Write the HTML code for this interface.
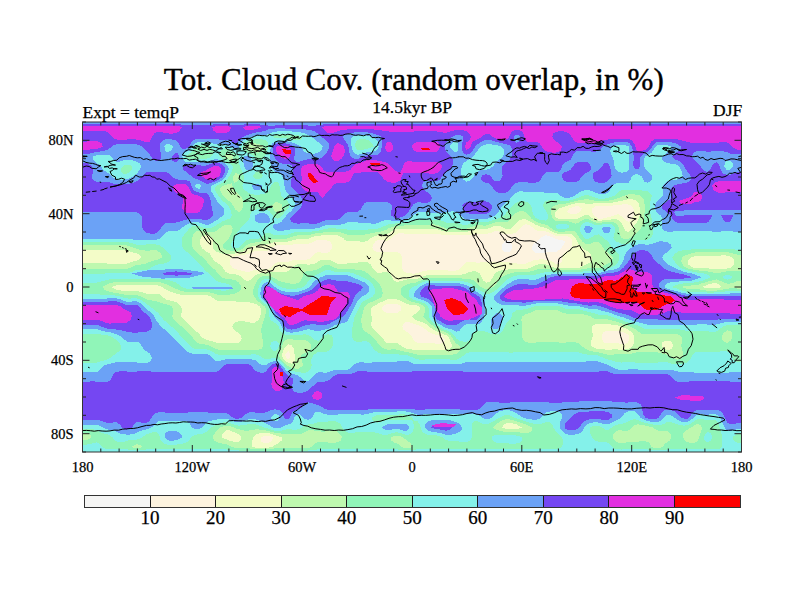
<!DOCTYPE html>
<html><head><meta charset="utf-8"><title>Tot. Cloud Cov.</title>
<style>
html,body{margin:0;padding:0;background:#fff;}
body{width:800px;height:600px;overflow:hidden;}
svg{display:block;}
text{font-family:"Liberation Serif","Times New Roman",serif;fill:#000;stroke:#000;stroke-width:0.25px;}
.ax{font-size:14.5px;}
.cb{font-size:19px;}
.sub{font-size:17.5px;}
.title{font-size:31px;stroke-width:0.4px;}
</style></head><body>
<svg width="800" height="600" viewBox="0 0 800 600">
<rect width="800" height="600" fill="#fff"/>
<defs><clipPath id="clip"><rect x="82.5" y="122" width="659" height="330"/></clipPath></defs>
<g clip-path="url(#clip)">
<rect x="82.5" y="122" width="659" height="330" fill="#f5f5f4"/>
<g shape-rendering="crispEdges">
<path fill="#fdf3df" d="M87,120 90.3,120 93.6,120 96.9,120 100.2,120 103.5,120 106.8,120 110.1,120 113.4,120 116.7,120 120,120 123.3,120 126.6,120 129.9,120 133.2,120 136.5,120 139.8,120 143.1,120 146.4,120 149.7,120 153,120 156.3,120 159.6,120 162.9,120 166.2,120 169.5,120 172.8,120 176.1,120 179.4,120 182.7,120 186,120 189.3,120 192.6,120 195.9,120 199.2,120 202.5,120 205.8,120 209.1,120 212.4,120 215.7,120 219,120 222.3,120 225.6,120 228.9,120 232.2,120 235.5,120 238.8,120 242.1,120 245.4,120 248.7,120 252,120 255.3,120 258.6,120 261.9,120 265.2,120 268.5,120 271.8,120 275.1,120 278.4,120 281.7,120 285,120 288.3,120 291.6,120 294.9,120 298.2,120 301.5,120 304.8,120 308.1,120 311.4,120 314.7,120 318,120 321.3,120 324.6,120 327.9,120 331.2,120 334.5,120 337.8,120 341.1,120 344.4,120 347.7,120 351,120 354.3,120 357.6,120 360.9,120 364.2,120 367.5,120 370.8,120 374.1,120 377.4,120 380.7,120 384,120 387.3,120 390.6,120 393.9,120 397.2,120 400.5,120 403.8,120 407.1,120 410.4,120 413.6,120 416.9,120 420.2,120 423.5,120 426.8,120 430.1,120 433.4,120 436.7,120 440,120 443.3,120 446.6,120 449.9,120 453.2,120 456.5,120 459.8,120 463.1,120 466.4,120 469.7,120 473,120 476.3,120 479.6,120 482.9,120 486.2,120 489.5,120 492.8,120 496.1,120 499.4,120 502.7,120 506,120 509.3,120 512.6,120 515.9,120 519.2,120 522.5,120 525.8,120 529.1,120 532.4,120 535.7,120 539,120 542.3,120 545.6,120 548.9,120 552.2,120 555.5,120 558.8,120 562.1,120 565.4,120 568.7,120 572,120 575.3,120 578.6,120 581.9,120 585.2,120 588.5,120 591.8,120 595.1,120 598.4,120 601.7,120 605,120 608.3,120 611.6,120 614.9,120 618.2,120 621.5,120 624.8,120 628.1,120 631.4,120 634.7,120 638,120 641.3,120 644.6,120 647.9,120 651.2,120 654.5,120 657.8,120 661.1,120 664.4,120 667.7,120 671,120 674.3,120 677.6,120 680.9,120 684.2,120 687.5,120 690.8,120 694.1,120 697.4,120 700.7,120 704,120 707.3,120 710.6,120 713.9,120 717.2,120 720.5,120 723.8,120 727.1,120 730.4,120 733.7,120 737,120 743.5,120 743.5,122.3 743.5,127 743.5,130.3 743.5,133.5 743.5,136.8 743.5,140.1 743.5,143.3 743.5,146.6 743.5,149.9 743.5,153.1 743.5,156.4 743.5,159.7 743.5,162.9 743.5,166.2 743.5,169.4 743.5,172.7 743.5,176 743.5,179.2 743.5,182.5 743.5,185.8 743.5,189 743.5,192.3 743.5,195.6 743.5,198.8 743.5,202.1 743.5,205.4 743.5,208.6 743.5,211.9 743.5,215.2 743.5,218.4 743.5,221.7 743.5,225 743.5,228.2 743.5,231.5 743.5,234.8 743.5,238 743.5,241.3 743.5,244.6 743.5,247.8 743.5,251.1 743.5,254.3 743.5,257.6 743.5,260.9 743.5,264.1 743.5,267.4 743.5,270.7 743.5,273.9 743.5,277.2 743.5,280.5 743.5,283.7 743.5,287 743.5,290.3 743.5,293.5 743.5,296.8 743.5,300.1 743.5,303.3 743.5,306.6 743.5,309.9 743.5,313.1 743.5,316.4 743.5,319.7 743.5,322.9 743.5,326.2 743.5,329.4 743.5,332.7 743.5,336 743.5,339.2 743.5,342.5 743.5,345.8 743.5,349 743.5,352.3 743.5,355.6 743.5,358.8 743.5,362.1 743.5,365.4 743.5,368.6 743.5,371.9 743.5,375.2 743.5,378.4 743.5,381.7 743.5,385 743.5,388.2 743.5,391.5 743.5,394.8 743.5,398 743.5,401.3 743.5,404.6 743.5,407.8 743.5,411.1 743.5,414.3 743.5,417.6 743.5,420.9 743.5,424.1 743.5,427.4 743.5,430.7 743.5,433.9 743.5,437.2 743.5,440.5 743.5,443.7 743.5,447 743.5,451.7 743.5,454 737,454 733.7,454 730.4,454 727.1,454 723.8,454 720.5,454 717.2,454 713.9,454 710.6,454 707.3,454 704,454 700.7,454 697.4,454 694.1,454 690.8,454 687.5,454 684.2,454 680.9,454 677.6,454 674.3,454 671,454 667.7,454 664.4,454 661.1,454 657.8,454 654.5,454 651.2,454 647.9,454 644.6,454 641.3,454 638,454 634.7,454 631.4,454 628.1,454 624.8,454 621.5,454 618.2,454 614.9,454 611.6,454 608.3,454 605,454 601.7,454 598.4,454 595.1,454 591.8,454 588.5,454 585.2,454 581.9,454 578.6,454 575.3,454 572,454 568.7,454 565.4,454 562.1,454 558.8,454 555.5,454 552.2,454 548.9,454 545.6,454 542.3,454 539,454 535.7,454 532.4,454 529.1,454 525.8,454 522.5,454 519.2,454 515.9,454 512.6,454 509.3,454 506,454 502.7,454 499.4,454 496.1,454 492.8,454 489.5,454 486.2,454 482.9,454 479.6,454 476.3,454 473,454 469.7,454 466.4,454 463.1,454 459.8,454 456.5,454 453.2,454 449.9,454 446.6,454 443.3,454 440,454 436.7,454 433.4,454 430.1,454 426.8,454 423.5,454 420.2,454 416.9,454 413.6,454 410.4,454 407.1,454 403.8,454 400.5,454 397.2,454 393.9,454 390.6,454 387.3,454 384,454 380.7,454 377.4,454 374.1,454 370.8,454 367.5,454 364.2,454 360.9,454 357.6,454 354.3,454 351,454 347.7,454 344.4,454 341.1,454 337.8,454 334.5,454 331.2,454 327.9,454 324.6,454 321.3,454 318,454 314.7,454 311.4,454 308.1,454 304.8,454 301.5,454 298.2,454 294.9,454 291.6,454 288.3,454 285,454 281.7,454 278.4,454 275.1,454 271.8,454 268.5,454 265.2,454 261.9,454 258.6,454 255.3,454 252,454 248.7,454 245.4,454 242.1,454 238.8,454 235.5,454 232.2,454 228.9,454 225.6,454 222.3,454 219,454 215.7,454 212.4,454 209.1,454 205.8,454 202.5,454 199.2,454 195.9,454 192.6,454 189.3,454 186,454 182.7,454 179.4,454 176.1,454 172.8,454 169.5,454 166.2,454 162.9,454 159.6,454 156.3,454 153,454 149.7,454 146.4,454 143.1,454 139.8,454 136.5,454 133.2,454 129.9,454 126.6,454 123.3,454 120,454 116.7,454 113.4,454 110.1,454 106.8,454 103.5,454 100.2,454 96.9,454 93.6,454 90.3,454 87,454 80.5,454 80.5,451.7 80.5,447 80.5,443.7 80.5,440.5 80.5,437.2 80.5,433.9 80.5,430.7 80.5,427.4 80.5,424.1 80.5,420.9 80.5,417.6 80.5,414.3 80.5,411.1 80.5,407.8 80.5,404.6 80.5,401.3 80.5,398 80.5,394.8 80.5,391.5 80.5,388.2 80.5,385 80.5,381.7 80.5,378.4 80.5,375.2 80.5,371.9 80.5,368.6 80.5,365.4 80.5,362.1 80.5,358.8 80.5,355.6 80.5,352.3 80.5,349 80.5,345.8 80.5,342.5 80.5,339.2 80.5,336 80.5,332.7 80.5,329.4 80.5,326.2 80.5,322.9 80.5,319.7 80.5,316.4 80.5,313.1 80.5,309.9 80.5,306.6 80.5,303.3 80.5,300.1 80.5,296.8 80.5,293.5 80.5,290.3 80.5,287 80.5,283.7 80.5,280.5 80.5,277.2 80.5,273.9 80.5,270.7 80.5,267.4 80.5,264.1 80.5,260.9 80.5,257.6 80.5,254.3 80.5,251.1 80.5,247.8 80.5,244.6 80.5,241.3 80.5,238 80.5,234.8 80.5,231.5 80.5,228.2 80.5,225 80.5,221.7 80.5,218.4 80.5,215.2 80.5,211.9 80.5,208.6 80.5,205.4 80.5,202.1 80.5,198.8 80.5,195.6 80.5,192.3 80.5,189 80.5,185.8 80.5,182.5 80.5,179.2 80.5,176 80.5,172.7 80.5,169.4 80.5,166.2 80.5,162.9 80.5,159.7 80.5,156.4 80.5,153.1 80.5,149.9 80.5,146.6 80.5,143.3 80.5,140.1 80.5,136.8 80.5,133.5 80.5,130.3 80.5,127 80.5,122.3 80.5,120ZM540.7,238 539,240 537.3,241.3 535.7,242.5 533.2,244.6 532.4,246.2 531.8,247.8 532.4,249.6 533.1,251.1 535.7,252.8 539,253.3 542.3,253 545.6,252.5 548.9,252.4 552.2,252.5 555.5,252.2 557.3,251.1 558.8,250.2 561.5,247.8 562.1,246.8 564,244.6 565.2,241.3 562.1,240.1 558.8,239.8 555.5,239 554.2,238 552.2,237.4 548.9,236 545.6,235.2 542.3,236.6ZM505.1,241.3 502.7,243.5 502.1,244.6 501.7,247.8 502.7,250 503.7,251.1 506,252.3 509.3,251.8 510.3,251.1 512.4,247.8 512.2,244.6 509.6,241.3 509.3,241.2 506,240.9Z"/>
<path fill="#f3fcc8" d="M87,120 90.3,120 93.6,120 96.9,120 100.2,120 103.5,120 106.8,120 110.1,120 113.4,120 116.7,120 120,120 123.3,120 126.6,120 129.9,120 133.2,120 136.5,120 139.8,120 143.1,120 146.4,120 149.7,120 153,120 156.3,120 159.6,120 162.9,120 166.2,120 169.5,120 172.8,120 176.1,120 179.4,120 182.7,120 186,120 189.3,120 192.6,120 195.9,120 199.2,120 202.5,120 205.8,120 209.1,120 212.4,120 215.7,120 219,120 222.3,120 225.6,120 228.9,120 232.2,120 235.5,120 238.8,120 242.1,120 245.4,120 248.7,120 252,120 255.3,120 258.6,120 261.9,120 265.2,120 268.5,120 271.8,120 275.1,120 278.4,120 281.7,120 285,120 288.3,120 291.6,120 294.9,120 298.2,120 301.5,120 304.8,120 308.1,120 311.4,120 314.7,120 318,120 321.3,120 324.6,120 327.9,120 331.2,120 334.5,120 337.8,120 341.1,120 344.4,120 347.7,120 351,120 354.3,120 357.6,120 360.9,120 364.2,120 367.5,120 370.8,120 374.1,120 377.4,120 380.7,120 384,120 387.3,120 390.6,120 393.9,120 397.2,120 400.5,120 403.8,120 407.1,120 410.4,120 413.6,120 416.9,120 420.2,120 423.5,120 426.8,120 430.1,120 433.4,120 436.7,120 440,120 443.3,120 446.6,120 449.9,120 453.2,120 456.5,120 459.8,120 463.1,120 466.4,120 469.7,120 473,120 476.3,120 479.6,120 482.9,120 486.2,120 489.5,120 492.8,120 496.1,120 499.4,120 502.7,120 506,120 509.3,120 512.6,120 515.9,120 519.2,120 522.5,120 525.8,120 529.1,120 532.4,120 535.7,120 539,120 542.3,120 545.6,120 548.9,120 552.2,120 555.5,120 558.8,120 562.1,120 565.4,120 568.7,120 572,120 575.3,120 578.6,120 581.9,120 585.2,120 588.5,120 591.8,120 595.1,120 598.4,120 601.7,120 605,120 608.3,120 611.6,120 614.9,120 618.2,120 621.5,120 624.8,120 628.1,120 631.4,120 634.7,120 638,120 641.3,120 644.6,120 647.9,120 651.2,120 654.5,120 657.8,120 661.1,120 664.4,120 667.7,120 671,120 674.3,120 677.6,120 680.9,120 684.2,120 687.5,120 690.8,120 694.1,120 697.4,120 700.7,120 704,120 707.3,120 710.6,120 713.9,120 717.2,120 720.5,120 723.8,120 727.1,120 730.4,120 733.7,120 737,120 743.5,120 743.5,122.3 743.5,127 743.5,130.3 743.5,133.5 743.5,136.8 743.5,140.1 743.5,143.3 743.5,146.6 743.5,149.9 743.5,153.1 743.5,156.4 743.5,159.7 743.5,162.9 743.5,166.2 743.5,169.4 743.5,172.7 743.5,176 743.5,179.2 743.5,182.5 743.5,185.8 743.5,189 743.5,192.3 743.5,195.6 743.5,198.8 743.5,202.1 743.5,205.4 743.5,208.6 743.5,211.9 743.5,215.2 743.5,218.4 743.5,221.7 743.5,225 743.5,228.2 743.5,231.5 743.5,234.8 743.5,238 743.5,241.3 743.5,244.6 743.5,247.8 743.5,251.1 743.5,254.3 743.5,257.6 743.5,260.9 743.5,264.1 743.5,267.4 743.5,270.7 743.5,273.9 743.5,277.2 743.5,280.5 743.5,283.7 743.5,287 743.5,290.3 743.5,293.5 743.5,296.8 743.5,300.1 743.5,303.3 743.5,306.6 743.5,309.9 743.5,313.1 743.5,316.4 743.5,319.7 743.5,322.9 743.5,326.2 743.5,329.4 743.5,332.7 743.5,336 743.5,339.2 743.5,342.5 743.5,345.8 743.5,349 743.5,352.3 743.5,355.6 743.5,358.8 743.5,362.1 743.5,365.4 743.5,368.6 743.5,371.9 743.5,375.2 743.5,378.4 743.5,381.7 743.5,385 743.5,388.2 743.5,391.5 743.5,394.8 743.5,398 743.5,401.3 743.5,404.6 743.5,407.8 743.5,411.1 743.5,414.3 743.5,417.6 743.5,420.9 743.5,424.1 743.5,427.4 743.5,430.7 743.5,433.9 743.5,437.2 743.5,440.5 743.5,443.7 743.5,447 743.5,451.7 743.5,454 737,454 733.7,454 730.4,454 727.1,454 723.8,454 720.5,454 717.2,454 713.9,454 710.6,454 707.3,454 704,454 700.7,454 697.4,454 694.1,454 690.8,454 687.5,454 684.2,454 680.9,454 677.6,454 674.3,454 671,454 667.7,454 664.4,454 661.1,454 657.8,454 654.5,454 651.2,454 647.9,454 644.6,454 641.3,454 638,454 634.7,454 631.4,454 628.1,454 624.8,454 621.5,454 618.2,454 614.9,454 611.6,454 608.3,454 605,454 601.7,454 598.4,454 595.1,454 591.8,454 588.5,454 585.2,454 581.9,454 578.6,454 575.3,454 572,454 568.7,454 565.4,454 562.1,454 558.8,454 555.5,454 552.2,454 548.9,454 545.6,454 542.3,454 539,454 535.7,454 532.4,454 529.1,454 525.8,454 522.5,454 519.2,454 515.9,454 512.6,454 509.3,454 506,454 502.7,454 499.4,454 496.1,454 492.8,454 489.5,454 486.2,454 482.9,454 479.6,454 476.3,454 473,454 469.7,454 466.4,454 463.1,454 459.8,454 456.5,454 453.2,454 449.9,454 446.6,454 443.3,454 440,454 436.7,454 433.4,454 430.1,454 426.8,454 423.5,454 420.2,454 416.9,454 413.6,454 410.4,454 407.1,454 403.8,454 400.5,454 397.2,454 393.9,454 390.6,454 387.3,454 384,454 380.7,454 377.4,454 374.1,454 370.8,454 367.5,454 364.2,454 360.9,454 357.6,454 354.3,454 351,454 347.7,454 344.4,454 341.1,454 337.8,454 334.5,454 331.2,454 327.9,454 324.6,454 321.3,454 318,454 314.7,454 311.4,454 308.1,454 304.8,454 301.5,454 298.2,454 294.9,454 291.6,454 288.3,454 285,454 281.7,454 278.4,454 275.1,454 271.8,454 268.5,454 265.2,454 261.9,454 258.6,454 255.3,454 252,454 248.7,454 245.4,454 242.1,454 238.8,454 235.5,454 232.2,454 228.9,454 225.6,454 222.3,454 219,454 215.7,454 212.4,454 209.1,454 205.8,454 202.5,454 199.2,454 195.9,454 192.6,454 189.3,454 186,454 182.7,454 179.4,454 176.1,454 172.8,454 169.5,454 166.2,454 162.9,454 159.6,454 156.3,454 153,454 149.7,454 146.4,454 143.1,454 139.8,454 136.5,454 133.2,454 129.9,454 126.6,454 123.3,454 120,454 116.7,454 113.4,454 110.1,454 106.8,454 103.5,454 100.2,454 96.9,454 93.6,454 90.3,454 87,454 80.5,454 80.5,451.7 80.5,447 80.5,443.7 80.5,440.5 80.5,437.2 80.5,433.9 80.5,430.7 80.5,427.4 80.5,424.1 80.5,420.9 80.5,417.6 80.5,414.3 80.5,411.1 80.5,407.8 80.5,404.6 80.5,401.3 80.5,398 80.5,394.8 80.5,391.5 80.5,388.2 80.5,385 80.5,381.7 80.5,378.4 80.5,375.2 80.5,371.9 80.5,368.6 80.5,365.4 80.5,362.1 80.5,358.8 80.5,355.6 80.5,352.3 80.5,349 80.5,345.8 80.5,342.5 80.5,339.2 80.5,336 80.5,332.7 80.5,329.4 80.5,326.2 80.5,322.9 80.5,319.7 80.5,316.4 80.5,313.1 80.5,309.9 80.5,306.6 80.5,303.3 80.5,300.1 80.5,296.8 80.5,293.5 80.5,290.3 80.5,287 80.5,283.7 80.5,280.5 80.5,277.2 80.5,273.9 80.5,270.7 80.5,267.4 80.5,264.1 80.5,260.9 80.5,257.6 80.5,254.3 80.5,251.1 80.5,247.8 80.5,244.6 80.5,241.3 80.5,238 80.5,234.8 80.5,231.5 80.5,228.2 80.5,225 80.5,221.7 80.5,218.4 80.5,215.2 80.5,211.9 80.5,208.6 80.5,205.4 80.5,202.1 80.5,198.8 80.5,195.6 80.5,192.3 80.5,189 80.5,185.8 80.5,182.5 80.5,179.2 80.5,176 80.5,172.7 80.5,169.4 80.5,166.2 80.5,162.9 80.5,159.7 80.5,156.4 80.5,153.1 80.5,149.9 80.5,146.6 80.5,143.3 80.5,140.1 80.5,136.8 80.5,133.5 80.5,130.3 80.5,127 80.5,122.3 80.5,120ZM613.3,205.4 611.6,205.7 608.3,206 605,205.9 601.7,205.8 598.4,205.8 595.1,206.6 591.8,208.6 591.7,208.6 591.8,211.9 591.8,211.9 593.3,215.2 595.1,216.7 598.1,218.4 598.4,218.5 601.7,218.6 604,218.4 605,218.2 608.3,217.1 611.6,216.3 614.5,215.2 614.9,214.8 618.2,214.3 619.8,215.2 621.5,216.2 623.7,218.4 624.8,219.7 627.9,221.7 628.1,221.9 628.4,221.7 631.4,219.6 632.4,218.4 633.8,215.2 634,211.9 633.4,208.6 631.4,206 630.7,205.4 628.1,204.4 624.8,204.2 621.5,204.5 618.2,204.9 614.9,205.2ZM569.2,208.6 568.7,209.6 567,211.9 568.7,213 572,214 575.3,214.3 578.6,213.1 580.1,211.9 581.9,208.6 578.6,206.1 575.3,206.3 572,207.5ZM523.9,225 522.5,225.7 520,228.2 519.2,229.2 517.1,231.5 515.9,232.4 512.6,233.8 509.3,234.4 506,234.4 502.7,233.6 499.4,231.7 498.8,231.5 496.1,230.7 494,231.5 492.8,232 489.5,233.3 486.2,233.9 482.9,233.9 479.6,233.8 476.3,233.9 473,234.4 469.7,234.7 469.5,234.8 466.4,235.1 463.1,235.2 459.8,235.2 456.5,235.3 453.2,235.3 449.9,235.3 446.6,235.2 443.3,234.8 443,234.8 440,234.4 436.7,234 433.4,233.9 430.1,234 426.8,234 423.5,234 420.2,234 416.9,234 413.6,234 410.4,234 407.1,233.8 403.8,233.5 400.5,233.3 397.2,233.6 395.2,234.8 393.9,235.9 391.3,238 390.6,238.8 387.3,240.7 384,240.5 380.7,240.1 377.4,240.1 375.6,241.3 374.1,243 373,244.6 372.2,247.8 374.1,250.5 374.9,251.1 377.4,252.1 380.7,252.4 384,252.4 387.3,252.2 390.6,251.9 393.9,251.7 397.2,252 400.5,254.1 400.7,254.3 402.1,257.6 402.2,260.9 402.1,264.1 402,267.4 403.2,270.7 403.8,271.3 407.1,273 410.4,273.4 413.6,273.6 416.9,273.3 420.2,271.9 423.5,271 425.8,270.7 426.8,270.5 430.1,270.4 433.4,270.4 436.7,270.4 440,270.4 443.3,270.4 446.6,270.4 449.9,270.6 450.7,270.7 453.2,270.7 454.6,270.7 456.5,270.5 459.8,268.9 461.6,267.4 463.1,265.2 464.2,264.1 466.4,262.5 469.7,262.1 473,262.2 476.3,262.5 479.6,262.5 482.9,262.2 486.2,262 489.5,262 492.8,262.2 496.1,262.4 499.4,262.5 502.7,262.4 506,262.3 509.3,262.4 512.6,262.8 515.9,263.3 519.2,263.8 522.5,264 525.8,263.7 529.1,262.2 532,260.9 532.4,260.7 535.7,259.8 539,259.5 542.3,259.4 545.6,259.7 548.9,260.4 550.1,260.9 552.2,261.8 555.5,263.5 557.9,264.1 558.8,264.3 559.7,264.1 562.1,261.4 562.3,260.9 562.1,259.3 562,257.6 562.1,257.3 563.5,254.3 565.4,252.2 566.8,251.1 568.7,249.6 571.3,247.8 572,246.2 572.5,244.6 572.3,241.3 572,240.7 570.9,238 568.7,236.6 565.4,235.9 562.1,236.1 558.8,236.1 555.5,235.6 553.7,234.8 552.2,234.2 548.9,232.6 546.1,231.5 545.6,231.3 542.3,231 539,231 535.7,230.3 533.9,228.2 532.4,227.4 529.1,225.2 528.5,225 525.8,224.3ZM314,241.3 311.4,242.8 308.1,243.8 304.8,244 301.5,244 298.2,244 294.9,244.3 292.8,244.6 291.6,244.8 288.3,245.1 285,245.2 281.7,245 278.4,245 275.1,245.8 271.8,247.5 271.2,247.8 268.5,250.5 266.3,251.1 265.2,251.4 262.3,251.1 261.9,251 258.6,250.6 255.3,250.9 254.9,251.1 252,252.4 248.7,253.6 245.8,254.3 245.4,254.5 242.1,255.2 238.8,255.8 235.5,256.2 232.2,257.3 231.4,257.6 229.8,260.9 230.2,264.1 232.1,267.4 232.2,267.5 235.5,269.1 238.8,269.9 241.9,270.7 242.1,270.7 245.4,271.8 248.7,271.9 252,270.8 252.6,270.7 255.3,270 258.6,269.6 261.9,269.4 265.2,269.2 268.5,268.6 271.2,267.4 271.8,266.8 274.2,264.1 275.1,263.2 278.4,261.8 281.7,262 285,262.2 288.3,261.7 290.3,260.9 291.6,260.5 294.9,259.7 298.2,259.5 301.5,259.7 304.8,259.8 308.1,259.4 311.3,257.6 311.4,257.5 314.1,254.3 314.7,253.7 318,252.2 321.3,252.5 324.6,252.9 327.9,252.7 330.1,251.1 331.2,249.3 331.8,247.8 331.8,244.6 331.2,243 329.6,241.3 327.9,240.7 324.6,240.1 321.3,239.7 318,239.7 314.7,241ZM382.4,306.6 381.9,309.9 384,311.8 387.3,313 389.4,313.1 390.6,313.2 393.9,313.2 394.7,313.1 397.2,312.9 400.5,310.9 401.3,309.9 401.3,306.6 400.5,306.1 397.2,304.1 393.9,303.6 390.6,303.6 387.3,304.1 384,305.7ZM404.3,322.9 403.8,323.5 402.2,326.2 403.2,329.4 403.8,329.9 407.1,332.2 407.8,332.7 410.4,334.9 411.3,336 413,339.2 413.6,340.4 416.9,342.5 416.9,342.5 420.2,342.8 423.5,342.9 426.8,343 430.1,343.2 433.4,343.4 436.7,343.6 440,343.6 443.3,343.1 444.2,342.5 444.9,339.2 443.3,337.9 440.9,336 440,335.7 436.7,334.8 433.4,334 430.2,332.7 430.1,332.7 426.8,330.5 425.7,329.4 423.5,328 421,326.2 420.2,325.9 416.9,324.7 413.6,323.8 411,322.9 410.4,322.7 407.1,321.7ZM603.2,332.7 601.7,335.5 601.6,336 601.6,339.2 601.7,339.5 604.2,342.5 605,342.8 608.3,343.1 611.6,343 614.9,343 618.2,343.4 621.5,344 624.8,344.1 628,342.5 628.1,342.4 629.4,339.2 629.1,336 628.1,334.8 624.8,332.8 624.6,332.7 621.5,331.9 618.2,331 614.9,330.5 611.6,330.6 608.3,330.9 605,331.6ZM286.8,352.3 285,355 284.8,355.6 285,355.9 287.7,358.8 288.3,359.2 289,358.8 290.4,355.6 289.4,352.3 288.3,350.8ZM260.9,437.2 260.7,440.5 261.9,442.1 265.2,443.5 268.5,442.7 271.8,440.8 272.2,440.5 273,437.2 271.8,436.8 268.5,435.9 265.2,435.8 261.9,436.7Z"/>
<path fill="#bef8af" d="M87,120 90.3,120 93.6,120 96.9,120 100.2,120 103.5,120 106.8,120 110.1,120 113.4,120 116.7,120 120,120 123.3,120 126.6,120 129.9,120 133.2,120 136.5,120 139.8,120 143.1,120 146.4,120 149.7,120 153,120 156.3,120 159.6,120 162.9,120 166.2,120 169.5,120 172.8,120 176.1,120 179.4,120 182.7,120 186,120 189.3,120 192.6,120 195.9,120 199.2,120 202.5,120 205.8,120 209.1,120 212.4,120 215.7,120 219,120 222.3,120 225.6,120 228.9,120 232.2,120 235.5,120 238.8,120 242.1,120 245.4,120 248.7,120 252,120 255.3,120 258.6,120 261.9,120 265.2,120 268.5,120 271.8,120 275.1,120 278.4,120 281.7,120 285,120 288.3,120 291.6,120 294.9,120 298.2,120 301.5,120 304.8,120 308.1,120 311.4,120 314.7,120 318,120 321.3,120 324.6,120 327.9,120 331.2,120 334.5,120 337.8,120 341.1,120 344.4,120 347.7,120 351,120 354.3,120 357.6,120 360.9,120 364.2,120 367.5,120 370.8,120 374.1,120 377.4,120 380.7,120 384,120 387.3,120 390.6,120 393.9,120 397.2,120 400.5,120 403.8,120 407.1,120 410.4,120 413.6,120 416.9,120 420.2,120 423.5,120 426.8,120 430.1,120 433.4,120 436.7,120 440,120 443.3,120 446.6,120 449.9,120 453.2,120 456.5,120 459.8,120 463.1,120 466.4,120 469.7,120 473,120 476.3,120 479.6,120 482.9,120 486.2,120 489.5,120 492.8,120 496.1,120 499.4,120 502.7,120 506,120 509.3,120 512.6,120 515.9,120 519.2,120 522.5,120 525.8,120 529.1,120 532.4,120 535.7,120 539,120 542.3,120 545.6,120 548.9,120 552.2,120 555.5,120 558.8,120 562.1,120 565.4,120 568.7,120 572,120 575.3,120 578.6,120 581.9,120 585.2,120 588.5,120 591.8,120 595.1,120 598.4,120 601.7,120 605,120 608.3,120 611.6,120 614.9,120 618.2,120 621.5,120 624.8,120 628.1,120 631.4,120 634.7,120 638,120 641.3,120 644.6,120 647.9,120 651.2,120 654.5,120 657.8,120 661.1,120 664.4,120 667.7,120 671,120 674.3,120 677.6,120 680.9,120 684.2,120 687.5,120 690.8,120 694.1,120 697.4,120 700.7,120 704,120 707.3,120 710.6,120 713.9,120 717.2,120 720.5,120 723.8,120 727.1,120 730.4,120 733.7,120 737,120 743.5,120 743.5,122.3 743.5,127 743.5,130.3 743.5,133.5 743.5,136.8 743.5,140.1 743.5,143.3 743.5,146.6 743.5,149.9 743.5,153.1 743.5,156.4 743.5,159.7 743.5,162.9 743.5,166.2 743.5,169.4 743.5,172.7 743.5,176 743.5,179.2 743.5,182.5 743.5,185.8 743.5,189 743.5,192.3 743.5,195.6 743.5,198.8 743.5,202.1 743.5,205.4 743.5,208.6 743.5,211.9 743.5,215.2 743.5,218.4 743.5,221.7 743.5,225 743.5,228.2 743.5,231.5 743.5,234.8 743.5,238 743.5,241.3 743.5,244.6 743.5,247.8 743.5,251.1 743.5,254.3 743.5,257.6 743.5,260.9 743.5,264.1 743.5,267.4 743.5,270.7 743.5,273.9 743.5,277.2 743.5,280.5 743.5,283.7 743.5,287 743.5,290.3 743.5,293.5 743.5,296.8 743.5,300.1 743.5,303.3 743.5,306.6 743.5,309.9 743.5,313.1 743.5,316.4 743.5,319.7 743.5,322.9 743.5,326.2 743.5,329.4 743.5,332.7 743.5,336 743.5,339.2 743.5,342.5 743.5,345.8 743.5,349 743.5,352.3 743.5,355.6 743.5,358.8 743.5,362.1 743.5,365.4 743.5,368.6 743.5,371.9 743.5,375.2 743.5,378.4 743.5,381.7 743.5,385 743.5,388.2 743.5,391.5 743.5,394.8 743.5,398 743.5,401.3 743.5,404.6 743.5,407.8 743.5,411.1 743.5,414.3 743.5,417.6 743.5,420.9 743.5,424.1 743.5,427.4 743.5,430.7 743.5,433.9 743.5,437.2 743.5,440.5 743.5,443.7 743.5,447 743.5,451.7 743.5,454 737,454 733.7,454 730.4,454 727.1,454 723.8,454 720.5,454 717.2,454 713.9,454 710.6,454 707.3,454 704,454 700.7,454 697.4,454 694.1,454 690.8,454 687.5,454 684.2,454 680.9,454 677.6,454 674.3,454 671,454 667.7,454 664.4,454 661.1,454 657.8,454 654.5,454 651.2,454 647.9,454 644.6,454 641.3,454 638,454 634.7,454 631.4,454 628.1,454 624.8,454 621.5,454 618.2,454 614.9,454 611.6,454 608.3,454 605,454 601.7,454 598.4,454 595.1,454 591.8,454 588.5,454 585.2,454 581.9,454 578.6,454 575.3,454 572,454 568.7,454 565.4,454 562.1,454 558.8,454 555.5,454 552.2,454 548.9,454 545.6,454 542.3,454 539,454 535.7,454 532.4,454 529.1,454 525.8,454 522.5,454 519.2,454 515.9,454 512.6,454 509.3,454 506,454 502.7,454 499.4,454 496.1,454 492.8,454 489.5,454 486.2,454 482.9,454 479.6,454 476.3,454 473,454 469.7,454 466.4,454 463.1,454 459.8,454 456.5,454 453.2,454 449.9,454 446.6,454 443.3,454 440,454 436.7,454 433.4,454 430.1,454 426.8,454 423.5,454 420.2,454 416.9,454 413.6,454 410.4,454 407.1,454 403.8,454 400.5,454 397.2,454 393.9,454 390.6,454 387.3,454 384,454 380.7,454 377.4,454 374.1,454 370.8,454 367.5,454 364.2,454 360.9,454 357.6,454 354.3,454 351,454 347.7,454 344.4,454 341.1,454 337.8,454 334.5,454 331.2,454 327.9,454 324.6,454 321.3,454 318,454 314.7,454 311.4,454 308.1,454 304.8,454 301.5,454 298.2,454 294.9,454 291.6,454 288.3,454 285,454 281.7,454 278.4,454 275.1,454 271.8,454 268.5,454 265.2,454 261.9,454 258.6,454 255.3,454 252,454 248.7,454 245.4,454 242.1,454 238.8,454 235.5,454 232.2,454 228.9,454 225.6,454 222.3,454 219,454 215.7,454 212.4,454 209.1,454 205.8,454 202.5,454 199.2,454 195.9,454 192.6,454 189.3,454 186,454 182.7,454 179.4,454 176.1,454 172.8,454 169.5,454 166.2,454 162.9,454 159.6,454 156.3,454 153,454 149.7,454 146.4,454 143.1,454 139.8,454 136.5,454 133.2,454 129.9,454 126.6,454 123.3,454 120,454 116.7,454 113.4,454 110.1,454 106.8,454 103.5,454 100.2,454 96.9,454 93.6,454 90.3,454 87,454 80.5,454 80.5,451.7 80.5,447 80.5,443.7 80.5,440.5 80.5,437.2 80.5,433.9 80.5,430.7 80.5,427.4 80.5,424.1 80.5,420.9 80.5,417.6 80.5,414.3 80.5,411.1 80.5,407.8 80.5,404.6 80.5,401.3 80.5,398 80.5,394.8 80.5,391.5 80.5,388.2 80.5,385 80.5,381.7 80.5,378.4 80.5,375.2 80.5,371.9 80.5,368.6 80.5,365.4 80.5,362.1 80.5,358.8 80.5,355.6 80.5,352.3 80.5,349 80.5,345.8 80.5,342.5 80.5,339.2 80.5,336 80.5,332.7 80.5,329.4 80.5,326.2 80.5,322.9 80.5,319.7 80.5,316.4 80.5,313.1 80.5,309.9 80.5,306.6 80.5,303.3 80.5,300.1 80.5,296.8 80.5,293.5 80.5,290.3 80.5,287 80.5,283.7 80.5,280.5 80.5,277.2 80.5,273.9 80.5,270.7 80.5,267.4 80.5,264.1 80.5,263.3 87,263.3 90.3,263.3 93.6,263.3 96.9,263.3 100.2,263.4 103.5,263.4 106.8,263.5 110.1,263.5 113.4,263.5 116.7,263.7 120,264 122.8,264.1 123.3,264.2 123.5,264.1 126.6,263.8 129.9,262.4 133.2,261.4 135.6,260.9 136.5,260.6 139.8,259 141.5,257.6 139.8,255.2 138.9,254.3 136.5,253.4 133.2,252.5 129.9,251.4 129.1,251.1 126.6,250.3 123.3,250.1 120,250.2 116.7,250.4 113.4,250.4 110.1,250.4 106.8,250.3 103.5,250.3 100.2,250.3 96.9,250.3 93.6,250.3 90.3,250.3 87,250.3 80.5,250.3 80.5,247.8 80.5,244.6 80.5,241.3 80.5,238 80.5,234.8 80.5,231.5 80.5,228.2 80.5,225 80.5,221.7 80.5,218.4 80.5,215.2 80.5,211.9 80.5,208.6 80.5,205.4 80.5,202.1 80.5,198.8 80.5,195.6 80.5,192.3 80.5,189 80.5,185.8 80.5,182.5 80.5,179.2 80.5,176 80.5,172.7 80.5,169.4 80.5,166.2 80.5,162.9 80.5,159.7 80.5,156.4 80.5,153.1 80.5,149.9 80.5,146.6 80.5,143.3 80.5,140.1 80.5,136.8 80.5,133.5 80.5,130.3 80.5,127 80.5,122.3 80.5,120ZM615.5,202.1 614.9,202.2 611.6,202.8 608.3,203.2 605,203.3 601.7,203.3 598.4,203.3 595.1,203.3 591.8,203.6 588.5,203.9 585.2,203.6 581.9,203.1 578.6,203 575.3,203.4 572,204.2 568.7,205.2 568,205.4 565.4,206.4 562.1,207.5 559,208.6 558.8,208.8 555.5,211.6 555.4,211.9 554.8,215.2 555.5,216.8 557.3,218.4 558.8,218.9 562.1,218.8 565.4,218.6 568.7,218.5 572,218.9 575.3,219.2 578.3,218.4 578.6,218.3 581.9,216.3 584.4,215.2 585.2,214.6 587.2,215.2 588.5,215.4 591.8,218 592.3,218.4 595.1,219.9 598.4,220.7 601.7,220.6 605,220.2 608.3,219.8 611.6,219.4 614.9,219.1 618.2,219.9 620.3,221.7 621.5,223.4 622.6,225 624.1,228.2 624.8,230.1 627.1,231.5 628.1,231.9 628.6,231.5 631.4,228.9 632,228.2 634.7,225.1 634.8,225 637.3,221.7 638,220.5 639,218.4 639.7,215.2 639.8,211.9 639.8,208.6 639.3,205.4 638,202.2 637.9,202.1 634.7,199.8 631.4,199.2 628.1,199.2 624.8,199.9 621.5,200.8 618.2,201.5ZM517.6,221.7 515.9,223.5 514.9,225 512.6,227.4 511.6,228.2 509.3,229.3 506,229.3 504.1,228.2 502.7,227.4 499.4,225.8 496.1,225.5 492.8,226.7 489.5,228.1 489,228.2 486.2,229.1 482.9,229.2 479.6,229 476.3,229.2 473,230.2 469.7,231.1 467.8,231.5 466.4,231.7 463.1,231.9 459.8,231.9 456.5,231.9 453.2,232 449.9,232 446.6,231.8 444.9,231.5 443.3,231.2 440,230.2 436.7,229.2 433.4,229 430.1,229.1 426.8,229.2 423.5,229.3 420.2,229.3 416.9,229.2 413.6,229.2 410.4,229.2 407.1,229.1 403.8,228.8 400.5,228.6 397.2,228.8 393.9,230.1 391.5,231.5 390.6,232.1 387.3,234.2 384.7,234.8 384,234.9 380.7,235.1 377.4,235.3 374.1,236.3 370.8,237.9 370.5,238 367.5,240.8 365.7,241.3 364.2,241.9 360.9,241.6 358.9,241.3 357.6,241.1 354.3,241 351,241.2 347.7,241.1 344.4,239.5 343.1,238 341.1,236.9 337.8,235.3 334.5,234.8 331.2,234.9 327.9,235.2 324.6,235.4 321.3,235.5 318,235.7 314.7,236.4 311.4,237.5 309.8,238 308.1,238.8 304.8,239.2 301.5,239.1 298.2,239 294.9,239.7 291.6,240.8 289.3,241.3 288.3,241.5 285,241.8 281.7,241.7 278.4,241.6 275.1,241.9 271.8,242.7 268.5,243.9 266.2,244.6 265.2,244.9 261.9,245.2 258.6,245.3 255.3,245.7 252,246.6 249.3,247.8 248.7,248.2 245.4,250.3 244.1,251.1 242.1,251.9 238.8,252.8 235.5,253.4 232.2,253.8 228.9,254.2 225.6,254.3 222.3,253.6 219,252.5 215.7,251.2 215.3,251.1 212.8,247.8 212.8,244.6 213,241.3 212.6,238 212.4,237.8 209.1,235.7 205.8,235.3 202.5,236.4 200.7,238 200.2,241.3 200.5,244.6 201.9,247.8 202.5,248.5 205.6,251.1 205.8,251.2 209.1,253 210.4,254.3 211.9,257.6 212.4,258.2 214.7,260.9 215.7,261.8 219,264 219.2,264.1 222.3,267.1 222.5,267.4 224.7,270.7 225.6,271.7 228.9,273.7 230.8,273.9 232.2,274 235.5,274.3 238.8,275.2 242,277.2 242.1,277.3 245.4,280.4 245.6,280.5 248.7,281.1 249.4,280.5 252,278.4 252.9,277.2 255.3,275.5 258.5,273.9 258.6,273.9 261.9,273.1 265.2,272.6 268.5,272.4 271.8,272.3 275.1,272.2 278.4,272.2 281.7,272.2 285,272 288.3,271.1 288.8,270.7 291.6,267.9 291.9,267.4 294.9,265.3 298,264.1 298.2,264.1 301.5,264.1 302.4,264.1 304.8,264.3 308.1,264.6 311.4,264.4 312.9,264.1 314.7,263.7 318,261.6 319.4,260.9 321.3,260.1 324.6,259.6 327.9,259.7 331.2,260.6 332,260.9 334.5,262 337.8,263.9 339.7,264.1 341.1,264.2 342.6,264.1 344.4,263.9 347.7,263.4 351,263.1 354.3,262.9 357.6,262.6 360.9,262.2 364.2,262 367.5,262.3 370.2,264.1 370.8,264.7 372.3,267.4 374.1,269.9 374.8,270.7 377.4,272.6 380.7,272.7 384,272.3 387.3,272.1 390.3,273.9 390.6,274.2 392.2,277.2 393.8,280.5 393.9,280.6 397.2,282.2 400.5,281.2 402.5,280.5 403.8,280.1 407.1,279.5 410.4,279.3 413.6,279.2 416.9,278.8 420.2,277.6 421.5,277.2 423.5,276.2 426.8,275.1 430.1,274.9 433.4,274.9 436.7,275.1 440,275.1 443.3,275.1 446.6,275.1 449.9,275.1 453.2,275.1 456.5,275.1 459.8,274.9 463.1,274.4 464.9,273.9 466.4,273.2 469.7,271.8 473,271.3 476.3,271.5 479.6,273.3 480.2,273.9 481.7,277.2 482.9,279.6 483.5,280.5 486.2,282.9 489.5,281.7 490.7,280.5 492.8,277.2 492.8,277.1 494.3,273.9 496.1,272.2 499.4,270.8 500.2,270.7 502.7,270.2 506,269.8 509.3,269.3 512.6,269 515.9,268.8 519.2,268.8 522.5,268.9 525.8,268.9 529.1,268.2 531.2,267.4 532.4,266.7 535.7,265.1 539,264.3 542.3,264.2 545.6,264.5 548.9,265.5 552.2,267 553.3,267.4 555.5,267.9 558.8,268.1 562.1,268.2 565.4,268.1 568.7,268.2 572,268.2 575.3,268.2 578.6,267.8 580.5,267.4 581.9,266.4 585.2,264.8 587.5,264.1 588.5,263.5 591.8,260.9 591.8,259.7 591.9,257.6 591.8,257.4 590.7,254.3 588.5,252 587.1,251.1 585.2,250.2 582.2,247.8 581.9,247.6 579.2,244.6 578.6,243.9 577.1,241.3 575.5,238 575.3,237.8 572.5,234.8 572,234.5 568.7,233.6 565.4,233.5 562.1,233.7 558.8,233.8 555.5,233.2 552.2,231.6 551.9,231.5 548.9,229.6 546,228.2 545.6,228 542.3,227.1 539,226.1 536.5,225 535.7,224.7 532.4,222.9 530.4,221.7 529.1,220.8 525.8,219.2 522.5,219.2 519.2,220.3ZM690.7,257.6 687.9,260.9 687.8,264.1 690.8,266 692.7,267.4 694.1,267.7 697.4,268.2 700.7,268.3 704,268.4 707.3,268.4 710.6,268.6 713.9,268.8 717.2,269 720.5,269 723.8,268.8 727.1,268.5 730.4,267.7 731.1,267.4 733.7,264.6 734.1,264.1 734.4,260.9 733.7,259.6 732.6,257.6 730.4,256.6 727.1,255.6 723.8,255.4 720.5,255.5 717.2,255.5 713.9,255.6 710.6,255.6 707.3,255.6 704,255.5 700.7,255.5 697.4,255.6 694.1,256.3 690.8,257.6ZM710.5,283.7 707.3,284.7 704,286.2 702.3,287 704,287.5 707.3,288.3 710.6,288.3 713.9,288.3 717.2,288.2 720.5,287.4 721.9,287 720.5,285.9 718,283.7 717.2,283.4 713.9,283.3 710.6,283.7ZM111.5,287 113.4,288.2 116.7,289.7 119.1,290.3 120,290.4 123.3,290.8 126.6,291.2 129.9,291.2 133.2,291.2 136.5,291.2 139.8,291.7 143.1,292.5 145.6,293.5 146.4,293.8 149.7,294 153,293.7 156.3,293.6 159.6,294.4 162,296.8 162.9,297.4 166.2,299.4 168.2,300.1 169.5,300.4 172.8,301.1 176.1,302.2 178,303.3 179.4,304.5 181.2,306.6 181.8,309.9 181.5,313.1 181.4,316.4 182.7,318.3 183.7,319.7 186,321.6 187.6,322.9 189.3,324.4 191,326.2 192.6,327.9 194,329.4 195.9,331.2 197.8,332.7 199.2,334.1 200.8,336 202.5,337.5 204.9,339.2 205.8,339.6 209.1,340.5 212.4,341.4 215.6,342.5 215.7,342.5 219,343.2 222.3,343 225.6,342.8 228.9,342.9 232.2,343.3 235.5,343.4 238.8,342.8 239.3,342.5 241.7,339.2 241.3,336 238.8,333.4 237.8,332.7 235.5,331.2 233.4,329.4 232.2,326.3 232.1,326.2 232.2,326.1 234.1,322.9 235.5,322 238.8,321.2 242.1,321.2 245.4,321.6 248.7,322.3 252,322.9 255.3,322.5 258.5,319.7 258.6,319.6 260.1,316.4 261.1,313.1 261.6,309.9 259.9,306.6 258.6,305.6 255.3,303.8 253.6,303.3 252,302.8 248.7,302.2 245.4,302.1 242.1,302 238.8,301.8 235.5,301.4 232.2,300.9 228.9,300.7 225.6,300.7 222.3,301 219,301.1 215.9,300.1 215.7,300 212.4,297.6 211.6,296.8 209.1,295.8 205.8,295.1 202.5,295.1 199.2,295.2 195.9,295.3 192.6,295.3 189.3,295.3 186,295.2 182.7,294.9 179.4,294.4 176.1,293.5 176.1,293.5 172.8,292.5 169.5,291.3 167.1,290.3 166.2,289.9 162.9,287.6 162.4,287 159.6,285.9 156.3,285.1 153,285 149.7,285.2 146.4,285.2 143.1,285.2 139.8,285.2 136.5,285.1 133.2,285.2 129.9,285.2 126.6,285.2 123.3,285.1 120,285.1 116.7,285.2 113.4,286.2ZM385.9,300.1 384,300.8 380.7,302.4 378.8,303.3 377.4,304.2 374.1,305.8 372.3,306.6 370.8,309.5 370.6,309.9 370.8,311.3 371,313.1 371.7,316.4 371.7,319.7 371.4,322.9 371.5,326.2 373.7,329.4 374.1,329.8 377.3,332.7 377.4,332.8 380.7,335.9 380.7,336 383.3,339.2 384,340.1 386.5,342.5 387.3,343 390.6,343.2 393.9,343 397.2,343 400.5,345.2 400.9,345.8 403.8,347.4 407.1,349 407.3,349 410.4,349.4 413.6,349.6 416.9,349.7 420.2,349.7 423.5,349.7 426.8,349.7 430.1,349.6 433.4,349.5 436.7,349.5 440,349.6 443.3,349.7 446.6,349.7 449.7,349 449.9,348.9 452.1,345.8 450.9,342.5 449.9,339.9 449.7,339.2 447.5,336 446.6,335.4 443.3,334 440.3,332.7 440,332.6 436.7,331.3 433.4,329.7 433.1,329.4 430.1,327.5 428.7,326.2 426.8,324.6 423.7,322.9 423.5,322.9 420.2,321.5 416.9,320.3 415.5,319.7 413.6,317.9 412.2,316.4 413.6,314.8 416.2,313.1 416.9,312.8 420.2,309.9 419.6,306.6 416.9,305.5 413.6,305.2 410.4,304.9 407.1,304.2 405.4,303.3 403.8,302.5 400.5,300.8 398.6,300.1 397.2,299.5 393.9,299 390.6,299 387.3,299.4ZM592.4,326.2 592.1,329.4 592.5,332.7 592.7,336 591.8,339.2 591.8,339.2 590.6,342.5 590.8,345.8 591.8,346.5 595.1,348.2 598,349 598.4,349.1 601.7,349.4 605,349.5 608.3,349.6 611.6,349.5 614.9,349.4 618.2,349.5 621.5,349.6 624.8,349.6 628.1,349.1 628.1,349 631.4,347.1 632.9,345.8 634,342.5 634.3,339.2 634,336 632.2,332.7 631.4,331.9 628.1,329.6 627.9,329.4 624.8,328.2 621.5,326.8 620.2,326.2 618.2,325.5 614.9,324.9 611.6,324.6 608.3,324.3 605,324.2 601.7,324.1 598.4,324 595.1,324.5ZM662.4,342.5 661.5,345.8 664.4,349 664.5,349 667.7,349.9 671,349.3 671.4,349 672.9,345.8 672.1,342.5 671,341.5 667.7,340.5 664.4,341.2ZM286.3,345.8 285,347.1 284.1,349 282.6,352.3 281.7,355.6 281.7,355.6 281.7,355.6 283.3,358.8 285,360.6 287,362.1 288.3,363.1 291.6,363.6 294.3,362.1 294.9,358.9 294.9,358.8 294.9,358.7 294.7,355.6 294.4,352.3 293.9,349 292.1,345.8 291.6,345.3 288.3,344.2ZM504.3,424.1 502.7,426.5 502.2,427.4 502.7,427.6 506,428.7 509.3,429 512.6,429.1 515.9,429.1 519.2,428.6 522.3,427.4 519.2,425.9 515.9,424.1 515.9,424.1 512.6,423.5 509.3,423.1 506,423.4ZM225.3,430.7 222.3,433.9 222.3,434.1 221.8,437.2 222.3,437.5 225.6,439.1 228.9,440.2 229.5,440.5 232.2,441.3 235.5,442.2 238.8,441.9 240.3,440.5 241.5,437.2 238.8,434.5 238,433.9 235.5,432.8 232.2,431.6 230.1,430.7 228.9,430.3 225.6,430.5ZM257.2,433.9 255.3,435.2 253,437.2 252.4,440.5 252.2,443.7 252.3,447 255.3,447.5 258.6,447.9 261.9,447.9 265.2,447.9 268.5,447.6 271.8,447 271.8,447 275.1,444.9 277.3,443.7 278.4,443 281.5,440.5 281.5,437.2 278.4,436.2 275.1,435.2 271.8,434.1 271.3,433.9 268.5,433.2 265.2,432.8 261.9,432.9 258.6,433.5Z"/>
<path fill="#90f5b8" d="M87,120 90.3,120 93.6,120 96.9,120 100.2,120 103.5,120 106.8,120 110.1,120 113.4,120 116.7,120 120,120 123.3,120 126.6,120 129.9,120 133.2,120 136.5,120 139.8,120 143.1,120 146.4,120 149.7,120 153,120 156.3,120 159.6,120 162.9,120 166.2,120 169.5,120 172.8,120 176.1,120 179.4,120 182.7,120 186,120 189.3,120 192.6,120 195.9,120 199.2,120 202.5,120 205.8,120 209.1,120 212.4,120 215.7,120 219,120 222.3,120 225.6,120 228.9,120 232.2,120 235.5,120 238.8,120 242.1,120 245.4,120 248.7,120 252,120 255.3,120 258.6,120 261.9,120 265.2,120 268.5,120 271.8,120 275.1,120 278.4,120 281.7,120 285,120 288.3,120 291.6,120 294.9,120 298.2,120 301.5,120 304.8,120 308.1,120 311.4,120 314.7,120 318,120 321.3,120 324.6,120 327.9,120 331.2,120 334.5,120 337.8,120 341.1,120 344.4,120 347.7,120 351,120 354.3,120 357.6,120 360.9,120 364.2,120 367.5,120 370.8,120 374.1,120 377.4,120 380.7,120 384,120 387.3,120 390.6,120 393.9,120 397.2,120 400.5,120 403.8,120 407.1,120 410.4,120 413.6,120 416.9,120 420.2,120 423.5,120 426.8,120 430.1,120 433.4,120 436.7,120 440,120 443.3,120 446.6,120 449.9,120 453.2,120 456.5,120 459.8,120 463.1,120 466.4,120 469.7,120 473,120 476.3,120 479.6,120 482.9,120 486.2,120 489.5,120 492.8,120 496.1,120 499.4,120 502.7,120 506,120 509.3,120 512.6,120 515.9,120 519.2,120 522.5,120 525.8,120 529.1,120 532.4,120 535.7,120 539,120 542.3,120 545.6,120 548.9,120 552.2,120 555.5,120 558.8,120 562.1,120 565.4,120 568.7,120 572,120 575.3,120 578.6,120 581.9,120 585.2,120 588.5,120 591.8,120 595.1,120 598.4,120 601.7,120 605,120 608.3,120 611.6,120 614.9,120 618.2,120 621.5,120 624.8,120 628.1,120 631.4,120 634.7,120 638,120 641.3,120 644.6,120 647.9,120 651.2,120 654.5,120 657.8,120 661.1,120 664.4,120 667.7,120 671,120 674.3,120 677.6,120 680.9,120 684.2,120 687.5,120 690.8,120 694.1,120 697.4,120 700.7,120 704,120 707.3,120 710.6,120 713.9,120 717.2,120 720.5,120 723.8,120 727.1,120 730.4,120 733.7,120 737,120 743.5,120 743.5,122.3 743.5,127 743.5,130.3 743.5,133.5 743.5,136.8 743.5,140.1 743.5,143.3 743.5,146.6 743.5,149.9 743.5,153.1 743.5,156.4 743.5,159.7 743.5,162.9 743.5,166.2 743.5,169.4 743.5,172.7 743.5,176 743.5,179.2 743.5,182.5 743.5,185.8 743.5,189 743.5,192.3 743.5,195.6 743.5,198.8 743.5,202.1 743.5,205.4 743.5,208.6 743.5,211.9 743.5,215.2 743.5,218.4 743.5,221.7 743.5,225 743.5,228.2 743.5,231.5 743.5,234.8 743.5,238 743.5,241.3 743.5,244.6 743.5,247.8 743.5,251.1 743.5,254.3 743.5,254.5 737,254.5 736.6,254.3 733.7,253.6 730.4,252.8 727.1,252.2 723.8,252.1 720.5,252.1 717.2,252.2 713.9,252.2 710.6,252.3 707.3,252.2 704,252.2 700.7,252.2 697.4,252.2 694.1,252.7 690.8,253.5 688.1,254.3 687.5,254.6 684.2,256 681.8,257.6 681.3,260.9 682.3,264.1 684.2,266.3 685.3,267.4 687.5,268.3 690.8,269.1 694.1,269.8 697.4,270.4 700.7,270.6 701.1,270.7 704,270.9 707.3,271.3 710.6,271.9 713.9,272.7 717.2,273.2 720.5,272.5 723.8,271.9 727.1,271.4 730.4,271.2 733.7,271 737,270.8 743.5,270.8 743.5,273.9 743.5,277.2 743.5,280.5 743.5,280.9 737,280.9 733.7,282.5 730.4,283.5 727.3,283.7 727.1,283.8 727.1,283.7 723.8,282.6 720.5,280.9 719.4,280.5 717.2,279.4 713.9,279.8 711.7,280.5 710.6,280.7 707.3,281.6 704,282.7 700.7,283.7 700.5,283.7 697.4,285 694.1,285.4 690.8,285.5 687.5,285.6 684.2,286.2 681.6,287 684.2,288 687.5,288.9 690.8,288.9 694.1,288.7 697.4,288.8 700.7,289.6 703.6,290.3 704,290.3 707.3,290.7 710.6,290.8 713.9,290.7 717.2,290.5 719.3,290.3 720.5,290 723.8,289.3 727.1,288.6 730.4,288.4 733.7,288.4 737,288.5 743.5,288.5 743.5,290.3 743.5,293.5 743.5,296.8 743.5,300.1 743.5,303.3 743.5,306.6 743.5,309.9 743.5,313.1 743.5,316.4 743.5,319.7 743.5,322.9 743.5,326.2 743.5,329.4 743.5,332.7 743.5,336 743.5,339.2 743.5,342.5 743.5,345.8 743.5,349 743.5,352.3 743.5,355.6 743.5,358.8 743.5,362.1 743.5,365.4 743.5,368.6 743.5,371.9 743.5,375.2 743.5,378.4 743.5,381.7 743.5,385 743.5,388.2 743.5,391.5 743.5,394.8 743.5,398 743.5,401.3 743.5,404.6 743.5,407.8 743.5,411.1 743.5,414.3 743.5,417.6 743.5,420.9 743.5,424.1 743.5,427.4 743.5,430.7 743.5,433.9 743.5,437.2 743.5,440.5 743.5,443.7 743.5,447 743.5,451.7 743.5,454 737,454 733.7,454 730.4,454 727.1,454 723.8,454 720.5,454 717.2,454 713.9,454 710.6,454 707.3,454 704,454 700.7,454 697.4,454 694.1,454 690.8,454 687.5,454 684.2,454 680.9,454 677.6,454 674.3,454 671,454 667.7,454 664.4,454 661.1,454 657.8,454 654.5,454 651.2,454 647.9,454 644.6,454 641.3,454 638,454 634.7,454 631.4,454 628.1,454 624.8,454 621.5,454 618.2,454 614.9,454 611.6,454 608.3,454 605,454 601.7,454 598.4,454 595.1,454 591.8,454 588.5,454 585.2,454 581.9,454 578.6,454 575.3,454 572,454 568.7,454 565.4,454 562.1,454 558.8,454 555.5,454 552.2,454 548.9,454 545.6,454 542.3,454 539,454 535.7,454 532.4,454 529.1,454 525.8,454 522.5,454 519.2,454 515.9,454 512.6,454 509.3,454 506,454 502.7,454 499.4,454 496.1,454 492.8,454 489.5,454 486.2,454 482.9,454 479.6,454 476.3,454 473,454 469.7,454 466.4,454 463.1,454 459.8,454 456.5,454 453.2,454 449.9,454 446.6,454 443.3,454 440,454 436.7,454 433.4,454 430.1,454 426.8,454 423.5,454 420.2,454 416.9,454 413.6,454 410.4,454 407.1,454 403.8,454 400.5,454 397.2,454 393.9,454 390.6,454 387.3,454 384,454 380.7,454 377.4,454 374.1,454 370.8,454 367.5,454 364.2,454 360.9,454 357.6,454 354.3,454 351,454 347.7,454 344.4,454 341.1,454 337.8,454 334.5,454 331.2,454 327.9,454 324.6,454 321.3,454 318,454 314.7,454 311.4,454 308.1,454 304.8,454 301.5,454 298.2,454 294.9,454 291.6,454 288.3,454 285,454 281.7,454 278.4,454 275.1,454 271.8,454 268.5,454 265.2,454 261.9,454 258.6,454 255.3,454 252,454 248.7,454 245.4,454 242.1,454 238.8,454 235.5,454 232.2,454 228.9,454 225.6,454 222.3,454 219,454 215.7,454 212.4,454 209.1,454 205.8,454 202.5,454 199.2,454 195.9,454 192.6,454 189.3,454 186,454 182.7,454 179.4,454 176.1,454 172.8,454 169.5,454 166.2,454 162.9,454 159.6,454 156.3,454 153,454 149.7,454 146.4,454 143.1,454 139.8,454 136.5,454 133.2,454 129.9,454 126.6,454 123.3,454 120,454 116.7,454 113.4,454 110.1,454 106.8,454 103.5,454 100.2,454 96.9,454 93.6,454 90.3,454 87,454 80.5,454 80.5,451.7 80.5,447 80.5,443.7 80.5,440.5 80.5,440.1 87,440.1 90.3,438.3 91.7,437.2 90.3,435.2 88.8,433.9 87,433.3 80.5,433.3 80.5,430.7 80.5,427.4 80.5,424.1 80.5,420.9 80.5,417.6 80.5,414.3 80.5,411.1 80.5,407.8 80.5,404.6 80.5,401.3 80.5,398 80.5,394.8 80.5,391.5 80.5,388.2 80.5,385 80.5,381.7 80.5,378.4 80.5,375.2 80.5,371.9 80.5,368.6 80.5,365.4 80.5,362.1 80.5,358.8 80.5,355.6 80.5,352.3 80.5,349 80.5,345.8 80.5,342.5 80.5,339.2 80.5,336 80.5,332.7 80.5,329.4 80.5,326.2 80.5,322.9 80.5,319.7 80.5,316.4 80.5,313.1 80.5,309.9 80.5,306.6 80.5,303.3 80.5,300.1 80.5,296.8 80.5,293.5 80.5,290.3 80.5,287 80.5,283.7 80.5,280.5 80.5,277.2 80.5,273.9 80.5,270.7 80.5,269.2 87,269.2 90.3,269.2 93.6,269.2 96.9,269.2 100.2,269.2 103.5,269.2 106.8,269.1 110.1,269 113.4,268.9 116.7,268.9 120,269.1 123.3,269.2 126.6,269 129.9,267.9 131,267.4 133.2,266.3 136.5,265.1 139.8,264.6 143.1,264.3 144,264.1 146.4,263.5 149.7,261.8 152.6,260.9 153,260.8 156.3,260.1 159.6,259 162.1,257.6 161.4,254.3 159.6,252.4 157.8,251.1 156.3,250.2 153,250.1 149.7,250.5 146.4,250.7 143.1,250.2 139.8,249.6 136.5,248.9 133.8,247.8 133.2,247.6 129.9,246.3 126.6,245.4 123.3,245.2 120,245.3 116.7,245.4 113.4,245.5 110.1,245.4 106.8,245.4 103.5,245.4 100.2,245.4 96.9,245.4 93.6,245.4 90.3,245.4 87,245.4 80.5,245.4 80.5,244.6 80.5,241.3 80.5,238 80.5,234.8 80.5,231.5 80.5,228.2 80.5,225 80.5,221.7 80.5,218.4 80.5,215.2 80.5,211.9 80.5,208.6 80.5,205.4 80.5,202.1 80.5,198.8 80.5,195.6 80.5,192.3 80.5,189 80.5,185.8 80.5,182.5 80.5,179.2 80.5,176 80.5,172.7 80.5,169.4 80.5,166.2 80.5,162.9 80.5,159.7 80.5,156.4 80.5,153.1 80.5,149.9 80.5,146.6 80.5,143.3 80.5,140.1 80.5,136.8 80.5,133.5 80.5,130.3 80.5,127 80.5,122.3 80.5,120ZM250.9,143.3 248.7,143.9 245.4,146.6 245.4,146.6 245.4,146.6 248.4,149.9 248.7,150 252,150.9 255.3,152.2 258.6,152.9 261.9,150.3 262.2,149.9 263.4,146.6 261.9,145.3 258.6,144.1 255.4,143.3 255.3,143.3 252,143.2ZM224.4,156.4 225.6,157.5 228.9,159.5 230.2,159.7 232.2,159.8 232.5,159.7 233.5,156.4 232.2,155.4 228.9,153.7 225.6,154ZM233.6,176 232.5,179.2 234.1,182.5 235.5,182.5 235.5,182.5 238.8,179.8 239.1,179.2 239.5,176 238.8,174 235.5,172.9ZM223.2,185.8 222.3,186.5 219.9,189 221.1,192.3 222.3,194.2 223.2,195.6 225.6,198.3 226.2,198.8 228.9,200.8 230.5,202.1 232.2,204.2 233.1,205.4 234.8,208.6 235.5,209.8 238.6,211.9 238.8,212 239.2,211.9 242.1,209.7 242.4,208.6 242.9,205.4 243,202.1 242.5,198.8 242.1,198.2 240.3,195.6 238.8,194.3 236.3,192.3 235.5,191.5 233.5,189 232.3,185.8 232.2,183.3 228.9,183.9 225.6,184.8ZM624.5,195.6 621.5,196.8 618.2,198.2 616.7,198.8 614.9,199.3 611.6,200.1 608.3,200.7 605,201 601.7,201 598.4,200.9 595.1,200.7 591.8,200.2 588.5,199.4 585.2,199.3 581.9,199.8 578.6,200.4 575.3,201.1 572,202 571.8,202.1 568.7,202.9 565.4,203.6 562.1,204 558.8,204.4 555.5,205.1 554.7,205.4 552.2,207 551.2,208.6 551.2,211.9 551.6,215.2 552.2,217.9 552.4,218.4 555.5,221.2 558.8,221.5 562.1,221.3 565.4,221.1 568.7,221.4 569.7,221.7 572,222.5 575.3,223.7 578.6,222.7 579.8,221.7 581.9,220.4 585.2,218.9 588.5,219.2 591.8,220.8 593.7,221.7 595.1,222.3 598.4,223 601.7,222.6 605,222.1 608.3,221.8 611.6,221.9 614.9,222.6 617.9,225 618.2,225.8 619.2,228.2 619.5,231.5 619.8,234.8 621.5,237.5 622.1,238 624.8,239.2 628.1,239.2 630.4,238 631.4,237.3 634.7,234.8 634.7,234.7 638,231.7 638.4,231.5 641.1,228.2 641.3,227.7 642.4,225 643.4,221.7 644.1,218.4 644.4,215.2 644.6,211.9 644.6,208.7 644.6,208.6 644.6,208.6 644.6,205.4 644.3,202.1 643.5,198.8 641.3,196.5 639.8,195.6 638,194.9 634.7,194.5 631.4,194.4 628.1,194.5 624.8,195.4ZM271.9,205.4 273,208.6 275.1,211.8 275.3,211.9 278.4,212.8 279.3,211.9 281.7,209.3 282.2,208.6 282.5,205.4 281.7,204.5 278.4,202.5 275.1,202.4ZM517.8,211.9 515.9,212.8 513.5,215.2 512.6,216.1 510.8,218.4 509.3,220.4 507.7,221.7 506,222.5 502.7,222.1 499.4,221.9 496.1,222.2 492.8,223.3 489.5,224.5 488,225 486.2,225.5 482.9,225.5 479.6,225.3 476.3,225.5 473,226.5 469.7,227.8 468.2,228.2 466.4,228.7 463.1,228.8 459.8,228.8 456.5,228.7 453.2,228.8 449.9,228.9 446.6,228.6 445.2,228.2 443.3,227.4 440,225.9 437.5,225 436.7,224.7 433.4,224.4 430.1,224.6 426.8,224.7 423.5,224.8 420.2,224.7 416.9,224.7 413.6,225 413.6,225 410.4,225.2 407.1,225.4 403.8,225.5 400.5,225.7 397.2,225.9 393.9,226.5 390.6,227.5 388.9,228.2 387.3,229.2 384,230.6 380.7,231.5 380.5,231.5 377.4,232 374.1,232.6 370.8,233.3 367.5,234.3 364.2,234.6 360.9,234.5 357.6,234.5 354.3,234.6 351,234.7 347.7,234.6 344.4,233.6 341.1,232.5 337.8,231.8 334.5,231.5 331.2,231.5 327.9,231.8 324.6,232.2 321.3,232.7 318,233.1 314.7,233.6 311.4,234.4 309.6,234.8 308.1,235.2 304.8,235.5 301.5,235.4 298.2,235.3 294.9,235.9 291.6,237.1 289.1,238 288.3,238.3 285,238.7 281.7,238.7 278.4,238.6 275.1,238.5 271.8,238.7 268.5,239.2 265.2,240.4 262.4,241.3 261.9,241.4 258.6,242 255.3,242.4 252,242.9 248.7,243.9 247.6,244.6 245.4,246.2 243.7,247.8 242.1,248.9 238.8,250.4 235.5,251 232.2,250.9 228.9,250.4 225.6,249.2 223.1,247.8 222.5,244.6 225.6,241.9 226,241.3 228.9,238.4 229.1,238 230.7,234.8 232,231.5 232.2,230.8 232.8,228.2 232.2,226.8 230.2,225 228.9,224.5 225.6,224.8 225.1,225 222.3,226.5 219.7,228.2 219,229 215.7,231.3 214.8,231.5 212.4,231.8 209.1,231.8 205.8,231.6 205,231.5 202.5,231.2 199.2,230.7 195.9,231.2 195.6,231.5 193.3,234.8 192.6,236.6 192,238 191.6,241.3 191.6,244.6 192.6,247.1 192.8,247.8 195.6,251.1 195.9,251.4 198.9,254.3 199.2,254.6 202.5,257.3 202.8,257.6 205.8,260.6 206.1,260.9 208.9,264.1 209.1,264.4 212.3,267.4 212.4,267.5 215.7,270.6 215.8,270.7 218.4,273.9 219,274.6 221.6,277.2 222.3,277.6 225.6,278.9 228.9,279.3 232.2,279.5 235.5,280 236.3,280.5 238.8,282.7 239.6,283.7 241.4,287 240.4,290.3 238.8,291.7 235.5,293.3 234.9,293.5 232.2,294.1 228.9,294.6 225.6,294.9 222.3,295.1 219,295 215.7,294.3 213.6,293.5 212.4,293.1 209.1,292.3 205.8,291.9 202.5,291.8 199.2,291.9 195.9,292 192.6,292.1 189.3,292.1 186,291.8 182.7,291.2 179.6,290.3 179.4,290.2 176.1,288.9 172.8,287.4 172,287 169.5,285.8 166.2,284.3 164.8,283.7 162.9,283 159.6,282.2 156.3,281.8 153,281.8 149.7,281.9 146.4,282 143.1,282 139.8,281.9 136.5,281.9 133.2,281.9 129.9,282 126.6,282.1 123.3,282 120,281.9 116.7,282 113.4,282.4 110.1,283.2 108.3,283.7 106.8,284.5 103.5,286.4 102.5,287 103.5,288.4 105.1,290.3 106.8,291 110.1,291.9 113.4,292.5 116.7,293 119.3,293.5 120,293.7 123.3,294.4 126.6,295.2 129.9,295.3 133.2,295.2 136.5,295.2 139.8,296 141.5,296.8 143.1,297.5 146.4,299.2 149.5,300.1 149.7,300.2 153,300.6 156.3,301.2 159.6,302.5 162.3,303.3 162.9,303.5 166.2,304.2 169.5,305.3 172.1,306.6 172.8,308.2 173.4,309.9 172.9,313.1 172.8,314 172.3,316.4 172.8,317.3 174,319.7 176.1,321.7 177.3,322.9 179.4,324.7 181.2,326.2 182.7,327.6 184.7,329.4 186,330.8 187.9,332.7 189.3,334.1 191.2,336 192.6,337.6 194,339.2 195.9,341.5 197.1,342.5 199.2,343.6 202.5,344.2 205.8,344.6 209.1,345.5 209.6,345.8 212.4,347 215.7,348.9 216.1,349 219,349.9 222.3,350 225.6,349.8 228.9,349.6 232.2,349.6 235.5,349.6 238.8,349.7 242.1,349.8 245.4,350 248.7,350 252,349.9 255.3,349.8 258.6,349.6 260.8,349 261.9,348.3 263.1,345.8 263,342.5 262.6,339.2 261.9,336 261.9,335.5 261.4,332.7 261.3,329.4 261.8,326.2 261.9,326.1 262.9,322.9 263.9,319.7 264.9,316.4 265.2,315.5 265.8,313.1 266,309.9 265.2,307.5 264.7,306.6 261.9,304.5 260.4,303.3 258.6,301.6 256.8,300.1 255.3,297.9 253.9,296.8 253.1,293.5 253.3,290.3 254,287 255.3,284.7 255.6,283.7 257.2,280.5 258.6,278.8 260.5,277.2 261.9,276.6 265.2,275.7 268.5,275.7 271.8,276.7 272.7,277.2 275.1,278.6 278.1,280.5 278.4,280.6 281.7,281.7 285,282.5 288.3,283.3 290.8,283.7 291.6,283.8 294.9,283.9 295.8,283.7 298.2,283 300.9,280.5 301.5,279.3 302.4,277.2 303,273.9 304.8,271.8 308.1,270.9 311.4,270.7 311.5,270.7 314.7,270.3 318,269.2 320.8,267.4 321.3,267.1 324.6,265.1 327.9,264.8 331.2,266.1 333.3,267.4 334.5,267.9 337.8,268.8 341.1,268.9 344.4,268.8 347.7,268.7 351,268.9 354.3,269.4 357.6,269.8 360.9,270.3 362.6,270.7 364.2,271.1 367.5,273.2 368.1,273.9 370.8,276.3 371.8,277.2 374.1,278.9 376,280.5 377.4,282 379.3,283.7 380.7,286 381.1,287 382.2,290.3 382.8,293.5 381.8,296.8 380.7,297.4 377.4,299.4 376.1,300.1 374.1,300.9 370.8,302.3 368.3,303.3 367.5,303.8 364.5,306.6 364.2,307.7 363.4,309.9 362.7,313.1 361.7,316.4 361.4,319.7 361.5,322.9 361.9,326.2 363,329.4 364.2,330.7 366.8,332.7 367.5,333 370.8,335.4 371.4,336 374.1,338.4 374.9,339.2 377.4,342.3 377.5,342.5 380.1,345.8 380.7,346.3 384,348.5 385.4,349 387.3,349.5 390.6,349.5 393.9,349.4 397.2,349.6 400.5,350.6 403.8,351.5 407.1,352.2 407.6,352.3 410.4,352.9 413.6,353.7 416.9,354.6 420.2,354.9 423.5,354.8 426.8,354.6 430.1,354.5 433.4,354.5 436.7,354.5 440,354.5 443.3,354.5 446.6,354.6 449.9,354.6 453.2,354.5 456.5,353.8 458.7,352.3 459.8,350.9 461.1,349 459.8,345.9 459.8,345.8 456.5,343.8 455.4,342.5 453.2,339.5 453.1,339.2 451,336 449.9,334.9 446.6,332.8 446.4,332.7 443.3,331.4 440,330 438.9,329.4 436.7,328.3 433.5,326.2 433.4,326.1 430.1,323.4 429.6,322.9 426.8,320 426.3,319.7 423.5,316.7 423.2,316.4 423.5,315.9 424.5,313.1 425.3,309.9 424.6,306.6 423.5,305.8 420.2,304.1 418.2,303.3 416.9,302.9 413.6,302.3 410.4,301.3 407.8,300.1 407.1,299.5 403.8,297.4 402.7,296.8 400.8,293.5 400.7,290.3 402.2,287 403.8,285.9 407.1,284.3 409.4,283.7 410.4,283.5 413.6,283 416.9,282.2 420.2,280.7 420.8,280.5 423.5,279.3 426.8,278.3 430.1,278.1 433.4,278.1 436.7,278.2 440,278.3 443.3,278.3 446.6,278.2 449.9,278.2 453.2,278.2 456.5,278.2 459.8,278.4 463.1,278.6 466.4,278.8 469.7,279.1 473,279.9 474.1,280.5 476.3,282.3 477.4,283.7 479.6,286 480.9,287 482.9,288 486.2,289.2 489.5,288.7 492.8,287.2 493.2,287 496.1,284.1 496.4,283.7 498.6,280.5 499.4,279.3 501.6,277.2 502.7,276.5 506,274.9 508.7,273.9 509.3,273.7 512.6,272.8 515.9,272.2 519.2,272.1 522.5,272.1 525.8,272.1 529.1,271.8 532.4,271.1 533.7,270.7 535.7,269.9 539,269 542.3,268.6 545.6,268.6 548.9,269.1 552.2,269.6 555.5,270 558.8,270.1 562.1,270.2 565.4,270.2 568.7,270.3 572,270.4 575.3,270.4 578.6,270 581.9,269.4 585.2,268.7 588.5,268.3 591.8,268.4 595.1,268.5 598.4,268.1 601.1,267.4 601.7,267 605,265.1 607.3,264.1 608.3,263.4 611.6,261 611.7,260.9 613,257.6 611.6,255.8 610.2,254.3 608.3,252.8 605.8,251.1 605,250.3 603.1,247.8 601.7,245.5 601.1,244.6 598.4,241.5 595.1,241.5 591.8,243.3 588.5,244.2 585.2,243.6 582.2,241.3 581.9,241 579.7,238 578.6,236.2 577.7,234.8 575.3,231.7 574.7,231.5 572,230.9 568.7,231.1 565.4,231.5 565.2,231.5 562.1,231.7 558.8,231.7 557.8,231.5 555.5,230.8 552.2,228.9 551.2,228.2 548.9,226 546.4,225 545.6,224.7 542.3,223.8 539,222.8 536.3,221.7 535.7,221.4 532.4,219.2 531.3,218.4 529.1,215.8 528.3,215.2 525.8,211.9 525.7,211.9 522.5,210.9 519.2,211.2ZM537.4,309.9 535.7,310.4 532.4,312 529.1,313 528.8,313.1 525.8,314.2 522.5,316.1 522.2,316.4 521.4,319.7 521.7,322.9 522.2,326.2 522.3,329.4 522.1,332.7 522,336 522.5,338.4 522.8,339.2 525.8,342 528.1,342.5 529.1,342.7 532.4,342.7 535.7,342.5 535.9,342.5 539,342.4 542.3,342.4 545.6,342.4 548.9,342.5 552.2,342.4 555.5,342.4 558.8,342.5 560.5,342.5 562.1,342.5 565.4,342.5 566.3,342.5 568.7,342.4 572,342.3 575.3,342.3 576.1,342.5 578.6,343.2 581.5,345.8 581.9,346.1 585.2,348.8 585.5,349 588.5,350.3 591.8,351.2 595.1,351.8 597.8,352.3 598.4,352.4 601.7,353.1 605,354 608.3,354.7 611.6,354.7 614.9,354.4 618.2,354.3 621.5,354.2 624.8,354.3 628.1,354.2 631.4,353.7 634.7,352.9 637.3,352.3 638,352.1 641.3,352 644.6,352 647.9,352 651.2,351.8 654.5,351.7 657.7,352.3 657.8,352.3 661.1,353.3 664.4,354 667.7,354.8 669.5,355.6 671,356.5 674.3,358.8 674.3,358.8 677.6,359.7 680.7,358.8 680.9,358.7 683.2,355.6 682.9,352.3 681.8,349 681.3,345.8 681.8,342.5 682.2,339.2 681.1,336 680.9,335.9 677.6,334.2 674.3,333.9 671,334.1 667.7,334.4 664.4,334.5 661.1,334.4 657.8,334.2 654.5,334.1 651.2,334.1 647.9,334.2 644.6,334.1 641.3,333.5 639.9,332.7 638,331.5 636.1,329.4 634.7,328.6 631.4,327 629.5,326.2 628.1,325.7 624.8,324.5 621.5,323.3 620.6,322.9 618.2,322.1 614.9,321.2 611.6,320.4 608.9,319.7 608.3,319.5 605,319.2 601.7,319.3 598.4,319.4 595.1,318.8 591.8,317.2 590.7,316.4 588.5,315.5 585.2,314.6 581.9,314.2 578.6,313.7 575.3,313.5 572,313.7 568.7,313.8 565.4,313.4 564.4,313.1 562.1,312.5 558.8,310.9 556.5,309.9 555.5,309.6 552.2,309.6 548.9,309.8 545.6,309.8 542.3,309.6 539,309.6ZM724,332.7 723.8,333 722,336 722,339.2 723.8,341.6 726.2,342.5 727.1,342.7 727.6,342.5 730.4,340.7 731.4,339.2 732.5,336 732.4,332.7 730.4,330.8 727.1,330.3ZM287.7,339.2 285,340.1 283.3,342.5 282.3,345.8 281.7,347.4 281.1,349 279.5,352.3 278.7,355.6 280.4,358.8 281.7,360 283.7,362.1 285,363.4 287.2,365.4 288.3,366.3 291.6,367.7 294.9,368.6 296.3,368.6 298.2,368.7 298.5,368.6 301.5,366.9 302.8,365.4 302.4,362.1 301.5,359.4 301.3,358.8 301.1,355.6 301.5,354.9 304.8,353 306.1,352.3 308.1,351.5 310.8,349 311.4,346.8 311.6,345.8 311.4,345.5 309,342.5 308.1,341.6 304.8,340.2 301.5,340.2 298.2,340.5 294.9,340 291.6,339.3 290.2,339.2 288.3,339.2ZM501.3,420.9 499.4,422 496.1,424.1 496.1,424.1 492.8,427.3 492.7,427.4 492.8,427.5 496.1,429.6 499.2,430.7 499.4,430.7 502.7,431.4 506,432 509.3,432.2 512.6,432.2 515.9,432.3 519.2,432.4 522.5,432.7 525.8,433.1 529.1,432.7 531.7,430.7 531.7,427.4 529.1,426.2 525.8,424.6 525,424.1 522.5,423.3 519.2,422.1 515.9,421 515.3,420.9 512.6,420.1 509.3,419.3 506,419.1 502.7,420.2ZM697.2,424.1 694.1,425.7 690.9,427.4 690.8,427.5 687.5,429.8 685.6,430.7 684.2,432.3 683.1,433.9 682.9,437.2 684.2,439.6 684.9,440.5 687.5,442.3 690.8,442.8 694.1,442.7 697.4,441.4 698,440.5 699.3,437.2 700.1,433.9 700.7,432 701.2,430.7 702.1,427.4 700.7,425.5 697.9,424.1 697.4,424ZM220.6,427.4 219,428.8 216.9,430.7 215.7,432.2 214.2,433.9 212.7,437.2 214.3,440.5 215.7,441.6 219,442.9 222.3,443.5 223.7,443.7 225.6,444.1 228.9,445.2 231.9,447 232.2,447.1 235.5,447.9 238.8,448.2 242.1,448.2 245.4,448.2 248.7,448.4 252,448.8 255.3,449.2 258.6,449.4 261.9,449.4 265.2,449.4 268.5,449.2 271.8,448.9 275.1,448.4 278.4,448.2 281.7,448.2 285,448.2 288.3,448.2 291.6,448.2 294.9,448.2 298.2,448.2 301.5,448.2 304.8,448.2 308.1,448 311.4,447.2 312,447 314.4,443.7 314.7,443.5 318,442.2 321.3,442.1 324.6,442.2 327.9,442.5 331.2,442.7 334.5,442.7 337.8,442.1 340.5,440.5 341.1,439.6 342,437.2 341.1,435.9 339.8,433.9 337.8,431.9 334.5,430.7 334.5,430.7 333,430.7 331.2,430.7 327.9,431.2 324.6,431.5 321.3,431.5 318,431.2 314.9,430.7 314.7,430.6 311.4,430.3 308.1,430.5 307.7,430.7 304.8,432.2 301.5,433.6 299.9,433.9 298.2,434.3 294.9,434.5 291.6,434.3 288.3,434 287.6,433.9 285,433.7 281.7,433.6 278.4,433.3 275.1,432.8 271.8,431.9 268.5,431 266.7,430.7 265.2,430.3 261.9,429.8 258.6,429.4 255.3,429.4 252,429.9 248.7,430.7 246.5,430.7 245.4,430.7 245.3,430.7 242.1,430 238.8,429.3 235.5,428.4 233.4,427.4 232.2,427 228.9,425.9 225.6,425.6 222.3,426.6ZM632,427.4 631.4,428.2 628.2,430.7 628.1,430.7 624.8,431 623.4,430.7 621.5,430.4 618.2,430.2 617.3,430.7 614.9,432.3 613.5,433.9 612.3,437.2 614.9,440.5 614.9,440.5 618.2,442.6 621.5,442.9 624.8,442.6 628.1,442.3 631.4,442.1 634.7,441.9 638,441.6 641.3,441.3 644.6,441.2 647.9,441.9 650,443.7 651.2,446.1 651.5,447 654.5,447.8 657.8,448.1 661.1,447.5 662.5,447 664.4,444.4 665.2,443.7 667.7,442 669.6,440.5 671,438.2 671.5,437.2 671,434.8 670.7,433.9 667.7,431.5 664.4,431.1 661.1,431 659.1,430.7 657.8,430.5 654.5,429 652.6,427.4 651.2,427 647.9,426.1 644.6,425.5 641.3,424.9 638,424.3 634.7,425.3ZM391.4,437.2 391.2,440.5 393.9,442.3 397.2,443.5 397.6,443.7 400.5,445.5 401.5,447 403.8,447.7 407.1,448.2 410.4,447.7 412.5,447 411,443.7 410.4,443 407.1,440.5 407.1,440.4 403.8,438.4 402.7,437.2 400.5,436.3 397.2,435.5 393.9,436.1ZM131.5,447 133.2,447.6 136.5,448.1 139.8,447.8 142.5,447 139.8,444.8 136.5,444.3 133.2,445.7Z"/>
<path fill="#84f1ea" d="M87,120 90.3,120 93.6,120 96.9,120 100.2,120 103.5,120 106.8,120 110.1,120 113.4,120 116.7,120 120,120 123.3,120 126.6,120 129.9,120 133.2,120 136.5,120 139.8,120 143.1,120 146.4,120 149.7,120 153,120 156.3,120 159.6,120 162.9,120 166.2,120 169.5,120 172.8,120 176.1,120 179.4,120 182.7,120 186,120 189.3,120 192.6,120 195.9,120 199.2,120 202.5,120 205.8,120 209.1,120 212.4,120 215.7,120 219,120 222.3,120 225.6,120 228.9,120 232.2,120 235.5,120 238.8,120 242.1,120 245.4,120 248.7,120 252,120 255.3,120 258.6,120 261.9,120 265.2,120 268.5,120 271.8,120 275.1,120 278.4,120 281.7,120 285,120 288.3,120 291.6,120 294.9,120 298.2,120 301.5,120 304.8,120 308.1,120 311.4,120 314.7,120 318,120 321.3,120 324.6,120 327.9,120 331.2,120 334.5,120 337.8,120 341.1,120 344.4,120 347.7,120 351,120 354.3,120 357.6,120 360.9,120 364.2,120 367.5,120 370.8,120 374.1,120 377.4,120 380.7,120 384,120 387.3,120 390.6,120 393.9,120 397.2,120 400.5,120 403.8,120 407.1,120 410.4,120 413.6,120 416.9,120 420.2,120 423.5,120 426.8,120 430.1,120 433.4,120 436.7,120 440,120 443.3,120 446.6,120 449.9,120 453.2,120 456.5,120 459.8,120 463.1,120 466.4,120 469.7,120 473,120 476.3,120 479.6,120 482.9,120 486.2,120 489.5,120 492.8,120 496.1,120 499.4,120 502.7,120 506,120 509.3,120 512.6,120 515.9,120 519.2,120 522.5,120 525.8,120 529.1,120 532.4,120 535.7,120 539,120 542.3,120 545.6,120 548.9,120 552.2,120 555.5,120 558.8,120 562.1,120 565.4,120 568.7,120 572,120 575.3,120 578.6,120 581.9,120 585.2,120 588.5,120 591.8,120 595.1,120 598.4,120 601.7,120 605,120 608.3,120 611.6,120 614.9,120 618.2,120 621.5,120 624.8,120 628.1,120 631.4,120 634.7,120 638,120 641.3,120 644.6,120 647.9,120 651.2,120 654.5,120 657.8,120 661.1,120 664.4,120 667.7,120 671,120 674.3,120 677.6,120 680.9,120 684.2,120 687.5,120 690.8,120 694.1,120 697.4,120 700.7,120 704,120 707.3,120 710.6,120 713.9,120 717.2,120 720.5,120 723.8,120 727.1,120 730.4,120 733.7,120 737,120 743.5,120 743.5,122.3 743.5,127 743.5,130.3 743.5,133.5 743.5,136.8 743.5,140.1 743.5,143.3 743.5,146.6 743.5,149.9 743.5,153.1 743.5,156.4 743.5,159.7 743.5,162.9 743.5,166.2 743.5,169.4 743.5,172.7 743.5,176 743.5,179.2 743.5,182.5 743.5,185.8 743.5,189 743.5,192.3 743.5,195.6 743.5,198.8 743.5,202.1 743.5,205.4 743.5,208.6 743.5,211.9 743.5,215.2 743.5,218.4 743.5,221.7 743.5,225 743.5,228.2 743.5,231.5 743.5,234.8 743.5,238 743.5,241.3 743.5,244.6 743.5,247.8 743.5,249.8 737,249.8 733.7,249.4 730.4,249.1 727.1,248.9 723.8,248.9 720.5,248.9 717.2,248.9 713.9,248.9 710.6,248.9 707.3,248.9 704,248.9 700.7,248.9 697.4,248.9 694.1,249.1 690.8,249.5 687.5,249.9 684.2,250.2 680.9,250.6 679.4,251.1 677.6,251.7 674.3,254.3 674.3,254.4 672.1,257.6 673.9,260.9 674.3,261.2 676.9,264.1 677.6,264.7 680.2,267.4 680.9,267.8 684.2,269.3 687.5,270.4 688.6,270.7 690.8,271.2 694.1,272 697.4,272.6 700.7,273 704,273.5 706.1,273.9 707.3,274.5 710.6,277.1 710.7,277.2 710.6,277.2 707.3,278.6 704,279.9 702.5,280.5 700.7,281 697.4,281.9 694.1,282.5 690.8,282.8 687.5,283 684.2,283.3 681.1,283.7 680.9,283.8 677.6,284.6 674.3,285.7 671.6,287 674.3,287.8 677.6,288.8 680.9,290.2 681,290.3 684.2,291.1 687.5,291.7 690.8,291.7 694.1,291.6 697.4,291.5 700.7,291.9 704,292.2 707.3,292.5 710.6,292.5 713.9,292.5 717.2,292.3 720.5,292 723.8,291.7 727.1,291.3 730.4,291.2 733.7,291.2 737,291.1 743.5,291.1 743.5,293.5 743.5,296.8 743.5,300.1 743.5,303.3 743.5,306.6 743.5,309.9 743.5,313.1 743.5,316.4 743.5,319.7 743.5,322.9 743.5,325.1 737,325.1 733.7,325.1 730.4,325.1 727.1,325.3 723.9,326.2 723.8,326.2 720.5,328.3 718.7,329.4 717.2,331 713.9,332 710.6,331.8 707.3,331.2 704,331 700.7,331 697.4,331.2 694.1,331.4 690.8,331.5 687.5,331.1 684.2,330.2 680.9,329.6 679.9,329.4 677.6,329.2 674.3,329.2 671,329.3 667.7,329.4 664.4,329.4 661.1,329.3 657.8,329.3 654.5,329.4 652.9,329.4 651.2,329.5 649.3,329.4 647.9,329.4 644.6,328.6 641.3,327.1 639.7,326.2 638,325.6 634.7,324.6 631.4,323.6 629.4,322.9 628.1,322.5 624.8,321.3 621.5,320 620.4,319.7 618.2,318.9 614.9,317.9 611.6,316.7 610.7,316.4 608.3,315.6 605,315.1 601.7,314.9 598.4,314.6 595.1,313.7 593.5,313.1 591.8,312.6 588.5,311.8 585.2,311.1 581.9,310.2 580.9,309.9 578.6,309.2 575.3,308.8 572,309 568.7,309.1 565.4,308.6 562.1,307.3 560.6,306.6 558.8,306.1 555.5,305.6 552.2,305.6 548.9,305.7 545.6,305.7 542.3,305.6 539,305.6 535.7,306 533.3,306.6 532.4,307 529.1,308.3 525.8,309.2 522.5,309.6 519.3,309.9 519.2,309.9 515.9,310.6 512.6,312.9 512.5,313.1 511.9,316.4 510.2,319.7 509.3,320.3 507,322.9 506,323.9 504.8,326.2 503.4,329.4 502.7,330.7 500.8,332.7 499.4,333.6 496.1,334.4 492.8,334.1 489.5,333.3 488,332.7 486.2,331.8 482.9,331.1 479.6,331 476.3,331.4 473.9,332.7 473,333.7 472,336 470.3,339.2 469.7,339.9 466.4,341.8 463.1,341.6 459.8,340.8 457,339.2 456.5,338.9 454.5,336 453.2,334.4 451.4,332.7 449.9,331.9 446.6,330.5 444.2,329.4 443.3,329.1 440,327.4 438,326.2 436.7,325.4 433.5,322.9 433.4,322.9 430.4,319.7 430.1,319.1 428.6,316.4 428.7,313.1 428.9,309.9 428.3,306.6 426.8,305 424.5,303.3 423.5,302.9 420.2,301.7 416.9,300.7 414.8,300.1 413.6,299.6 410.4,297.5 409.4,296.8 408.6,293.5 409.2,290.3 410.4,288.8 412.6,287 413.6,286.7 416.9,285.4 419.9,283.7 420.2,283.6 423.5,281.9 426.8,280.7 429.9,280.5 430.1,280.5 430.9,280.5 433.4,280.5 436.7,280.7 440,280.8 443.3,280.8 446.6,280.7 449.9,280.6 453.2,280.6 456.5,280.7 459.8,281 463.1,281.4 466.4,282.1 469.7,283.3 470.5,283.7 473,285.6 474.5,287 476.3,288.3 479.6,290.2 479.7,290.3 482.9,292 485.9,293.5 486.2,293.8 489.5,293.6 489.6,293.5 492.8,292 495.5,290.3 496.1,289.9 499.4,287.1 499.5,287 502.4,283.7 502.7,283.4 505.9,280.5 506,280.4 509.3,278.3 511.3,277.2 512.6,276.6 515.9,275.6 519.2,275.2 522.5,275.2 525.8,275.3 529.1,275.3 532.4,275.2 535.7,274.7 538.5,273.9 539,273.8 542.3,272.8 545.6,272.2 548.9,271.9 552.2,272 555.5,272 558.8,272 562.1,272 565.4,272.1 568.7,272.1 572,272.2 575.3,272.2 578.6,272 581.9,271.6 585.2,271.1 588.5,270.9 591.8,271 595.1,271.1 598.4,270.8 598.9,270.7 601.7,269.8 605,268.8 608.3,268 611.1,267.4 611.6,267.2 614.9,265.6 616.6,264.1 618.2,261.7 618.6,260.9 619.5,257.6 618.5,254.3 618.2,253.8 615.5,251.1 614.9,250.5 612,247.8 611.6,247 610.3,244.6 608.3,242.1 607.7,241.3 605,239.4 603.7,238 601.7,236.6 598.9,234.8 598.4,234.4 595.7,234.8 595.1,234.8 591.8,237.2 590.4,238 588.5,239 585.2,238.5 584.7,238 581.9,234.8 581.9,234.8 580.5,231.5 579.7,228.2 581.3,225 581.9,224.4 585.2,222.2 588.5,222.1 591.8,223.5 595.1,224.9 595.7,225 598.4,225.5 599.8,225 601.7,224.6 605,224 608.3,223.8 611.6,224.5 612.7,225 614.9,227.7 615.2,228.2 615,231.5 614.9,231.7 614,234.8 613.2,238 614.9,240.6 615.7,241.3 618.2,242.3 621.5,243.6 624.8,244.4 628.1,244 631.4,242.5 633.6,241.3 634.7,240.7 638,239.5 641.3,239.6 644.6,239.8 647.9,239.5 651,238 651.2,237.7 652.8,234.8 652.8,231.5 652.4,228.2 652.1,225 652,221.7 651.7,218.4 651.2,217 650.8,215.2 649.9,211.9 649.5,208.6 649.5,205.4 650.2,202.1 651.2,198.8 651.2,198.4 651.7,195.6 651.2,194.5 649.3,192.3 647.9,191.6 644.6,190.8 641.3,190.4 638,190 634.7,189.9 631.4,189.8 628.1,189.7 624.8,189.8 621.5,190.3 618.2,192.1 618.1,192.3 614.9,195.2 614.6,195.6 611.6,196.8 608.3,197.9 605,198.5 601.7,198.6 598.4,198.5 595.1,197.7 591.8,196.5 589.4,195.6 588.5,195.2 585.2,195.2 584.2,195.6 581.9,196.3 578.6,197.5 575.5,198.8 575.3,198.9 572,199.8 568.7,200.7 565.4,201 562.1,200.8 558.8,200.2 555.5,199.6 552.2,199.7 548.9,200.3 545.6,201.4 544.5,202.1 542.8,205.4 544.1,208.6 545.6,210.1 546.7,211.9 548,215.2 548.3,218.4 545.6,220.6 542.3,220.1 539,219.6 536.5,218.4 535.7,217.8 533.6,215.2 532.6,211.9 532.4,211.3 531.9,208.6 530.9,205.4 529.1,203.2 527.2,202.1 525.8,201.6 522.5,201.2 519.2,201.4 517.7,202.1 515.9,203 513.5,205.4 512.6,206.1 510.1,208.6 509.3,209.4 507,211.9 506,213 504.1,215.2 502.7,216.2 499.4,217.9 498.3,218.4 496.1,219 492.8,220.2 489.5,221.4 488.3,221.7 486.2,222.2 482.9,222.3 479.6,222.1 476.3,222.2 473,223 469.7,224 466.5,225 466.4,225 466.3,225 463.1,224.8 459.8,224 456.5,223.1 453.2,223.1 449.9,223.4 446.6,223 443.9,221.7 443.3,221.4 440,220.3 436.7,219.7 433.4,219.7 430.1,219.7 426.8,219.8 423.5,219.7 420.2,219.7 416.9,219.8 413.6,220.6 410.4,221.5 409.4,221.7 407.1,222.2 403.8,222.7 400.5,223.1 397.2,223.4 393.9,223.6 390.6,224 387.3,224.7 386.6,225 384,226.2 380.7,227.7 379.2,228.2 377.4,228.7 374.1,229 370.8,229.3 367.5,229.5 364.2,229.5 360.9,229.6 357.6,229.6 354.3,229.7 351,229.7 347.7,229.6 344.4,229.3 341.1,228.9 337.8,228.6 334.5,228.4 331.2,228.4 327.9,228.5 324.6,229.2 321.3,230 318,230.7 314.7,231.2 312.3,231.5 311.4,231.6 308.1,232.1 304.8,232.2 301.5,232.1 298.2,232.1 294.9,232.4 291.6,233.3 288.3,234.5 287.3,234.8 285,235.2 281.7,235.4 278.4,235.3 275.1,234.9 274.5,234.8 271.8,234 268.5,232.7 265.2,232.8 263.8,234.8 261.9,236.4 260.1,238 258.6,238.6 255.3,239.1 252,239.2 248.7,239.5 245.4,240.9 244.9,241.3 242.2,244.6 242.1,244.6 238.8,247.7 238.5,247.8 235.5,248.3 232.6,247.8 232.2,247.4 230.7,244.6 232,241.3 232.2,241.1 233.9,238 235.5,235.1 235.8,234.8 238.2,231.5 238.8,230.6 240.6,228.2 242.1,226 243.1,225 245.4,223.3 247.3,221.7 248.7,220.1 249.3,218.4 250.2,215.2 251.6,211.9 252,211.5 255.3,209.7 258.6,209.2 261.9,208.9 265.2,209.1 268.5,210.5 269.9,211.9 271.8,214.3 272.4,215.2 275.1,218.4 275.7,218.4 278.4,218.6 278.6,218.4 281.7,215.7 282.1,215.2 285,211.9 285,211.9 288.3,208.6 288.3,208.6 289.5,205.4 288.3,202.1 288.3,202.1 285,199.1 284.7,198.8 281.7,195.8 281.4,195.6 280.5,192.3 280.2,189 279.6,185.8 278.4,182.9 277.6,182.5 275.1,181.6 273.7,182.5 271.8,184.5 271.1,185.8 269.7,189 268.5,190.8 267,192.3 265.2,193.4 261.9,194.3 258.6,194.7 255.3,194.7 252,194.3 248.7,193.1 247.5,192.3 245.4,190.6 243.6,189 242.3,185.8 243.3,182.5 244.1,179.2 244,176 242.8,172.7 242.1,171.3 241.1,169.4 239.6,166.2 239.3,162.9 239.2,159.7 238.8,156.4 238.8,156.3 235.7,153.1 235.5,153 232.2,151.3 229.3,149.9 228.9,149.6 225.6,148.8 222.3,149.6 221.6,149.9 219.2,153.1 219.6,156.4 222.3,158.7 223.2,159.7 225.6,161.2 228.6,162.9 228.9,163.1 232.2,165.6 232.8,166.2 232.5,169.4 232.2,170 231.1,172.7 229.3,176 228.9,176.8 227.2,179.2 225.6,180.7 223,182.5 222.3,182.9 219,184.6 216.5,185.8 215.7,187.1 214.8,189 215.7,191.5 216,192.3 218.3,195.6 219,196.6 220.8,198.8 222.3,200.5 224.1,202.1 225.6,203.3 227.9,205.4 228.9,206.7 230,208.6 231.1,211.9 231.8,215.2 230.1,218.4 228.9,218.9 225.6,220.1 222.3,221.6 222.1,221.7 219,223.4 216.5,225 215.7,225.5 212.4,227.4 209.8,228.2 209.1,228.4 205.8,228.3 205.4,228.2 202.5,227.3 199.2,226 195.9,225.4 192.6,226.4 189.5,228.2 189.3,228.5 186.7,231.5 186,232.5 184.1,234.8 182.7,237.2 182.2,238 181.6,241.3 181.7,244.6 182.7,247.8 182.7,247.8 185.8,251.1 186,251.2 189.3,254 189.6,254.3 192.6,257.4 192.8,257.6 195.9,260.5 196.3,260.9 199.2,263.3 200,264.1 202.5,267.1 202.7,267.4 205.3,270.7 205.8,271.1 209.1,273.8 209.3,273.9 212.4,276.8 212.8,277.2 215.7,279.9 216.4,280.5 219,281.9 222.3,282.9 225.6,283.4 227.2,283.7 228.9,284.3 232.2,286.6 232.6,287 232.2,287.4 228.9,289.7 227.1,290.3 225.6,290.6 222.3,290.6 219,290.4 218.2,290.3 215.7,289.8 212.4,289.2 209.1,288.9 205.8,288.7 202.5,288.7 199.2,288.7 195.9,288.8 192.6,288.8 189.3,288.8 186,288.5 182.7,287.4 181.6,287 179.4,285 177.5,283.7 176.1,282.7 172.8,281.3 169.7,280.5 169.5,280.4 166.2,279.7 162.9,279.1 159.6,278.8 156.3,278.6 153,278.7 149.7,278.7 146.4,278.8 143.1,278.8 139.8,278.7 136.5,278.7 133.2,278.8 129.9,278.8 126.6,278.9 123.3,278.8 120,278.8 116.7,278.8 113.4,279 110.1,279.3 106.8,279.9 104.6,280.5 103.5,280.7 100.2,281.6 96.9,282.7 93.6,282.9 90.3,282.8 87,282.7 80.5,282.7 80.5,280.5 80.5,277.2 80.5,273.9 80.5,273.8 87,273.8 90.3,273.8 93.6,273.8 96.9,273.8 100.2,273.7 103.5,273.6 106.8,273.4 110.1,273.3 113.4,273.1 116.7,273.1 120,273.2 123.3,273.3 126.6,273.2 129.9,272.5 133.2,271.3 134.4,270.7 136.5,269.9 139.8,269.7 143.1,270.1 146.4,270.2 149.7,268.9 151.6,267.4 153,266.6 156.3,264.9 159.6,264.2 159.7,264.1 162.9,263.7 166.2,263 169.5,261.2 169.9,260.9 171.5,257.6 170,254.3 169.5,253.9 166.5,251.1 166.2,250.9 163,247.8 162.9,247.7 159.6,245.4 156.6,244.6 156.3,244.5 153,244.3 149.7,244.3 146.4,244.5 146.2,244.6 143.1,244.9 139.8,245.1 136.5,244.8 135.9,244.6 133.2,243.7 129.9,242.7 126.6,242.1 123.3,242 120,242.1 116.7,242.2 113.4,242.2 110.1,242.2 106.8,242.2 103.5,242.2 100.2,242.2 96.9,242.2 93.6,242.2 90.3,242.2 87,242.2 80.5,242.2 80.5,241.3 80.5,238 80.5,234.8 80.5,231.5 80.5,228.2 80.5,225 80.5,221.7 80.5,218.4 80.5,215.2 80.5,211.9 80.5,208.6 80.5,205.4 80.5,202.1 80.5,198.8 80.5,195.6 80.5,192.3 80.5,189 80.5,185.8 80.5,182.5 80.5,179.2 80.5,176 80.5,172.7 80.5,169.4 80.5,166.2 80.5,162.9 80.5,159.7 80.5,156.4 80.5,153.1 80.5,149.9 80.5,146.6 80.5,143.3 80.5,140.1 80.5,136.8 80.5,133.5 80.5,130.3 80.5,127 80.5,122.3 80.5,120ZM272.3,136.8 275.1,138.2 278.4,138.4 281.7,138.4 285,138.4 288.3,138.6 291.6,139.2 294.5,140.1 294.9,140.1 298.2,140.5 300.4,140.1 301.5,139 302.1,136.8 301.5,136.5 298.2,135.3 294.9,134.8 291.6,134.7 288.3,134.7 285,134.5 281.7,134.4 278.4,134.4 275.1,135.4ZM250.9,140.1 248.7,140.6 245.4,142.3 244.3,143.3 242.3,146.6 242.6,149.9 245.4,151.9 248.7,153.1 248.8,153.1 252,154.8 253.9,156.4 255.3,158.4 257.1,159.7 258.6,161.1 261.9,159.8 262,159.7 264.2,156.4 265.2,155.2 266.2,153.1 267.5,149.9 268.4,146.6 268.4,143.3 265.8,140.1 265.2,139.9 261.9,139.4 258.6,139 255.3,139.2 252,139.8ZM357.1,140.1 355.5,143.3 355.2,146.6 357.1,149.9 357.6,150.3 360.9,150.3 362.9,149.9 364.2,149.4 367.5,148.7 370.8,147.8 373.6,146.6 372.3,143.3 370.8,142 368,140.1 367.5,139.8 364.2,139.3 360.9,139.2 357.6,139.7ZM195.6,146.6 193.8,149.9 192.6,151.3 189.6,153.1 189.3,153.3 186,155.7 185.5,156.4 186,157.5 189.3,159.7 189.3,159.7 189.3,159.7 192.6,159.2 195.9,158.6 199.2,158.5 202.5,158.7 205.8,158.8 209.1,157.8 211.7,156.4 212.4,155.1 213.7,153.1 213.4,149.9 212.4,148.8 210.5,146.6 209.1,146 205.8,145.1 202.5,144.9 199.2,145 195.9,146.3ZM122.8,166.2 120.9,169.4 121.7,172.7 123.3,173.6 126.6,173.9 128.9,172.7 129.9,172 132.3,169.4 132.2,166.2 129.9,165 126.6,164.5 123.3,165.9ZM255.1,172.7 252.9,176 255.1,179.2 255.3,179.3 258.6,179.5 259.4,179.2 261.9,177.3 262.8,176 262,172.7 261.9,172.5 258.6,171 255.3,172.6ZM558.8,224.3 562.1,224.2 565.4,224.2 568.6,225 568.7,228.2 565.4,229 562.1,229.1 558.8,229.1 556,228.2 555.8,225ZM324.6,270.5 327.9,269.7 331.2,270.6 331.5,270.7 334.5,271.5 337.8,272 341.1,272 344.4,271.9 347.7,272 351,272.7 354.3,273.7 354.9,273.9 357.6,275 360.9,276.4 362.5,277.2 364.2,277.9 367.5,279.7 368.6,280.5 370.8,282.2 372.3,283.7 374.1,286.4 374.4,287 374.9,290.3 374.7,293.5 374.1,294.7 372.5,296.8 370.8,297.7 367.5,299.1 365.5,300.1 364.2,300.8 361.5,303.3 360.9,304.3 359.6,306.6 358,309.9 357.6,310.7 356.3,313.1 354.7,316.4 354.3,318.1 353.9,319.7 353.4,322.9 352.7,326.2 352.1,329.4 351.7,332.7 351.6,336 352.8,339.2 354.3,340.8 357.6,341.9 360.9,341.6 364.2,341.2 367.5,341.6 368.6,342.5 370.8,344.6 371.7,345.8 373.8,349 374.1,349.4 377.4,352.2 377.6,352.3 380.7,353.4 384,354.1 387.3,354.4 390.6,354.4 393.9,354.4 397.2,354.4 400.5,354.6 403.8,354.9 407.1,355.3 408,355.6 410.4,356.5 413.6,358 415.7,358.8 416.9,359.3 420.2,359.6 423.5,359.6 426.8,359.4 430.1,359.3 433.4,359.4 436.7,359.4 440,359.4 443.3,359.3 446.6,359.4 449.9,359.5 453.2,359.6 456.5,359.5 458.5,358.8 459.8,358.3 463.1,356.1 463.8,355.6 466.4,353.3 469.5,352.3 469.7,352.2 473,352.1 476.3,352.3 476.7,352.3 479.6,352.4 482.9,352.4 485.9,352.3 486.2,352.3 489.5,352.2 492.8,352.1 496.1,352.1 499.4,352.2 502.6,352.3 502.7,352.3 506,352.4 509.3,352.5 512.6,352.5 515.9,352.4 518.9,352.3 519.2,352.3 522.5,352.1 525.8,351.9 529.1,351.8 532.4,351.8 535.7,351.8 539,351.9 542.3,351.9 545.6,351.9 548.9,351.8 552.2,351.8 555.5,351.8 558.8,351.9 562.1,351.9 565.4,351.9 568.7,351.7 572,351.5 575.3,351.6 577.9,352.3 578.6,352.5 581.9,353.6 585.2,354.3 588.5,354.6 591.8,354.8 595.1,355.1 598.1,355.6 598.4,355.7 601.7,357.1 605,358.6 605.8,358.8 608.3,359.7 611.6,360.5 614.9,361.4 617.4,362.1 618.2,362.4 621.5,362.5 624.8,362.3 628.1,362.2 631.4,362.3 634.7,362.5 638,362.6 641.3,362.7 644.6,362.6 647.9,362.7 651.2,362.8 654.5,362.8 657.8,362.6 660.7,362.1 661.1,362 664.4,361.6 666.9,362.1 667.7,362.2 671,363.5 674.3,364.3 677.6,364.5 680.9,364.2 684.2,363.6 687.5,362.1 687.5,362.1 690.4,358.8 690.8,357.9 692,355.6 694.1,353.2 695.9,352.3 697.4,351.8 700.7,351.6 704,351.7 707.3,351.8 710.6,352 713.9,352 717.2,351.8 720.5,351.4 723.8,351.1 727.1,351.4 728.8,352.3 730.4,354 731.4,355.6 732.9,358.8 733.7,360.1 736.4,362.1 737,362.4 743.5,362.4 743.5,365.4 743.5,368.6 743.5,371.9 743.5,375.2 743.5,378.4 743.5,381.7 743.5,385 743.5,388.2 743.5,391.5 743.5,394.8 743.5,398 743.5,401.3 743.5,404.6 743.5,407.8 743.5,411.1 743.5,414.3 743.5,417.6 743.5,420.9 743.5,424.1 743.5,427.4 743.5,430.7 743.5,433.8 737,433.8 736.7,433.9 733.7,436.2 732.6,437.2 733.7,440.4 733.7,440.5 737,442.8 743.5,442.8 743.5,443.7 743.5,447 743.5,451.7 743.5,454 737,454 733.7,454 730.4,454 727.1,454 723.8,454 720.5,454 717.2,454 713.9,454 710.6,454 707.3,454 704,454 700.7,454 697.4,454 694.1,454 690.8,454 687.5,454 684.2,454 680.9,454 677.6,454 674.3,454 671,454 667.7,454 664.4,454 661.1,454 657.8,454 654.5,454 651.2,454 647.9,454 644.6,454 641.3,454 638,454 634.7,454 631.4,454 628.1,454 624.8,454 621.5,454 618.2,454 614.9,454 611.6,454 608.3,454 605,454 601.7,454 598.4,454 595.1,454 591.8,454 588.5,454 585.2,454 581.9,454 578.6,454 575.3,454 572,454 568.7,454 565.4,454 562.1,454 558.8,454 555.5,454 552.2,454 548.9,454 545.6,454 542.3,454 539,454 535.7,454 532.4,454 529.1,454 525.8,454 522.5,454 519.2,454 515.9,454 512.6,454 509.3,454 506,454 502.7,454 499.4,454 496.1,454 492.8,454 489.5,454 486.2,454 482.9,454 479.6,454 476.3,454 473,454 469.7,454 466.4,454 463.1,454 459.8,454 456.5,454 453.2,454 449.9,454 446.6,454 443.3,454 440,454 436.7,454 433.4,454 430.1,454 426.8,454 423.5,454 420.2,454 416.9,454 413.6,454 410.4,454 407.1,454 403.8,454 400.5,454 397.2,454 393.9,454 390.6,454 387.3,454 384,454 380.7,454 377.4,454 374.1,454 370.8,454 367.5,454 364.2,454 360.9,454 357.6,454 354.3,454 351,454 347.7,454 344.4,454 341.1,454 337.8,454 334.5,454 331.2,454 327.9,454 324.6,454 321.3,454 318,454 314.7,454 311.4,454 308.1,454 304.8,454 301.5,454 298.2,454 294.9,454 291.6,454 288.3,454 285,454 281.7,454 278.4,454 275.1,454 271.8,454 268.5,454 265.2,454 261.9,454 258.6,454 255.3,454 252,454 248.7,454 245.4,454 242.1,454 238.8,454 235.5,454 232.2,454 228.9,454 225.6,454 222.3,454 219,454 215.7,454 212.4,454 209.1,454 205.8,454 202.5,454 199.2,454 195.9,454 192.6,454 189.3,454 186,454 182.7,454 179.4,454 176.1,454 172.8,454 169.5,454 166.2,454 162.9,454 159.6,454 156.3,454 153,454 149.7,454 146.4,454 143.1,454 139.8,454 136.5,454 133.2,454 129.9,454 126.6,454 123.3,454 120,454 116.7,454 113.4,454 110.1,454 106.8,454 103.5,454 100.2,454 96.9,454 93.6,454 90.3,454 87,454 80.5,454 80.5,451.7 80.5,447 80.5,444.6 87,444.6 90.3,443.9 91.1,443.7 93.6,443 96.9,442.2 99.5,443.7 100.2,444.3 102,447 103.5,448.1 106.8,449.3 110.1,449.4 113.4,449.3 116.7,449.3 120,449.2 123.3,449.1 126.6,449.3 129.9,449.9 133.2,450.3 136.5,450.5 139.8,450.4 143.1,450.1 146.4,449.5 149.7,449.2 153,449.2 156.3,449.3 159.6,449.3 162.9,449.3 166.2,449.4 169.5,449.3 172.8,449.3 176.1,449.3 179.4,449.4 182.7,449.4 186,449.3 189.3,449.3 192.6,449.4 195.9,449.4 199.2,449.3 202.5,449.4 205.8,449.4 209.1,449.4 212.4,449.4 215.7,449.4 219,449.4 222.3,449.4 225.6,449.4 228.9,449.7 232.2,450.2 235.5,450.4 238.8,450.5 242.1,450.5 245.4,450.5 248.7,450.6 252,450.7 255.3,450.9 258.6,450.9 261.9,450.9 265.2,450.9 268.5,450.9 271.8,450.8 275.1,450.6 278.4,450.5 281.7,450.5 285,450.5 288.3,450.5 291.6,450.5 294.9,450.5 298.2,450.5 301.5,450.5 304.8,450.5 308.1,450.5 311.4,450.2 314.7,449.8 318,449.4 321.3,449.4 324.6,449.4 327.9,449.4 331.2,449.4 334.5,449.4 337.8,449.4 341.1,449.4 344.4,449.4 347.7,449.4 351,449.4 354.3,449.4 357.6,449.4 360.9,449.4 364.2,449.4 367.5,449.4 370.8,449.4 374.1,449.4 377.4,449.4 380.7,449.4 384,449.4 387.3,449.4 390.6,449.4 393.9,449.4 397.2,449.4 400.5,450 403.8,450.4 407.1,450.5 410.4,450.4 413.6,450 416.9,449.4 420.2,449.4 423.5,449.4 426.8,449.4 430.1,449.4 433.4,449.4 436.7,449.4 440,449.3 443.3,449.3 446.6,449.3 449.9,449.3 453.2,449.3 456.5,449.3 459.8,449.3 463.1,449.3 466.4,449.3 469.7,449.3 473,449.4 476.3,449.4 479.6,449.3 482.9,449.3 486.2,449.3 489.5,449.4 492.8,449.3 496.1,449.3 499.4,449.3 502.7,449.3 506,449.3 509.3,449.3 512.6,449.3 515.9,449.3 519.2,449.3 522.5,449.3 525.8,449.3 529.1,449.4 532.4,449.4 535.7,449.4 539,449.4 542.3,449.4 545.6,449.4 548.9,449.4 552.2,449.4 555.5,449.4 558.8,448.9 562,447 562.1,446.4 562.7,443.7 563.1,440.5 562.1,437.4 562.1,437.2 558.8,434.2 558.6,433.9 555.6,430.7 555.5,430.6 553.3,427.4 552.2,424.7 551.9,424.1 548.9,421.8 545.6,422.2 542.3,423.4 539.2,424.1 539,424.2 537.6,424.1 535.7,424.1 532.4,423.3 529.1,422.5 525.8,421.5 524,420.9 522.5,420.4 519.2,419.3 515.9,418.1 514.4,417.6 512.6,416.7 509.3,415.4 506,415 502.7,416 499.8,417.6 499.4,417.8 496.1,419.7 494.2,420.9 492.8,421.7 489.5,423.5 486.9,424.1 486.2,424.4 484.9,424.1 482.9,423.8 479.6,422.4 476.5,420.9 476.3,420.8 475.6,420.9 473,421.8 471.8,424.1 471.6,427.4 472,430.7 472.3,433.9 472.1,437.2 469.9,440.5 469.7,440.6 466.4,442 463.1,441.9 459.8,441.6 456.5,441.2 453.2,441.1 449.9,441 447.7,440.5 446.6,440.3 443.3,438.2 442.3,437.2 440,436.4 436.7,435.5 433.4,435.3 430.1,435.1 426.8,434.6 425.3,433.9 423.5,432.9 421.7,430.7 420.6,427.4 420.2,425.6 419.7,424.1 417,420.9 416.9,420.8 413.6,420.6 412.3,417.6 410.4,416.6 407.1,414.9 403.8,414.4 400.5,414.4 397.2,414.7 393.9,414.9 390.6,415 387.3,414.9 384,414.8 380.7,414.8 377.4,415.1 374.1,416.4 371.8,417.6 372.7,420.9 374.1,421.9 377.4,422.7 380.7,421.8 384,420.9 384,420.9 387.3,420 390.6,419.7 393.9,419.7 397.2,419.8 400.5,419.8 403.8,419.9 407.1,420.1 410.4,420.1 413.1,420.9 413.6,424.1 413.6,424.6 413.8,427.4 413.6,428 413.1,430.7 410.9,433.9 410.4,434.3 407.1,435 403.8,434 403.5,433.9 400.5,433 397.2,432.3 393.9,432.7 390.6,433.6 389.3,433.9 387.3,434.7 384,434.8 380.7,434.2 380,433.9 377.4,432.9 374.1,432.3 370.8,432.2 367.5,432.3 364.2,432.2 360.9,432.1 357.6,432.2 354.3,432.6 351,432.9 347.7,432.5 345.3,430.7 344.4,429.8 342.3,427.4 341.1,425.1 340.3,424.1 337.8,421.9 334.5,421.3 331.2,421.3 327.9,421.5 324.6,421.5 321.3,421.7 318,422.2 314.7,423.3 311.4,424 310.4,424.1 308.1,424.5 304.8,425.3 301.7,427.4 301.5,427.6 298.2,429.4 294.9,429.8 291.6,429.4 288.3,429.1 285,429.7 281.7,430.5 280.8,430.7 278.4,431 275.3,430.7 275.1,430.7 271.8,429.7 268.5,428.7 265.2,427.8 263.9,427.4 261.9,426.5 258.6,425.2 255.3,424.4 252.5,424.1 252,424.1 250.3,424.1 248.7,424.2 245.4,424.8 242.1,425.4 238.8,425.6 235.5,425.1 232.9,424.1 232.2,423.9 228.9,422.6 225.6,422.1 222.3,422.6 219,423.7 217.8,424.1 215.7,425.1 212.4,426.8 211.5,427.4 209.1,429.6 207.9,430.7 205.8,432.4 202.5,433.6 200.3,433.9 199.2,434.1 195.9,434.7 192.6,436 191.3,437.2 189.3,440.1 188.9,440.5 186,442.6 182.7,443.7 182.3,443.7 179.4,444.3 176.1,444.6 172.8,444.8 169.5,444.7 166.2,444.4 164.5,443.7 162.9,442.9 160.8,440.5 159.7,437.2 159.6,436.7 158.6,433.9 156.3,431.6 153,432.3 149.7,433.3 147.7,433.9 146.4,434.5 143.1,436.5 142.1,437.2 139.8,438.6 136.5,439.5 133.2,439.9 129.9,440.2 128.4,440.5 126.6,441 123.3,441.8 120,442.1 116.7,441.5 115.4,440.5 113.4,438.7 112.3,437.2 110.1,435.6 106.8,434.1 106.1,433.9 103.5,433.4 100.2,432.3 97.4,430.7 96.9,430.4 93.6,429.4 90.3,429.1 87,429 80.5,429 80.5,427.4 80.5,424.1 80.5,420.9 80.5,417.6 80.5,414.3 80.5,411.1 80.5,407.8 80.5,404.6 80.5,401.3 80.5,398 80.5,394.8 80.5,391.5 80.5,388.2 80.5,385 80.5,381.7 80.5,378.4 80.5,375.2 80.5,371.9 80.5,368.6 80.5,365.4 80.5,362.5 87,362.5 90.3,362.7 93.6,362.8 96.9,362.5 97.8,362.1 100.2,361.3 103.5,360.5 106.8,359.7 109,358.8 110.1,358.1 113.3,355.6 113.4,355.4 116.7,352.8 117.8,352.3 120,350.7 121.4,349 121.2,345.8 120,344.1 118.7,342.5 116.7,340.5 115.3,339.2 113.4,338 110.2,336 110.1,336 106.8,335.1 103.5,334.7 100.2,334.4 96.9,334 93.6,334 90.3,334 87,334 80.5,334 80.5,332.7 80.5,329.4 80.5,326.2 80.5,322.9 80.5,319.7 80.5,316.4 80.5,313.1 80.5,309.9 80.5,306.6 80.5,303.3 80.5,300.1 80.5,296.8 80.5,294 87,294 90.3,294 93.6,293.9 96.9,294 100.2,294.5 103.5,294.9 106.8,295.2 110.1,295.3 113.4,295.4 116.7,295.7 120,296.4 121.2,296.8 123.3,297.5 126.6,298.4 129.9,298.6 133.2,298.4 136.5,298.4 139.8,299.4 141,300.1 143.1,301.3 145.7,303.3 146.4,304 149.7,306.3 150.1,306.6 153,308.5 154.8,309.9 156.3,311.4 158.4,313.1 159.6,314.7 160.8,316.4 162.9,318.8 163.6,319.7 166.2,322.1 167.1,322.9 169.5,324.9 171,326.2 172.8,327.7 174.7,329.4 176.1,330.9 177.8,332.7 179.4,334.5 180.8,336 182.7,337.8 184.2,339.2 186,341.1 187.3,342.5 189.3,344.9 190.1,345.8 192.6,347.7 195.4,349 195.9,349.2 199.2,349.4 202.5,349.1 205.1,349 205.8,349 205.9,349 209.1,350 212.4,351.8 213.3,352.3 215.7,353.7 219,354.7 222.3,354.9 225.6,354.8 228.9,354.6 232.2,354.6 235.5,354.6 238.8,354.7 242.1,354.8 245.4,354.9 248.7,354.7 252,354.4 255.3,354.4 258.6,355 259.6,355.6 261.9,357.2 264,358.8 265.2,359.5 268.5,359.4 270.4,358.8 271.8,358.2 275.1,357.7 276.4,358.8 278.4,359.5 281.2,362.1 281.7,362.5 284.4,365.4 285,366.1 287.6,368.6 288.3,369.2 291.6,370.6 294.9,371.5 297.2,371.9 298.2,372.1 301.5,372.5 304.8,372.8 307.5,371.9 308.1,371.6 310.5,368.6 311.4,365.9 311.6,365.4 311.4,362.9 311.3,362.1 311.4,358.8 311.4,358.8 313.2,355.6 314.7,354.2 317.6,352.3 318,352 321.3,351.7 324.6,351.8 327.9,351.4 330.9,349 331.2,348.6 332.5,345.8 332.9,342.5 332.9,339.2 332.2,336 331.2,335 327.9,334.1 324.6,335.1 323.3,336 321.3,338.2 320.1,339.2 318,341 314.7,339.9 313.9,339.2 311.4,337.1 310,336 308.1,334.8 304.8,334.3 301.5,334.7 298.2,335.1 294.9,335.4 291.6,335.5 288.3,335.4 285,334.8 281.8,332.7 281.7,332.5 279.8,329.4 278.5,326.2 278.4,326 275.1,322.9 275.1,322.9 271.8,321.1 270.3,319.7 269.4,316.4 269.3,313.1 269,309.9 268.5,308.3 267.8,306.6 265.2,304.2 264,303.3 261.9,301.6 260.3,300.1 258.6,297.3 258.2,296.8 257.7,293.5 258,290.3 258.6,287 258.6,287 259.8,283.7 261.9,280.9 262.4,280.5 265.2,279 268.5,279 271.5,280.5 271.8,280.6 275.1,283.2 275.8,283.7 278.4,285.8 280.6,287 281.7,287.4 285,288.3 288.3,288.8 291.6,288.9 294.9,288.9 298.2,288.4 301.5,287.5 302.8,287 304.8,285.6 306.7,283.7 308.1,281.6 308.8,280.5 311.4,277.5 311.7,277.2 314.7,275.6 318,274.2 318.5,273.9 321.3,272.4 324.3,270.7ZM629.3,420.9 628.1,421.6 624.8,423.2 621.5,423.9 620,424.1 618.2,424.4 614.9,425.7 611.9,427.4 611.6,427.6 608.3,429.8 605,429.6 602.3,427.4 601.7,427.2 598.4,425.8 595.1,425.7 591.8,426.5 590.2,427.4 589.5,430.7 590.3,433.9 591.8,436.8 592.1,437.2 595.1,440.5 595.1,440.5 598.4,441.7 601.7,441.7 605,441.8 608.3,443.2 608.9,443.7 611.6,446.6 612,447 614.9,448.8 618.2,449.4 621.5,449.5 624.8,449.4 628.1,449.4 631.4,449.4 634.7,449.4 638,449.4 641.3,449.4 644.6,449.4 647.9,449.5 651.2,450.1 654.5,450.4 657.8,450.5 661.1,450.3 664.4,449.9 667.7,449.4 671,449.4 674.3,449.4 677.6,449.4 680.9,449.4 684.2,449.4 687.5,449.4 690.8,449.4 694.1,449.4 697.4,449.3 700.7,449.3 704,449.3 707.3,449.4 710.6,449.5 713.9,449.4 717.2,449.3 720.5,448.2 722,447 722.2,443.7 722.3,440.5 722.2,437.2 721.4,433.9 720.6,430.7 720.5,430.1 719.8,427.4 718.6,424.1 717.2,421.2 716.6,420.9 713.9,419.9 710.6,420.1 707.3,420.4 704,419.6 700.7,418.9 697.4,419.1 694.9,420.9 694.1,421.3 690.8,423.6 689.8,424.1 687.5,425.2 684.2,425.6 680.9,425.3 677.6,424.3 677,424.1 674.3,423.3 671,422.1 667.7,421.4 664.4,423.7 663.5,424.1 661.1,425 657.8,425.4 654.5,424.9 651.4,424.1 651.2,424.1 647.9,423.4 644.6,422.6 641.3,421.5 639.7,420.9 638,420 634.7,419.3 631.4,419.8ZM723.8,276 727.1,274.7 730.4,275.6 732.4,277.2 730.4,278.6 727.1,279.7 723.8,278.2 722.1,277.2ZM271.8,341.8 275.1,340.7 278.4,342.5 278.4,342.5 278.9,345.8 278.4,347.8 277.6,349 275.1,351.4 271.8,349.8 271.2,349 270.2,345.8 271.2,342.5ZM707.3,431.7 710.6,433.4 711,433.9 712.3,437.2 710.8,440.5 710.6,440.7 707.3,442.5 704.7,440.5 704,438.3 703.8,437.2 704,436.7 705.4,433.9ZM492.8,436.2 496.1,434.6 499.4,434.6 502.7,435 506,435.3 509.3,435.4 512.6,435.3 515.9,435.4 519.2,436 522.2,437.2 522.3,440.5 519.2,442.8 515.9,443.6 512.6,443.6 509.3,443.5 506,443.4 502.7,443.3 499.4,443.3 496.1,442.8 492.8,440.7 492.6,440.5 491.8,437.2Z"/>
<path fill="#6ba2f6" d="M87,122.3 90.3,122.3 93.6,122.3 96.9,122.3 100.2,122.3 103.5,122.3 106.8,122.3 110.1,122.3 113.4,122.3 116.7,122.3 120,122.3 123.3,122.3 126.6,122.3 129.9,122.3 133.2,122.3 136.5,122.3 139.8,122.3 143.1,122.3 146.4,122.3 149.7,122.3 153,122.3 156.3,122.3 159.6,122.3 162.9,122.3 166.2,122.3 169.5,122.3 172.8,122.3 176.1,122.3 179.4,122.3 182.7,122.3 186,122.3 189.3,122.3 192.6,122.3 195.9,122.3 199.2,122.3 202.5,122.3 205.8,122.3 209.1,122.3 212.4,122.3 215.7,122.3 219,122.3 222.3,122.3 225.6,122.3 228.9,122.3 232.2,122.3 235.5,122.3 238.8,122.3 242.1,122.3 245.4,122.3 248.7,122.3 252,122.3 255.3,122.3 258.6,122.3 261.9,122.3 265.2,122.3 268.5,122.3 271.8,122.3 275.1,122.3 278.4,122.3 281.7,122.3 285,122.3 288.3,122.3 291.6,122.3 294.9,122.3 298.2,122.3 301.5,122.3 304.8,122.3 308.1,122.3 311.4,122.3 314.7,122.3 318,122.3 321.3,122.3 324.6,122.3 327.9,122.3 331.2,122.3 334.5,122.3 337.8,122.3 341.1,122.3 344.4,122.3 347.7,122.3 351,122.3 354.3,122.3 357.6,122.3 360.9,122.3 364.2,122.3 367.5,122.3 370.8,122.3 374.1,122.3 377.4,122.3 380.7,122.3 384,122.3 387.3,122.3 390.6,122.3 393.9,122.3 397.2,122.3 400.5,122.3 403.8,122.3 407.1,122.3 410.4,122.3 413.6,122.3 416.9,122.3 420.2,122.3 423.5,122.3 426.8,122.3 430.1,122.3 433.4,122.3 436.7,122.3 440,122.3 443.3,122.3 446.6,122.3 449.9,122.3 453.2,122.3 456.5,122.3 459.8,122.3 463.1,122.3 466.4,122.3 469.7,122.3 473,122.3 476.3,122.3 479.6,122.3 482.9,122.3 486.2,122.3 489.5,122.3 492.8,122.3 496.1,122.3 499.4,122.3 502.7,122.3 506,122.3 509.3,122.3 512.6,122.3 515.9,122.3 519.2,122.3 522.5,122.3 525.8,122.3 529.1,122.3 532.4,122.3 535.7,122.3 539,122.3 542.3,122.3 545.6,122.3 548.9,122.3 552.2,122.3 555.5,122.3 558.8,122.3 562.1,122.3 565.4,122.3 568.7,122.3 572,122.3 575.3,122.3 578.6,122.3 581.9,122.3 585.2,122.3 588.5,122.3 591.8,122.3 595.1,122.3 598.4,122.3 601.7,122.3 605,122.3 608.3,122.3 611.6,122.3 614.9,122.3 618.2,122.3 621.5,122.3 624.8,122.3 628.1,122.3 631.4,122.3 634.7,122.3 638,122.3 641.3,122.3 644.6,122.3 647.9,122.3 651.2,122.3 654.5,122.3 657.8,122.3 661.1,122.3 664.4,122.3 667.7,122.3 671,122.3 674.3,122.3 677.6,122.3 680.9,122.3 684.2,122.3 687.5,122.3 690.8,122.3 694.1,122.3 697.4,122.3 700.7,122.3 704,122.3 707.3,122.3 710.6,122.3 713.9,122.3 717.2,122.3 720.5,122.3 723.8,122.3 727.1,122.3 730.4,122.3 733.7,122.3 737,122.3 743.5,122.3 743.5,127 743.5,130.3 743.5,133.5 743.5,136.8 743.5,140.1 743.5,143.3 743.5,146.6 743.5,149.9 743.5,153.1 743.5,156.4 743.5,159.7 743.5,162.9 743.5,166.2 743.5,169.4 743.5,172.7 743.5,176 743.5,179.2 743.5,182.5 743.5,185.8 743.5,189 743.5,192.3 743.5,195.6 743.5,198.8 743.5,202.1 743.5,205.4 743.5,208.6 743.5,211.9 743.5,215.2 743.5,218.4 743.5,221.7 743.5,225 743.5,228.2 743.5,231.5 743.5,231.9 737,231.9 733.7,231.6 732.7,231.5 730.4,231.3 727.1,231.1 723.8,231.3 721.3,231.5 720.5,231.6 717.2,231.8 713.9,231.7 711.7,231.5 710.6,231.4 707.3,231.1 704,231 700.7,231 697.4,231.1 694.1,231.1 690.8,231.2 687.5,231.2 684.2,231.2 680.9,231.2 677.6,231.3 674.3,231.4 673.2,231.5 671,231.6 667.7,231.6 667.4,231.5 664.4,230.5 662,228.2 661.7,225 662.4,221.7 662.6,218.4 661.1,216.2 660.3,215.2 657.8,213.2 656.6,211.9 654.7,208.6 654.7,205.4 656.6,202.1 657.8,200.7 660.1,198.8 661.1,197.6 662.8,195.6 662.9,192.3 662.6,189 663,185.8 664.4,183.8 665.7,182.5 667.7,181.3 671,180.3 674.3,179.8 677.6,179.4 678,179.2 680.9,177.8 682.7,176 682.1,172.7 681,169.4 680.9,169.4 678.9,166.2 677.6,165.1 674.3,164.1 671,163.6 667.7,163.1 666.6,162.9 664.4,162.1 662.1,159.7 662.6,156.4 664.4,154.9 666.6,153.1 667.7,152.2 670.5,149.9 671,148 671.5,146.6 671,146.4 667.7,145.3 664.4,144.9 661.1,144.8 657.8,145 655.7,146.6 654.5,148.5 653.8,149.9 651.2,153 651,153.1 647.9,154.9 645.5,156.4 644.6,157.8 643.9,159.7 643.9,162.9 644.4,166.2 644.6,167.1 645.6,169.4 647.9,171.7 649.6,172.7 651.2,174.3 652.3,176 652.1,179.2 651.2,180.6 648.5,182.5 647.9,182.8 646.7,182.5 644.6,181.8 643,179.2 641.4,176 641.3,175.9 638,174.4 634.7,174.5 632,176 631.4,177.3 630.8,179.2 628.7,182.5 628.1,182.9 624.8,183.3 621.5,182.9 618.2,182.5 614.9,184 613,185.8 611.6,187.7 610.7,189 608.5,192.3 608.3,192.5 605,194.1 601.7,194.4 598.4,193.9 595.1,192.4 595,192.3 591.8,190.8 588.5,190.2 585.2,190.3 581.9,191 579.3,192.3 578.6,192.6 575.3,195.4 575.2,195.6 572,196.8 568.7,197.8 565.4,197.9 562.1,196.7 560.2,195.6 558.8,194 555.5,192.7 552.2,192.7 548.9,192.8 545.6,192.8 542.3,192.3 542.2,192.3 539,191.7 535.7,191.5 532.4,191.7 529.1,191.9 525.8,191.8 522.5,191.4 519.2,191.4 517,192.3 515.9,192.8 513.3,195.6 512.6,196.3 510.2,198.8 509.3,199.8 506.5,202.1 506,202.5 502.9,205.4 502.7,205.6 500.8,208.6 499.4,210.6 498.6,211.9 496.1,214.4 495.3,215.2 492.8,216.4 489.5,218 488.1,218.4 486.2,218.9 482.9,218.9 479.6,218.8 476.3,218.8 473,219.2 469.7,219.6 466.4,219.7 463.9,218.4 463.1,217.9 460.2,215.2 459.8,214.8 456.5,211.9 456.4,211.9 453.2,211.3 449.9,211.6 448.3,211.9 446.6,212.2 443.3,212.6 440,212.7 436.7,212.8 433.4,212.7 430.1,212.5 426.8,212.1 425.6,211.9 423.5,211.6 420.2,211.5 418.8,211.9 416.9,212.3 413.7,215.2 413.6,215.2 410.4,217.2 408.2,218.4 407.1,218.8 403.8,219.9 400.5,220.6 397.2,221 393.9,220.9 390.6,220.5 387.3,220 384,220.4 380.9,221.7 380.7,221.8 377.4,223.3 374.1,223.8 370.8,223.5 367.5,223.1 364.2,222.8 360.9,222.7 357.6,222.5 354.3,222.1 351,221.9 347.7,222.3 344.4,223.6 341.1,224.6 338.4,225 337.8,225 334.5,225 333.8,225 331.2,224.8 327.9,224.9 327.6,225 324.6,225.7 321.3,226.9 318,228.2 317.7,228.2 314.7,228.6 311.4,228.7 308.1,228.8 304.8,228.8 301.5,228.8 298.2,228.8 294.9,228.9 291.6,229.2 288.3,229.7 285,230.4 281.7,231 278.4,231 275.1,229.7 273.1,228.2 272.4,225 275.1,224.1 278.4,223.4 281.3,221.7 281.7,221.5 284,218.4 285,217.2 286.5,215.2 288.3,213.5 290.2,211.9 291.6,210.5 293.3,208.6 294.7,205.4 294.6,202.1 293.5,198.8 291.6,196.8 290.2,195.6 288.3,194 286.8,192.3 285.2,189 285,188.2 284.4,185.8 283.9,182.5 283.3,179.2 282.2,176 281.7,175.1 278.4,172.9 277.9,172.7 275.1,171.6 272.8,169.4 271.8,167.3 271.4,166.2 270.4,162.9 269.7,159.7 269.6,156.4 270,153.1 270.3,149.9 270.9,146.6 271.8,144.5 272.6,143.3 275.1,141.7 278.4,141.1 281.7,141 285,141.1 288.3,141.5 291.6,142.4 294.1,143.3 294.9,143.7 298.2,145.3 300.7,146.6 301.5,148.1 302.9,149.9 304.8,152 308.1,153.1 308.4,153.1 311.4,153.5 314.7,153.7 317.1,153.1 318,152.9 321.3,150 321.4,149.9 322.8,146.6 321.3,144.8 319.7,143.3 318,142 315.3,140.1 314.7,139.5 311.7,136.8 311.4,136.6 308.1,134.9 305,133.5 304.8,133.5 301.5,132.5 298.2,131.8 294.9,131.6 291.6,131.5 288.3,131.4 285,131.3 281.7,131.3 278.4,131.3 275.1,131.7 271.8,132.6 269.5,133.5 268.5,134.1 265.2,135 261.9,135.2 258.6,135.3 255.3,135.8 252,136.8 251.9,136.8 248.7,137.8 245.4,139.1 243.9,140.1 242.1,141.8 240.9,143.3 239.2,146.6 238.8,147.6 235.5,149 232.2,147.6 230.1,146.6 228.9,145.8 225.6,144.5 222.3,144.3 219,144.4 215.7,144.1 212.7,143.3 212.4,143.3 209.1,142.5 205.8,142 202.5,141.7 199.2,141.8 195.9,142.7 195.2,143.3 192.6,146.3 192.4,146.6 189.5,149.9 189.3,150.1 186,151.9 184.1,153.1 182.7,155.5 182.3,156.4 182.7,158.3 183.1,159.7 186,161.9 189.3,162.3 192.6,162.2 195.9,162 199.2,162 202.5,162.3 205.8,162.3 209.1,161.4 212.4,160.1 213.7,159.7 215.7,158.9 218.1,159.7 219,159.9 222.3,161.9 223.8,162.9 225.6,164.2 228.2,166.2 228.8,169.4 227.7,172.7 226.1,176 225.6,176.7 223.4,179.2 222.3,180.1 219,182 217.8,182.5 215.7,183.6 212.4,185.4 211.7,185.8 210.5,189 211.8,192.3 212.4,193.3 213.8,195.6 215.7,198.8 215.7,198.8 217.7,202.1 219,203.8 220.7,205.4 222.3,207 223.8,208.6 224.6,211.9 223.4,215.2 222.3,216 219.4,218.4 219,218.6 215.7,220.7 214.2,221.7 212.4,222.9 209.1,224.6 205.8,224.7 202.5,223.6 199.2,222.5 195.9,222.1 192.6,222.4 189.3,223.4 186,225 186,225 182.7,227.3 181.4,228.2 179.4,230 176.1,231.5 176.1,231.5 175.8,231.5 172.8,231.2 169.5,230.9 167.5,231.5 166.2,231.9 163.7,234.8 162.9,235.8 160.8,238 159.6,238.8 156.3,239.7 153,239.7 149.7,239.6 146.4,239.6 143.1,239.8 139.8,240 136.5,240 133.2,239.5 129.9,239.1 126.6,238.9 123.3,238.8 120,238.8 116.7,238.9 113.4,238.9 110.1,238.9 106.8,238.9 103.5,238.9 100.2,238.9 96.9,238.9 93.6,238.9 90.3,238.9 87,238.9 80.5,238.9 80.5,238 80.5,234.8 80.5,231.5 80.5,228.2 80.5,225 80.5,221.7 80.5,218.4 80.5,215.2 80.5,211.9 80.5,208.6 80.5,205.4 80.5,202.1 80.5,198.8 80.5,195.6 80.5,192.3 80.5,189 80.5,185.8 80.5,182.5 80.5,179.2 80.5,176 80.5,172.7 80.5,169.4 80.5,166.2 80.5,162.9 80.5,159.7 80.5,156.4 80.5,153.1 80.5,149.9 80.5,146.6 80.5,143.3 80.5,140.1 80.5,136.8 80.5,133.5 80.5,130.3 80.5,127 80.5,122.3ZM352,136.8 351,138.9 350.7,140.1 351,142 351.1,143.3 351.7,146.6 352.6,149.9 354.3,153.1 354.3,153.1 357.6,154.8 360.9,154.1 363.8,153.1 364.2,153 367.5,152.2 370.8,151.7 374.1,151.2 377.1,149.9 377.4,149.6 378.6,146.6 378.3,143.3 377.4,140.9 376.8,140.1 374.1,138 371.9,136.8 370.8,136.4 367.5,135.5 364.2,135.2 360.9,135.2 357.6,135.3 354.3,136ZM451.8,143.3 449.9,146.4 449.8,146.6 449.9,146.8 451.8,149.9 453.2,151.1 456.5,152.2 457.9,149.9 458.5,146.6 458.1,143.3 456.5,140.5 453.2,142.1ZM164.4,146.6 164.9,149.9 166.2,152 169.5,151.4 171.4,149.9 172.8,147.9 173.5,146.6 172.8,145.7 169.5,144.1 166.2,144.4ZM481.3,146.6 479.6,148.1 478.2,149.9 476.3,152.2 475.8,153.1 473,156.3 472.9,156.4 469.7,159.2 468.7,159.7 466.4,161.2 463.9,162.9 463.1,163.8 461.9,166.2 461.3,169.4 461.3,172.7 461.6,176 463,179.2 463.1,179.4 466.4,181.6 469.7,180.9 471.7,179.2 473,177.4 473.8,176 476.1,172.7 476.3,172.5 479.6,170.7 482.9,170 486.2,169.7 487.6,169.4 489.5,168.9 492.8,166.5 493.1,166.2 495.2,162.9 496.1,162.1 499.1,159.7 499.4,159.5 502.7,156.7 503,156.4 504.5,153.1 504.4,149.9 502.7,147.7 501.5,146.6 499.4,145.9 496.1,145.1 492.8,144.7 489.5,144.2 486.2,144.4 482.9,145.7ZM612.7,146.6 611.6,148 610.3,149.9 610.6,153.1 611.6,155.3 612.1,156.4 613.5,159.7 614.1,162.9 614.5,166.2 614.9,167.5 615.8,169.4 618.2,172.2 621.5,172.6 624.8,172.3 628.1,170.9 628.8,169.4 629.2,166.2 629.2,162.9 629.2,159.7 629.3,156.4 629.5,153.1 629.4,149.9 628.6,146.6 628.1,146.1 624.8,144.9 621.5,144.9 618.2,145.1 614.9,145.8ZM93.2,156.4 92.9,159.7 93.6,160.2 96.5,162.9 96.9,163.2 100.2,165.8 100.6,166.2 103.2,169.4 103.5,169.9 106.8,172.2 107.7,172.7 110.1,174.5 111.3,176 113.4,177.6 116.1,179.2 116.7,179.5 120,179.8 123.3,179.7 126.6,179.3 126.9,179.2 129.9,178.2 133.2,176.5 133.9,176 136.5,173.6 137.4,172.7 139.8,169.4 139.8,169.4 141.2,166.2 139.8,163.7 139.1,162.9 136.5,161.7 133.2,160.6 129.9,160 126.6,159.8 123.3,160.5 120,161.6 116.7,162.5 113.4,159.7 113.3,159.7 111.3,156.4 110.1,155.5 106.8,154.5 103.5,154.6 100.2,154.8 96.9,155.2 93.6,156.2ZM725.1,162.9 724.3,166.2 726.2,169.4 727.1,170.1 730.3,169.4 730.4,169.4 733.1,166.2 732.5,162.9 730.4,161.4 727.1,160.9ZM195,185.8 195.9,187.6 198.7,189 199.2,189.1 199.5,189 201.5,185.8 199.2,184.2 195.9,184.2ZM245.4,155.6 248.7,156.1 249.1,156.4 251.5,159.7 252,160.5 252.9,162.9 253.3,166.2 252,168.1 250.6,169.4 248.7,171 246.2,169.4 245.4,168.9 244.1,166.2 243.5,162.9 243.2,159.7 244,156.4ZM252,185.7 255.3,184.4 258.6,184.3 261.9,185.2 262.6,185.8 261.9,187.7 261.2,189 258.6,190.1 255.3,189.9 253.4,189 252,186 251.9,185.8ZM258.6,213.5 261.9,213.2 265.2,213.4 267.8,215.2 268.5,216.1 269.5,218.4 269.5,221.7 268.5,222.7 265.2,223.2 261.9,223.3 258.6,222.9 256.3,221.7 255.3,220.5 254.6,218.4 255.3,215.9 255.6,215.2ZM585.2,226.5 588.5,225.5 591.8,227.7 592.7,228.2 591.8,229.8 590.8,231.5 588.5,233.3 585.2,232 584.9,231.5 584.1,228.2ZM601.7,228.1 605,226.8 608.3,226.7 610.7,228.2 609.9,231.5 608.3,233.3 605,233 603,231.5 601.7,228.7 601.5,228.2ZM638,244.3 641.3,244.3 644.6,244.5 647.7,244.6 647.9,244.6 647.9,244.6 651.2,244.1 654.5,243.1 657.8,241.7 661.1,241.3 664.4,241.6 667.7,242.3 671,244.6 671,244.6 671.6,247.8 671,248.4 668.6,251.1 667.7,251.8 664.4,253.9 663.8,254.3 662.2,257.6 664.3,260.9 664.4,260.9 667.7,264.1 667.7,264.2 671,266.1 673.4,267.4 674.3,267.8 677.6,269.2 680.9,270.6 681,270.7 684.2,271.8 687.5,272.6 690.8,273.3 693.4,273.9 694.1,274.2 697.4,275.5 700.7,276.7 701.8,277.2 700.7,277.6 697.4,278.8 694.1,279.8 691.5,280.5 690.8,280.6 687.5,280.9 684.2,281.2 680.9,281.4 677.6,281.6 674.3,281.9 671,282.3 667.7,283 666.2,283.7 664.4,286.8 664.3,287 664.4,287.1 667.7,288.7 671,289.7 672.7,290.3 674.3,290.6 677.6,291.5 680.9,292.4 684.2,293.3 685.7,293.5 687.5,293.8 690.8,293.9 694.1,293.8 697.4,293.7 700.7,293.9 704,294.1 707.3,294.3 710.6,294.3 713.9,294.2 717.2,294.2 720.5,294 723.8,293.8 727.1,293.6 728.7,293.5 730.4,293.5 733.7,293.4 737,293.4 743.5,293.4 743.5,293.5 743.5,296.8 743.5,300.1 743.5,303.3 743.5,306.6 743.5,309.9 743.5,313.1 743.5,316.4 743.5,319.7 743.5,321.8 737,321.8 733.7,321.8 730.4,321.9 727.1,322 723.8,322.6 722.4,322.9 720.5,323.4 717.2,324.4 713.9,324.7 710.6,324.6 707.3,324.5 704,324.4 700.7,324.4 697.4,324.5 694.1,324.5 690.8,324.5 687.5,324.5 684.2,324.5 680.9,324.6 677.6,324.7 674.3,324.8 671,324.7 667.7,324.7 664.4,324.6 661.1,324.5 657.8,324.5 654.5,324.6 651.2,324.7 647.9,324.6 644.6,323.9 641.3,323 641,322.9 638,322.3 634.7,321.4 631.4,320.4 629.4,319.7 628.1,319.1 624.8,317.9 621.5,316.8 620.1,316.4 618.2,315.8 614.9,314.7 611.6,313.5 610.4,313.1 608.3,312.4 605,311.5 601.7,310.6 599.2,309.9 598.4,309.6 595.1,309.1 591.8,308.9 588.5,308.6 585.2,308 581.9,307 580.6,306.6 578.6,306.1 575.3,305.7 572,305.6 568.7,305.6 565.4,305.1 562.1,304.3 558.8,303.6 556.6,303.3 555.5,303.2 552.2,303.2 548.9,303.2 545.6,303.2 542.3,303.2 539,303.2 538.1,303.3 535.7,303.5 532.4,304.2 529.1,305 525.8,305.6 522.5,305.6 519.2,305.5 515.9,305.4 512.6,305.3 509.3,305.3 506,305.3 502.7,304.9 499.4,304 498.3,303.3 496.1,301.6 494.6,300.1 493.9,296.8 496.1,294.7 497.1,293.5 499.4,291.4 500.6,290.3 502.7,288.3 504.4,287 506,285.5 508.7,283.7 509.3,283.3 512.6,281.3 514.2,280.5 515.9,279.7 519.2,279 522.5,279 525.8,279.2 529.1,279.5 532.4,279.8 535.7,279.7 539,278.7 542.1,277.2 542.3,277.1 545.6,275.8 548.9,274.8 552.2,274.3 555.5,273.9 555.6,273.9 558.8,273.8 562.1,273.8 565.4,273.9 567,273.9 568.7,274 572,274.1 575.3,274.1 578.6,273.9 578.6,273.9 581.9,273.7 585.2,273.4 588.5,273.3 591.8,273.4 595.1,273.5 598.4,273.1 601.7,272.2 605,271.3 607.8,270.7 608.3,270.5 611.6,270 614.9,269.4 618.2,267.9 619,267.4 621.5,264.2 621.5,264.1 623.1,260.9 624.2,257.6 624.8,255.1 625.1,254.3 627,251.1 628.1,250.2 631,247.8 631.4,247.6 634.7,245.6 637.4,244.6ZM321.3,277.1 324.6,275.5 327.9,274.5 331.2,274.7 334.5,275.1 337.8,275.3 341.1,275.2 344.4,275.1 347.7,275.4 351,276.5 352.8,277.2 354.3,278 357.6,279.4 360.2,280.5 360.9,280.8 364.2,282.3 366.5,283.7 367.5,284.5 369.5,287 369.3,290.3 367.5,293.4 367.3,293.5 364.2,295.4 361.6,296.8 360.9,297.2 358,300.1 357.6,300.7 356.4,303.3 354.8,306.6 354.3,307.7 353.1,309.9 351.4,313.1 351,314 349.8,316.4 348.3,319.7 347.7,320.8 344.4,322.8 343.7,322.9 341.1,323.4 337.8,324 334.5,325.5 333.3,326.2 331.2,327.6 327.9,329 325.6,329.4 324.6,329.7 321.3,330.5 318,331.4 314.7,330.8 311.4,329.7 309.6,329.4 308.1,329.3 307.4,329.4 304.8,329.9 301.5,330.8 298.2,331.7 294.9,332.3 291.6,332.6 288.3,332.4 285,330.8 283.7,329.4 281.7,326.2 281.7,326.2 279.8,322.9 278.4,320.8 277.2,319.7 275.1,317.5 274.1,316.4 272.4,313.1 271.8,311 271.5,309.9 270.3,306.6 268.5,304.4 267.2,303.3 265.2,301.8 263.1,300.1 261.9,298.5 260.7,296.8 260.3,293.5 260.7,290.3 261.5,287 261.9,286.2 263.8,283.7 265.2,282.6 268.5,282.3 270.9,283.7 271.8,284.3 274.9,287 275.1,287.1 278.4,289.3 280.6,290.3 281.7,290.7 285,291.6 288.3,292.1 291.6,292.3 294.9,292.2 298.2,291.7 301.5,290.7 302.8,290.3 304.8,289.6 308.1,288.1 309.6,287 311.4,284.8 312.3,283.7 314.7,281.1 315.5,280.5 318,278.8 321.1,277.2ZM426.8,283.1 430.1,282.8 433.4,282.9 436.7,283.1 440,283.2 443.3,283.2 446.6,283.1 449.9,283 453.2,283 456.5,283 459.8,283.5 461.2,283.7 463.1,284.2 466.4,285.2 469.6,287 469.7,287.1 473,289.6 474,290.3 476.3,291.7 479.5,293.5 479.6,293.6 482.9,296.1 483.9,296.8 485.1,300.1 485.3,303.3 485.2,306.6 485,309.9 484.7,313.1 484.2,316.4 483.2,319.7 482.9,320 480.5,322.9 479.6,323.5 476.3,324.5 473,324.4 469.7,324.1 466.4,324.3 463.1,326 462.8,326.2 460.4,329.4 459.8,330.9 456.5,331.7 453.2,329.9 452.1,329.4 449.9,328.9 446.6,328 443.3,326.5 442.7,326.2 440,324.5 437.5,322.9 436.7,322.4 433.8,319.7 433.4,319 431.9,316.4 431.8,313.1 432,309.9 431.6,306.6 430.1,304.5 429.1,303.3 426.8,301.7 423.5,300.3 422.7,300.1 420.2,299.2 416.9,298.2 414.3,296.8 413.9,293.5 415.9,290.3 416.9,289.5 419.4,287 420.2,286.5 423.5,284.5 425.3,283.7ZM87,298.6 90.3,298.6 93.6,298.6 96.9,298.6 100.2,298.6 103.5,298.6 106.8,298.5 110.1,298.3 113.4,298.2 116.7,298.4 120,299.3 122.2,300.1 123.3,300.5 126.6,301.6 129.9,301.7 133.2,301.4 136.5,301.4 139.8,302.8 140.6,303.3 143.1,305.5 144.3,306.6 146.4,308.8 147.7,309.9 149.7,311.4 151.6,313.1 153,314.8 154.2,316.4 155.9,319.7 156.3,320.3 158.2,322.9 159.6,324.8 161,326.2 162.9,328.2 164.4,329.4 166.2,330.8 168.4,332.7 169.5,333.7 171.5,336 172.8,337.6 174.2,339.2 176.1,341 177.8,342.5 179.4,343.8 181.4,345.8 182.7,347.3 184.2,349 186,350.7 188.6,352.3 189.3,352.6 192.6,353.7 195.9,354.1 199.2,354 202.5,353.7 205.8,353.8 209.1,355 210,355.6 212.4,358 213.4,358.8 215.7,361.1 219,361.1 222.3,360.1 225.6,359.4 228.9,359.1 232.2,359.1 235.5,359.2 238.8,359.3 242.1,359.3 245.4,359.2 248.7,359.2 252,359.4 255.3,360.3 257.7,362.1 258.6,363 261.9,365.1 265.2,365.2 268.5,363.5 270.9,362.1 271.8,361.7 275.1,360.9 278.4,361.9 278.6,362.1 281.7,364.9 282.2,365.4 284.6,368.6 285,369.2 288,371.9 288.3,372.2 291.6,373.5 294.9,374.5 297.3,375.2 298.2,375.7 301.5,377.9 302.3,378.4 304.8,381.5 308.1,381.4 311,378.4 311.4,378.1 313.9,375.2 314.7,374.4 318,372.3 321.3,372.3 324.6,372.7 327.9,372.4 328.8,371.9 331.2,370.9 334.5,370 337.8,369.6 341.1,369.7 344.4,369.8 347.7,369.5 349.5,368.6 351,367.5 353.4,365.4 354.3,364.4 357.6,362.6 360.9,362.3 364.2,362.5 367.5,362.7 370.8,362.6 374.1,362.4 377.1,362.1 377.4,362.1 380.7,361.8 384,361.6 387.3,361.6 390.6,361.7 393.9,361.7 397.2,361.5 400.5,361 403.8,360.6 407.1,360.8 409.7,362.1 410.4,362.4 413.6,363.7 416.9,364.3 420.2,364.4 423.5,364.4 426.8,364.3 430.1,364.3 433.4,364.3 436.7,364.4 440,364.3 443.3,364.3 446.6,364.3 449.9,364.4 453.2,364.4 456.5,364.4 459.8,364 463.1,363.2 466.3,362.1 466.4,362 469.7,361.5 473,361.7 476.3,362 479.2,362.1 479.6,362.1 482.9,362.1 484.1,362.1 486.2,362.1 489.5,362 492.8,362.1 496.1,362.1 499.4,362.1 502.7,362 506,362 509.3,362 512.6,362 515.9,362 519.2,362.1 521.9,362.1 522.5,362.1 525.8,362.2 529.1,362.2 532.4,362.2 535.7,362.2 539,362.2 542.3,362.2 545.6,362.2 548.9,362.2 552.2,362.2 555.5,362.2 558.8,362.2 562.1,362.2 565.4,362.2 568.7,362.2 572,362.2 575.3,362.2 578.6,362.1 579.1,362.1 581.9,361.9 585.2,361.7 588.5,361.2 591.8,360.7 595.1,360.6 598.4,361.5 599.8,362.1 601.7,362.8 605,363.8 608.3,364.9 609.3,365.4 611.6,366.7 614.8,368.6 614.9,368.7 618.2,369.7 621.5,369.8 624.8,369.6 628.1,369.5 631.4,369.4 634.7,369.4 638,369.5 641.3,369.5 644.6,369.5 647.9,369.5 651.2,369.5 654.5,369.5 657.8,369.5 661.1,369.5 664.4,369.5 667.7,369.6 671,370 674.3,370.6 677.6,371.5 680.9,371.8 684.1,371.9 684.2,371.9 687.5,372 690.8,372.2 694.1,372.5 697.4,372.7 700.7,372.8 704,372.7 707.3,372.7 710.6,372.7 713.9,372.7 717.2,372.7 720.5,372.7 723.8,372.7 727.1,372.6 730.4,372.4 733.7,372.2 737,372 743.5,372 743.5,375.2 743.5,378.4 743.5,381.7 743.5,385 743.5,388.2 743.5,391.5 743.5,394.8 743.5,398 743.5,401.3 743.5,404.6 743.5,407.8 743.5,411.1 743.5,414.3 743.5,417.6 743.5,420.9 743.5,424.1 743.5,427.4 743.5,429.3 737,429.3 733.7,430.1 731.6,430.7 730.4,431.2 727.1,431.5 726.5,430.7 724.6,427.4 723.8,425.9 723.1,424.1 721.7,420.9 720.5,418.3 720.1,417.6 717.2,414.7 714.6,414.3 713.9,414.3 712.2,414.3 710.6,414.4 707.3,414.7 704,414.5 700.7,414.4 697.4,414.7 694.1,417.2 693.7,417.6 690.8,420.1 689.6,420.9 687.5,422 684.2,422.2 680.9,421.4 679.7,420.9 677.6,419.8 674.4,417.6 674.3,417.5 671,415.4 667.7,414.5 664.4,416.6 663.6,417.6 661.1,420.2 660.2,420.9 657.8,422 654.5,422.1 651.2,421.7 647.9,421.1 647.1,420.9 644.6,420 641.3,418.2 640.4,417.6 638.1,414.3 638,414.2 634.7,411.3 632.9,411.1 631.4,410.9 630.4,411.1 628.1,411.5 624.8,413.2 623.7,414.3 621.5,416.8 621,417.6 618.2,419.3 615.6,420.9 614.9,421.2 611.6,423 609.1,424.1 608.3,424.5 605,424.4 604.3,424.1 601.7,423.4 598.4,422.5 595.1,422.3 591.8,422.7 588.5,423.7 587.8,424.1 585.2,426.4 584.4,427.4 582.8,430.7 581.9,431.9 578.6,433.8 578.1,433.9 575.3,434.5 572,434.8 568.7,434.8 566.3,433.9 565.4,433.6 562.1,431 561.8,430.7 559.6,427.4 559.6,424.1 560.5,420.9 562.1,417.6 562.1,415 562.1,414.3 562.1,414.3 558.8,411.9 555.5,411.2 552.2,411.2 548.9,411.6 545.6,412.8 544.1,414.3 542.3,416.2 541.2,417.6 539,418.9 535.7,419.8 532.4,419.5 529.1,419.1 525.8,418.4 523.2,417.6 522.5,417.1 519.2,415.2 517.7,414.3 515.9,412.8 512.6,411.1 512.5,411.1 509.3,410.2 506,409.9 502.7,410.5 500.7,411.1 499.4,411.5 496.1,413.7 495.6,414.3 492.8,416.9 492.1,417.6 489.5,418.9 486.2,419.5 482.9,417.9 482.5,417.6 479.6,415.6 476.3,414.5 473.9,414.3 473,414.3 469.7,414.3 466.4,414.3 463.1,414.2 459.8,414.1 456.5,414 453.2,413.8 449.9,413.7 446.6,413.6 443.3,413.6 440,413.6 436.7,413.6 433.4,413.6 430.1,413.6 426.8,413.9 423.7,414.3 423.5,414.4 420.2,414.8 416.9,414.6 416.4,414.3 413.6,413.4 410.4,412.3 407.1,411.6 403.8,411.4 400.5,411.4 397.2,411.5 393.9,411.6 390.6,411.6 387.3,411.6 384,411.6 380.7,411.6 377.4,411.8 374.1,412.3 370.8,413.1 367.5,414.1 365.2,414.3 364.2,414.5 360.9,414.5 359.4,414.3 357.6,414.3 354.3,414.2 351,414.2 347.7,414.2 344.4,414.3 341.1,414.3 340.7,414.3 337.8,414.5 334.5,414.6 331.2,414.8 327.9,414.6 326.6,414.3 324.6,413.9 321.3,412.8 318,411.4 314.7,412.4 313.8,414.3 312.3,417.6 311.4,418.3 308.1,419.7 304.8,419 303.2,417.6 301.5,415.5 299.2,414.3 298.2,414 297.5,414.3 294.9,416.4 294.2,417.6 293.2,420.9 291.6,423.1 289.6,424.1 288.3,424.5 285,425.3 281.7,427.1 281.3,427.4 278.4,428.2 275.1,428.1 272.1,427.4 271.8,427 268.5,424.7 267.3,424.1 265.2,422.8 261.9,421.4 260.5,420.9 258.6,420.2 255.3,419.4 252,419 248.7,419.2 245.4,420.2 244,420.9 242.1,421.6 238.8,422.3 235.5,422 232.3,420.9 232.2,420.8 228.9,419.4 225.6,418.6 222.3,418.7 219,419.2 215.7,419.8 212.4,420.4 210,420.9 209.1,421.1 205.8,422.9 204.8,424.1 202.5,427.3 202.4,427.4 199.2,429.1 195.9,429.5 192.6,428.1 191.9,427.4 190.1,424.1 189.3,423.1 186,421.1 184.5,420.9 182.7,420.7 179.4,420.7 176.1,420.8 172.8,420.8 169.5,420.8 166.2,420.7 162.9,420.6 160,420.9 159.6,420.9 156.3,422.7 155.2,424.1 153,426.2 151.5,427.4 149.7,428.4 146.4,429.5 143.1,430.1 140.8,430.7 139.8,431 136.5,432.9 133.9,433.9 133.2,434.1 129.9,434.5 126.6,434.6 123.3,434.3 121.4,433.9 120,433.6 116.7,431.8 114.2,430.7 113.4,430.4 110.1,429.9 106.8,429.3 103.5,428 102.5,427.4 100.2,426 96.9,424.7 93.6,424.5 90.3,424.7 87,424.9 80.5,424.9 80.5,424.1 80.5,420.9 80.5,417.6 80.5,414.3 80.5,411.1 80.5,407.8 80.5,404.6 80.5,401.3 80.5,398 80.5,394.8 80.5,391.5 80.5,388.2 80.5,385 80.5,381.7 80.5,378.4 80.5,375.2 80.5,372 87,372 90.3,372.2 93.6,372.3 96.9,372 97.1,371.9 100.2,369.6 100.8,368.6 103.5,366.2 104.5,365.4 106.8,364.4 110.1,363.7 113.4,362.9 116.4,362.1 116.7,362 120,361.9 122.5,362.1 123.3,362.2 126.6,362.4 129.9,362.4 133.2,362.4 136.5,362.4 139.8,362.8 143.1,363.1 146.4,363.1 149.3,362.1 149.7,361.9 151.7,358.8 151.4,355.6 149.7,353.6 148,352.3 146.4,351.4 143.5,349 143.1,348.4 141.5,345.8 139.8,343.2 138.8,342.5 136.5,341.5 133.2,341.7 129.9,342.1 126.6,341.4 124.1,339.2 123.3,338.6 120,336.1 119.9,336 116.7,334.4 113.4,333.3 111.4,332.7 110.1,332.4 106.8,331.8 103.5,331.1 100.2,330.2 97.7,329.4 96.9,329.2 93.6,329 90.3,329 87,329.2 80.5,329.2 80.5,326.2 80.5,322.9 80.5,319.7 80.5,316.4 80.5,313.1 80.5,309.9 80.5,306.6 80.5,303.3 80.5,300.1 80.5,298.6ZM273.8,414.3 271.8,416.2 270.8,417.6 271.8,419.7 273.7,420.9 275.1,421.3 276.5,420.9 278.4,420.2 279.5,417.6 278.4,415.1 277.1,414.3 275.1,413.9ZM496.1,313.4 499.4,313.4 502.7,316.2 502.9,316.4 502.7,318.5 502.7,319.7 501.4,322.9 500.3,326.2 499.4,327.4 496.5,329.4 496.1,329.6 495.5,329.4 492.8,328.3 490.8,326.2 490.6,322.9 491.4,319.7 492.8,316.7 493,316.4ZM430.1,420.7 433.4,420 436.7,419.6 440,419.6 443.3,419.6 446.6,419.8 449.9,420.3 452.1,420.9 453.2,421.2 456.5,422.3 459.6,424.1 459.8,424.4 462.1,427.4 461.3,430.7 459.8,431.8 456.5,433.4 454.9,433.9 453.2,434.4 449.9,434.9 446.6,434.9 443.5,433.9 443.3,433.9 440,433 436.7,432.4 433.4,431.9 430.1,431.4 428.1,430.7 426.8,429.9 425,427.4 425.5,424.1 426.8,422.2 429.6,420.9ZM390.6,423.9 393.9,423.9 397.2,423.9 400.5,423.8 403.8,423.8 406,424.1 407.1,424.4 409.3,427.4 407.2,430.7 407.1,430.7 404.9,430.7 403.8,430.6 400.5,429.6 397.2,429.1 393.9,429.2 390.6,429.8 387.3,430.5 384,429.2 382,427.4 384,426 387.3,424.2 387.9,424.1ZM166.2,432.1 169.5,430.9 172.8,430.8 176.1,431.2 179.4,432.7 181,433.9 182.1,437.2 179.4,438.9 176.1,440.1 173.9,440.5 172.8,440.6 169.5,440.5 169.2,440.5 166.2,439.3 164.5,437.2 164.9,433.9Z"/>
<path fill="#7547f2" d="M87,124.2 90.3,124.2 93.6,124.2 96.9,124.2 100.2,124.2 103.5,124.2 106.8,124.2 110.1,124.2 113.4,124.2 116.7,124.2 120,124.2 123.3,124.2 126.6,124.2 129.9,124.2 133.2,124.2 136.5,124.2 139.8,124.2 143.1,124.2 146.4,124.2 149.7,124.2 153,124.2 156.3,124.2 159.6,124.2 162.9,124.2 166.2,124.2 169.5,124.2 172.8,124.2 176.1,124.2 179.4,124.4 182.7,124.7 186,125.3 189.3,125.4 192.6,125.4 195.9,125.4 199.2,125.4 202.5,125.4 205.8,125.4 209.1,125.1 212.4,124.6 215.7,124.3 219,124.2 222.3,124.2 225.6,124.2 228.9,124.3 232.2,124.8 235.5,125.3 238.8,125.2 242.1,124.7 245.4,124.3 248.7,124.2 252,124.2 255.3,124.2 258.6,124.3 261.9,124.7 265.2,125.1 268.5,125.5 271.8,125.6 275.1,125.5 278.4,125.4 281.7,125.4 285,125.4 288.3,125.4 291.6,125.5 294.9,125.4 298.2,125.4 301.5,125.4 304.8,125.4 308.1,125.5 311.4,125.6 314.7,125.6 318,125.3 321.3,124.7 324.6,124.4 327.9,124.2 331.2,124.2 334.5,124.2 337.8,124.2 341.1,124.2 344.4,124.2 347.7,124.2 351,124.2 354.3,124.2 357.6,124.2 360.9,124.2 364.2,124.2 367.5,124.2 370.8,124.2 374.1,124.2 377.4,124.2 380.7,124.2 384,124.2 387.3,124.2 390.6,124.2 393.9,124.2 397.2,124.2 400.5,124.2 403.8,124.2 407.1,124.2 410.4,124.2 413.6,124.2 416.9,124.2 420.2,124.2 423.5,124.2 426.8,124.2 430.1,124.2 433.4,124.2 436.7,124.2 440,124.2 443.3,124.2 446.6,124.2 449.9,124.2 453.2,124.2 456.5,124.2 459.8,124.2 463.1,124.2 466.4,124.2 469.7,124.2 473,124.2 476.3,124.2 479.6,124.2 482.9,124.2 486.2,124.2 489.5,124.2 492.8,124.2 496.1,124.2 499.4,124.2 502.7,124.2 506,124.2 509.3,124.2 512.6,124.2 515.9,124.2 519.2,124.2 522.5,124.2 525.8,124.2 529.1,124.2 532.4,124.2 535.7,124.2 539,124.2 542.3,124.2 545.6,124.2 548.9,124.2 552.2,124.2 555.5,124.2 558.8,124.2 562.1,124.2 565.4,124.2 568.7,124.2 572,124.2 575.3,124.2 578.6,124.2 581.9,124.2 585.2,124.2 588.5,124.2 591.8,124.2 595.1,124.2 598.4,124.2 601.7,124.2 605,124.2 608.3,124.2 611.6,124.2 614.9,124.2 618.2,124.2 621.5,124.2 624.8,124.2 628.1,124.2 631.4,124.2 634.7,124.2 638,124.2 641.3,124.2 644.6,124.2 647.9,124.2 651.2,124.2 654.5,124.2 657.8,124.2 661.1,124.2 664.4,124.2 667.7,124.2 671,124.2 674.3,124.2 677.6,124.2 680.9,124.2 684.2,124.2 687.5,124.2 690.8,124.2 694.1,124.2 697.4,124.2 700.7,124.2 704,124.2 707.3,124.2 710.6,124.2 713.9,124.2 717.2,124.2 720.5,124.2 723.8,124.2 727.1,124.2 730.4,124.2 733.7,124.2 737,124.2 743.5,124.2 743.5,127 743.5,130.3 743.5,133.5 743.5,136.8 743.5,140.1 743.5,143.3 743.5,146.6 743.5,149.9 743.5,153.1 743.5,154.4 737,154.4 733.7,154.1 730.4,153.5 729,153.1 727.1,152.3 723.8,151.4 720.5,151 717.2,151 713.9,151.2 710.6,151.5 707.3,151.6 704,151.3 700.7,151 697.4,151 694.1,152.3 693.1,153.1 691.9,156.4 693.7,159.7 694.1,160 697.4,162.7 697.6,162.9 700.4,166.2 700.7,166.7 702.8,169.4 704,170.7 707.3,171.8 710.1,169.4 710.6,168.6 711.8,166.2 713.9,163.3 714.9,162.9 717.2,162.3 717.8,162.9 719.5,166.2 720.5,169.4 720.5,169.5 722.1,172.7 723.8,173.9 727.1,174.8 730.4,174.6 733.7,173.8 736.6,172.7 737,172.4 743.5,172.4 743.5,172.7 743.5,176 743.5,179.2 743.5,182.5 743.5,185.8 743.5,189 743.5,192.3 743.5,195.6 743.5,198.8 743.5,202.1 743.5,205.4 743.5,208.6 743.5,211.9 743.5,212 737,212 733.7,214.9 733.5,215.2 732,218.4 730.4,221 729.4,221.7 727.1,222.6 725.2,221.7 723.8,220.6 722.6,218.4 721.1,215.2 720.5,214.3 717.2,212.1 713.9,213.3 712.3,215.2 710.8,218.4 710.6,218.8 708.5,221.7 707.3,222.5 704,223.1 700.7,223 697.4,222.8 694.1,222.6 690.8,222.5 687.5,222.6 684.2,222.7 680.9,222.7 677.6,222.6 674.9,221.7 674.3,221.4 672.2,218.4 671,216.3 670.4,215.2 667.7,212.8 666.5,211.9 664.4,210.4 662.3,208.6 662.2,205.4 664.4,203.5 666.4,202.1 667.7,201.2 670.5,198.8 671,197.2 671.4,195.6 671.1,192.3 671,190.5 670.9,189 671,188.9 673,185.8 674.3,185.2 677.6,184.2 680.9,183.7 684.2,183.2 687,182.5 687.5,182.3 690.8,179.7 691.1,179.2 690.9,176 690.8,175.9 688.3,172.7 687.5,172 685.9,169.4 684.2,166.6 684,166.2 681.7,162.9 680.9,162.2 677.6,160.4 675.4,159.7 674.3,158.8 672,156.4 674.3,154.2 675.6,153.1 677.6,151.7 680.2,149.9 680.9,147.8 681.2,146.6 680.9,146.4 677.6,144.3 675.4,143.3 674.3,143 671,142.4 667.7,141.9 664.4,141.6 661.1,141.6 657.8,141.8 654.8,143.3 654.5,143.5 652.1,146.6 651.2,148.1 649.8,149.9 647.9,151.5 645,153.1 644.6,153.4 641.3,155.9 640.6,156.4 639.8,159.7 640,162.9 640.2,166.2 638,169.4 634.7,168.3 633.5,166.2 633.3,162.9 633.6,159.7 633.7,156.4 633.3,153.1 632.8,149.9 631.9,146.6 631.4,145.6 629.4,143.3 628.1,142.5 624.8,141.7 621.5,141.7 618.2,141.9 614.9,142.3 611.6,143 610.2,143.3 608.3,143.9 605,145.4 603,146.6 601.7,148.1 599.7,149.9 598.4,151 595.1,151.8 591.8,151.6 588.5,151.1 585.2,150.7 581.9,150.6 578.6,150.8 575.3,151.9 574,153.1 572.3,156.4 572,157.2 570.6,159.7 568.7,160.8 565.4,162 564,162.9 562.1,165.4 561.8,166.2 561.2,169.4 558.8,172 555.5,172.1 552.2,171.9 548.9,171.8 545.6,172.7 545.6,172.7 542.6,176 542.3,176.6 540.9,179.2 539,181.4 536.5,182.5 535.7,182.7 532.4,182.9 529.1,182.7 527.6,182.5 525.8,182.3 522.5,182 519.2,182 517.6,182.5 515.9,183 512.8,185.8 512.6,185.9 510.2,189 509.3,190 506.8,192.3 506,192.8 502.7,193.4 499.4,193.1 496.9,192.3 496.1,192 493.3,189 492.8,188 491.7,185.8 489.5,183.6 486.2,182.9 484.9,182.5 482.9,181.6 480.9,179.2 481.8,176 482.9,175.2 486.2,174.3 489.5,175 491,176 492.6,179.2 492.8,179.9 496.1,181.6 499.4,180.6 501.2,179.2 502.7,176 502.2,172.7 501.5,169.4 502,166.2 502.7,165.4 505.4,162.9 506,162.4 509.3,160 509.7,159.7 511.6,156.4 511.7,153.1 511.7,149.9 511.4,146.6 509.3,144.9 506,144.2 502.7,143.4 502.4,143.3 499.4,142.6 496.1,141.8 492.8,140.9 490.2,140.1 489.5,139.8 486.2,139.6 485.3,140.1 482.9,141.1 479.6,142.8 478.8,143.3 476.3,145.2 475.2,146.6 473.2,149.9 473,150.1 470.2,153.1 469.7,153.5 466.4,154.7 463.4,153.1 463.1,152.8 462,149.9 461.8,146.6 462.2,143.3 462.8,140.1 463.1,136.8 459.8,135.1 456.5,134.8 453.2,136.1 452,136.8 449.9,138.3 447.8,140.1 446.6,141.5 445.5,143.3 444.8,146.6 445.4,149.9 446.6,152 447.5,153.1 449.9,155.4 451.2,156.4 453,159.7 453.1,162.9 452.3,166.2 450.1,169.4 449.9,169.6 446.6,172.1 446.1,172.7 443.3,175.4 442.8,176 440,179.2 440,179.2 436.7,181.3 433.4,181.2 430.1,180.9 426.8,180.8 423.5,182.3 423.3,182.5 422,185.8 423.3,189 423.5,189.3 426.8,191.8 427.7,192.3 430.1,194.2 431.3,195.6 431.7,198.8 430.1,201.3 429,202.1 426.8,202.9 423.5,202.8 420.2,202.4 416.9,202.3 413.6,204.3 412.8,205.4 410.7,208.6 410.4,209.1 408.3,211.9 407.1,213.2 405.2,215.2 403.8,216 400.5,217.4 397.7,218.4 397.2,218.5 396.5,218.4 393.9,217.5 390.8,215.2 391,211.9 391.9,208.6 391.7,205.4 390.6,203.9 387.6,202.1 387.3,202 384,201.7 380.7,201.8 377.4,201.9 374.1,201.8 370.8,201.6 367.5,201.8 366.7,202.1 364.2,203.7 362.8,205.4 361.2,208.6 360.9,209.2 358,211.9 357.6,212.1 354.3,212.4 351,212.2 347.7,212.2 344.4,213.8 343.2,215.2 341.1,217.7 340.4,218.4 337.8,219.9 334.5,220.4 331.2,220.3 327.9,220.1 324.6,220.5 321.6,221.7 321.3,221.8 318,223.4 314.7,224.1 311.4,223.9 308.1,223.4 304.8,223.2 301.5,223.4 298.2,223.6 294.9,223.3 291.6,222.1 291,221.7 290.2,218.4 291.6,216.9 293.1,215.2 294.9,213.8 297.1,211.9 298.2,210.7 300.1,208.6 301.5,205.5 301.5,205.4 302.2,202.1 302.1,198.8 301.5,197.6 300.4,195.6 298.2,193.3 297,192.3 294.9,190.4 293.2,189 291.6,186.8 291,185.8 290.9,182.5 291.4,179.2 291.6,178.5 292.1,176 292.6,172.7 292.7,169.4 292.4,166.2 291.6,165 288.3,164.2 285,164 281.7,163.5 279.9,162.9 278.4,162.2 276.2,159.7 275.1,158.2 274.2,156.4 273.1,153.1 272.9,149.9 273.3,146.6 275.1,144.5 277.7,143.3 278.4,143.1 281.7,143 285,143.2 285.4,143.3 288.3,143.9 291.6,145.3 293.9,146.6 294.9,148.8 295.4,149.9 295.1,153.1 294.9,154.2 294.5,156.4 294.4,159.7 294.9,161.3 298.2,162 301.5,161 304.8,160 306.3,159.7 308.1,159.3 311.4,159.2 314.7,159.3 318,159.2 321.3,158.1 323.3,156.4 324.6,155.2 326.2,153.1 327.9,150.8 328.3,149.9 329.4,146.6 328.8,143.3 327.9,141.9 326,140.1 324.6,139.1 321.5,136.8 321.3,136.6 318,133.6 317.9,133.5 314.7,131.2 311.4,130.3 311.1,130.3 308.1,129.8 304.8,129.3 301.5,128.9 298.2,128.7 294.9,128.5 291.6,128.5 288.3,128.5 285,128.5 281.7,128.4 278.4,128.4 275.1,128.5 271.8,128.8 268.5,129.4 266.2,130.3 265.2,130.6 261.9,131.5 258.6,132.1 255.3,132.7 252.4,133.5 252,133.6 248.7,134.6 245.4,135.6 242.9,136.8 242.1,137.2 238.9,140.1 238.8,140.3 235.7,143.3 235.5,143.6 234.8,143.3 232.2,142.2 228.9,140.5 227.1,140.1 225.6,139.7 222.3,139.5 219,139.5 215.7,139.4 212.4,139.2 209.1,138.9 205.8,138.7 202.5,138.6 199.2,138.6 195.9,139 193.8,140.1 192.6,140.9 190.8,143.3 189.3,146.5 189.2,146.6 186,148.5 182.7,149.1 180.1,146.6 179.4,144.7 178.9,143.3 176.1,140.4 175,140.1 172.8,139.6 169.5,139.3 166.2,139.3 163.1,140.1 162.9,140.1 160,143.3 159.6,146.2 159.5,146.6 159.6,146.9 160,149.9 160.8,153.1 161.5,156.4 160.2,159.7 159.6,160.3 156.3,161.3 153.4,159.7 153,159.3 150.9,156.4 149.7,154.6 148.4,153.1 146.4,151.1 145.1,149.9 143.1,148 141.8,146.6 139.8,145.5 136.5,144.2 133.2,144 129.9,144.1 126.6,144.2 123.3,144.2 120,144.2 116.7,144.4 113.4,145.4 111.9,146.6 110.1,148 106.9,149.9 106.8,149.9 103.5,150.8 100.2,151.5 96.9,152 93.6,152.6 91.3,153.1 90.3,153.4 87,154.4 80.5,154.4 80.5,153.1 80.5,149.9 80.5,146.6 80.5,143.3 80.5,140.1 80.5,136.8 80.5,133.5 80.5,130.3 80.5,127 80.5,124.2ZM348.7,133.5 347.7,133.9 344.4,135.5 342.5,136.8 344.4,139.6 344.6,140.1 347,143.3 347.7,144.3 348.5,146.6 349.1,149.9 349.6,153.1 350.5,156.4 351,157.1 354.3,158.9 357.6,158.9 360.9,157.8 363.9,156.4 364.2,156.3 367.5,155.3 370.8,155 374.1,154.9 377.4,154.6 379.9,153.1 380.7,152 381.3,149.9 381.7,146.6 382,143.3 382.1,140.1 381.2,136.8 380.7,136.4 377.4,134.8 374.1,133.8 373.2,133.5 370.8,132.9 367.5,132.4 364.2,132.2 360.9,132.1 357.6,132.2 354.3,132.5 351,133ZM513.9,136.8 513.5,140.1 515.9,142.9 519.2,141.2 519.8,140.1 520.1,136.8 519.2,135.6 515.9,134.6ZM176.1,152.5 177.6,153.1 178.9,156.4 178.7,159.7 176.1,162.8 172.8,161.1 171.6,159.7 171.7,156.4 172.8,155.3 175.3,153.1ZM215.7,162.3 218.9,162.9 219,162.9 222.3,164.9 224.1,166.2 225.4,169.4 224.6,172.7 223.1,176 222.3,176.9 219.6,179.2 219,179.6 215.7,181.1 212.4,182.3 211.5,182.5 209.1,183.6 205.8,183.6 204.1,182.5 202.5,181.6 199.2,180 196.9,179.2 195.9,178.8 192.6,177.4 191.2,176 189.3,174.4 187,172.7 186,171.9 183.3,169.4 182.7,166.6 182.6,166.2 182.7,166.1 186,165.3 189.3,165.2 192.6,165.1 195.9,165.2 199.2,165.4 202.5,165.6 205.8,165.5 209.1,164.6 212.4,163.3 213.6,162.9ZM578.6,162.1 581.9,161.6 585.2,161.5 588.5,162.8 588.7,162.9 590.8,166.2 591.1,169.4 588.5,171.9 587,172.7 585.2,173.4 582.1,176 581.9,176.3 579.9,179.2 578.6,180.7 575.3,182.1 572,182.4 568.7,182.3 565.4,181.4 563.1,179.2 562.1,176.5 562,176 562.1,174.4 562.9,172.7 565.4,172.2 568.7,171 570.7,169.4 572,167.8 573.1,166.2 575.3,163.2 576,162.9ZM605,162.5 607.2,162.9 608.3,163.1 609.8,166.2 610.6,169.4 611.3,172.7 611.6,175.4 611.7,176 611.6,176.1 609.8,179.2 608.3,180.7 605.1,182.5 605,182.6 601.7,183 598.4,182.8 597.6,182.5 595.1,181.4 593.4,179.2 592.6,176 593.4,172.7 595.1,172 598.4,170.5 599.6,169.4 601.7,166.7 602.1,166.2 604.6,162.9ZM87,163.1 90.3,165.1 91.7,166.2 93.3,169.4 92.7,172.7 92,176 92.6,179.2 93.6,180.4 96.9,182.2 100.2,182.1 103.5,181.6 106.8,181.5 109.7,182.5 110.1,182.6 113.4,183.7 116.7,184.3 120,184.4 123.3,184.3 126.6,184.1 129.9,183.6 133.2,182.8 134,182.5 136.5,181.5 139.6,179.2 139.8,179 142.4,176 143.1,175.2 145.9,172.7 146.4,172.3 149.7,171.7 153,172 156.3,172.5 159.6,172.3 162.9,171.9 166.2,172 167.5,172.7 169.5,174 171.2,176 172.8,177.4 176.1,179.2 176.3,179.2 179.4,179.7 182.7,179.9 186,180.1 189.3,181.1 190.3,182.5 191.4,185.8 192.6,188.7 192.7,189 195.9,191.8 198,192.3 199.2,192.5 202.5,192.5 205.8,192.5 208.9,195.6 209.1,195.9 210.3,198.8 210.9,202.1 211.3,205.4 212,208.6 212.4,210.3 212.8,211.9 212.9,215.2 212.4,215.9 210.5,218.4 209.1,219.3 205.8,220.1 202.5,219.6 199.2,219 195.9,218.8 192.6,218.9 189.3,219.2 186,219.7 182.7,220.5 179.4,221.7 179.3,221.7 176.1,222.6 172.8,222.6 169.5,222.5 166.2,222.9 163.3,225 162.9,225.3 160.8,228.2 159.6,229.8 158.1,231.5 156.3,233.2 153,233.8 149.7,233.5 146.4,232.6 144.5,231.5 143.1,229.5 142.5,228.2 142.2,225 142.2,221.7 142.2,218.4 141.1,215.2 139.8,213.7 136.5,212 134.4,211.9 133.2,211.8 131.8,211.9 129.9,212 126.6,212.2 123.3,212.3 120,212.2 116.7,212.2 113.4,212.1 110.1,212.1 106.8,212.1 103.5,212.2 100.2,212.2 96.9,212.2 93.6,212.1 90.3,212.1 87,212.1 80.5,212.1 80.5,211.9 80.5,208.6 80.5,205.4 80.5,202.1 80.5,198.8 80.5,195.6 80.5,192.3 80.5,189 80.5,185.8 80.5,182.5 80.5,179.2 80.5,176 80.5,172.7 80.5,169.4 80.5,166.2 80.5,163.1ZM466.4,202 469.7,201.6 473,201.7 476.3,201.8 479.6,201.6 482.9,201.4 486.2,201.5 487.8,202.1 489.5,203 491.7,205.4 491.9,208.6 489.7,211.9 489.5,212 486.2,213.7 482.9,213.9 479.6,213.7 476.3,213.6 473,213.8 469.7,213.7 466.4,212.7 465.6,211.9 463.1,209 462.9,208.6 462.4,205.4 463.1,204.3 466.1,202.1ZM638,250.6 641.3,250.1 644.6,250.3 647.8,251.1 647.9,251.1 651.2,254.3 651.2,254.4 652.6,257.6 654.5,260.2 655.1,260.9 657.8,262.9 659.1,264.1 661.1,266 662.7,267.4 664.4,268.9 667.7,270.4 668.8,270.7 671,271.5 674.3,272.4 677.6,273.1 680.9,273.8 681.9,273.9 684.2,274.6 687.5,275.5 690.8,276.7 692,277.2 690.8,277.6 687.5,278.4 684.2,278.5 680.9,278.6 677.6,278.7 674.3,278.7 671,278.9 667.7,279.1 664.4,279.5 661.7,280.5 661.1,280.8 659.3,283.7 659.5,287 661.1,288.3 664.4,290.2 664.5,290.3 667.7,291.2 671,292 674.3,292.8 677,293.5 677.6,293.7 680.9,294.6 684.2,295.4 687.5,295.9 690.8,296 694.1,295.9 697.4,295.9 700.7,295.9 704,296 707.3,296.1 710.6,296.1 713.9,296.1 717.2,296 720.5,296 723.8,295.9 727.1,295.8 730.4,295.8 733.7,295.8 737,295.8 743.5,295.8 743.5,296.8 743.5,300.1 743.5,303.3 743.5,306.6 743.5,309.9 743.5,313.1 743.5,316.4 743.5,318.6 737,318.6 733.7,318.6 730.4,318.6 727.1,318.7 723.8,318.9 720.5,319.2 717.2,319.6 714.5,319.7 713.9,319.7 710.6,319.7 710.4,319.7 707.3,319.6 704,319.6 700.7,319.6 697.4,319.6 694.1,319.6 690.8,319.6 687.5,319.6 684.9,319.7 684.2,319.7 680.9,319.8 677.6,319.8 674.3,319.9 671,319.9 667.7,319.9 664.4,319.8 661.7,319.7 661.1,319.6 657.8,319.5 654.5,319.4 651.2,319.4 647.9,319.5 644.6,319.4 641.3,319.2 638,318.9 634.7,318 631.4,316.8 630.5,316.4 628.1,315.2 624.8,314.1 621.5,313.3 620.5,313.1 618.2,312.6 614.9,311.6 611.6,310.4 610.1,309.9 608.3,309.1 605,307.9 601.7,306.6 601.7,306.6 598.4,305.6 595.1,305.4 591.8,305.5 588.5,305.6 585.2,305.2 581.9,304.4 578.6,303.7 576,303.3 575.3,303.2 572,303 568.7,302.6 565.4,302.1 562.1,301.5 558.8,301.1 555.5,300.9 552.2,300.9 548.9,300.9 545.6,300.9 542.3,300.9 539,301 535.7,301.2 532.4,301.6 529.1,302.1 525.8,302.5 522.5,302.5 519.2,302.3 515.9,302.3 512.6,302.3 509.3,302.3 506,302 502.7,300.8 501.5,300.1 499.4,296.9 499.4,296.8 499.4,296.7 501.6,293.5 502.7,292.4 505.2,290.3 506,289.6 509.3,287.8 511.1,287 512.6,286.2 515.9,284.8 519.2,284 522.5,284 525.8,284.2 529.1,284.6 532.4,284.9 535.7,284.8 539,283.7 539,283.7 542.3,281.9 544.7,280.5 545.6,280 548.9,278.3 551,277.2 552.2,276.9 555.5,276.2 558.8,276 562.1,275.9 565.4,276 568.7,276.1 572,276.1 575.3,276.1 578.6,276 581.9,275.9 585.2,275.8 588.5,275.8 591.8,276 595.1,276 598.4,275.5 601.7,274.6 603.8,273.9 605,273.6 608.3,273 611.6,272.7 614.9,272.4 618.2,271.4 619.4,270.7 621.5,269.2 623.8,267.4 624.8,266 626.6,264.1 628.1,261.6 628.8,260.9 630.8,257.6 631.4,256.8 633.3,254.3 634.7,252.9 637.1,251.1ZM324.6,280.1 327.9,279.3 331.2,279.5 334.5,280.1 336.2,280.5 337.8,281 341.1,281.2 344.4,280.9 347.7,281.3 351,282.3 354.3,283.1 356.7,283.7 357.6,284 360.9,285.7 362.9,287 361,290.3 360.9,290.3 357.6,292.6 356.7,293.5 354.6,296.8 354.3,297.6 353.2,300.1 351.8,303.3 351,304.9 349.9,306.6 348,309.9 347.7,310.6 346,313.1 344.4,315.3 343.2,316.4 341.1,317.7 337.8,319.1 336.7,319.7 334.5,320.7 331.2,322.7 330.8,322.9 327.9,324.4 324.6,325.1 321.3,325 318,324.6 314.7,324.4 311.4,324.4 308.1,324.6 304.8,325.5 303.3,326.2 301.5,326.9 298.2,328.2 294.9,329.2 292.7,329.4 291.6,329.6 290.4,329.4 288.3,329.2 285,326.5 284.7,326.2 283.2,322.9 281.7,320.2 281.3,319.7 278.7,316.4 278.4,316 275.9,313.1 275.1,312 274.1,309.9 272.7,306.6 271.8,305.1 270.4,303.3 268.5,301.8 266,300.1 265.2,299.3 263,296.8 262.7,293.5 263.3,290.3 264.7,287 265.2,286.5 268.5,285.7 270.5,287 271.8,287.9 274.8,290.3 275.1,290.5 278.4,292.4 281.2,293.5 281.7,293.7 285,294.8 288.3,295.4 291.6,295.6 294.9,295.5 298.2,294.9 301.5,293.7 302,293.5 304.8,292.6 308.1,291.4 310.6,290.3 311.4,289.8 314.5,287 314.7,286.8 317.8,283.7 318,283.6 321.3,281.6 323.7,280.5ZM426.8,285.7 430.1,285.3 433.4,285.4 436.7,285.7 440,285.8 443.3,285.8 446.6,285.7 449.9,285.6 453.2,285.5 456.5,285.6 459.8,286.2 462.9,287 463.1,287.1 466.4,288.8 468.6,290.3 469.7,291 473,293.1 473.8,293.5 476.3,294.9 479.1,296.8 479.6,297.6 481,300.1 481.8,303.3 482,306.6 481.6,309.9 481,313.1 479.9,316.4 479.6,316.8 476.4,319.7 476.3,319.7 473,319.8 471.7,319.7 469.7,319.4 466.4,319.6 466.2,319.7 463.1,321 459.8,322.8 459.7,322.9 456.5,324.6 453.2,325.4 449.9,325.5 446.6,325 443.3,323.2 442.8,322.9 440,321.2 437.7,319.7 436.7,318.8 435.2,316.4 435,313.1 435.2,309.9 435.1,306.6 433.4,303.7 433.2,303.3 430.1,300.4 429.6,300.1 426.8,298.5 423.5,297.4 421.3,296.8 420.2,294.8 419.8,293.5 420.2,292.9 421.6,290.3 423.5,287.9 424.2,287ZM87,301.8 90.3,301.8 93.6,301.8 96.9,301.8 100.2,301.8 103.5,301.7 106.8,301.6 110.1,301.3 113.4,301.1 116.7,301.3 120,302.4 122.2,303.3 123.3,303.9 126.6,305.1 129.9,305.1 133.2,304.8 136.5,304.9 139.5,306.6 139.8,307.1 141.6,309.9 143.1,311.7 145.1,313.1 146.4,313.8 149.3,316.4 149.7,317 150.9,319.7 151.8,322.9 152.4,326.2 150.8,329.4 149.7,330.3 146.4,331.7 143.1,332.1 139.8,332.4 136.5,332.6 133.2,332.6 129.9,332.4 126.6,331.8 123.3,330.7 120,330 116.7,329.6 114.6,329.4 113.4,329.4 110.1,329 106.8,328.5 103.5,327.4 100.4,326.2 100.2,326.1 96.9,324.7 93.6,324.5 90.3,324.5 87,324.7 80.5,324.7 80.5,322.9 80.5,319.7 80.5,316.4 80.5,313.1 80.5,309.9 80.5,306.6 80.5,303.3 80.5,301.8ZM225.6,364.6 228.9,363.9 232.2,363.9 235.5,364 238.8,364.1 242.1,364 245.4,363.9 248.7,364.5 250.4,365.4 252,366.8 253.6,368.6 255.3,370.5 257.7,371.9 258.6,372.3 261.9,372.9 265.2,372.2 265.4,371.9 268.1,368.6 268.5,368.3 270.8,365.4 271.8,364.7 275.1,363.4 278.4,364.2 279.7,365.4 281.7,367.9 282.2,368.6 284.1,371.9 285,373.1 287.7,375.2 288.3,375.7 291.6,377.6 293.2,378.4 293.4,381.7 292,385 291.6,388.2 294.1,391.5 294.9,391.9 298.2,392.8 301.5,392.9 304.8,392.1 305.7,391.5 308.1,390.2 310.4,388.2 311.4,387.4 314.2,385 314.7,384.5 318,381.9 319.3,381.7 321.3,381.5 324.6,381.5 327.9,381 330.9,378.4 331.2,378.2 334.5,375.5 335.1,375.2 337.8,374.3 341.1,374.2 344.4,374.3 347.7,374.3 351,373.8 354.3,372.7 356.3,371.9 357.6,371.3 360.9,371 364.2,371.2 367.5,371.5 370.8,371.6 374.1,371.6 377.4,371.6 380.7,371.6 384,371.7 387.3,371.7 390.6,371.7 393.9,371.7 397.2,371.7 400.5,371.9 401.6,371.9 403.8,372 407.1,371.9 407.7,371.9 410.4,371.7 413.6,371.4 416.9,371.2 420.2,371.1 423.5,371.1 426.8,371.2 430.1,371.2 433.4,371.2 436.7,371.2 440,371.2 443.3,371.2 446.6,371.2 449.9,371.2 453.2,371.1 456.5,371.1 459.8,371.3 463.1,371.5 466.4,371.6 469.7,371.7 473,371.7 476.3,371.6 479.6,371.6 482.9,371.6 486.2,371.5 489.5,371.5 492.8,371.5 496.1,371.5 499.4,371.5 502.7,371.6 506,371.6 509.3,371.6 512.6,371.6 515.9,371.6 519.2,371.5 522.5,371.5 525.8,371.5 529.1,371.5 532.4,371.5 535.7,371.5 539,371.5 542.3,371.5 545.6,371.5 548.9,371.5 552.2,371.5 555.5,371.5 558.8,371.5 562.1,371.5 565.4,371.5 568.7,371.5 572,371.5 575.3,371.5 578.6,371.5 581.9,371.5 585.2,371.6 588.5,371.8 591,371.9 591.8,371.9 595.1,372 595.8,371.9 598.4,371.7 601.7,371.1 605,370.9 608.3,371.7 608.8,371.9 611.6,373.1 614.9,373.9 618.2,374.3 621.5,374.3 624.8,374.3 628.1,374.2 631.4,374.2 634.7,374.2 638,374.2 641.3,374.2 644.6,374.2 647.9,374.2 651.2,374.3 654.5,374.3 657.8,374.2 661.1,374.1 664.4,374.1 667.7,374.5 669.3,375.2 671,376.5 673.1,378.4 674.3,379.9 677.3,381.7 677.6,381.9 680.9,382.1 684.2,381.9 686.3,381.7 687.5,381.6 690.8,381.4 694.1,381.3 697.4,381.4 700.7,381.4 704,381.4 707.3,381.3 710.6,381.3 713.9,381.3 717.2,381.3 720.5,381.4 723.8,381.4 727.1,381.4 730.4,381.5 733.7,381.5 737,381.6 743.5,381.6 743.5,381.7 743.5,385 743.5,388.2 743.5,391.5 743.5,394.8 743.5,398 743.5,401.3 743.5,404.6 743.5,407.8 743.5,411.1 743.5,414.3 743.5,417.6 743.5,420.9 743.5,423.2 737,423.2 733.7,423.9 730.4,424.1 727.1,422.6 726.2,420.9 724.7,417.6 723.8,415.5 723.3,414.3 720.5,411.2 720.3,411.1 717.2,409.8 713.9,409.7 710.6,409.8 707.3,409.9 704,409.8 700.7,409.8 697.4,409.9 694.7,411.1 694.1,411.3 691.5,414.3 690.8,415.2 689,417.6 687.5,418.6 684.2,418.7 681.4,417.6 680.9,417.2 678.1,414.3 677.6,413.8 674.3,411.2 673.9,411.1 671,410.1 667.7,409.7 664.4,410.5 663.5,411.1 661.1,413.6 660.7,414.3 658.8,417.6 657.8,418.4 654.5,419 651.2,418.9 647.9,418.6 645.5,417.6 644.6,416.6 643.1,414.3 642.5,411.1 642.2,407.8 641.3,405.6 640.7,404.6 638,402.7 634.7,402.2 631.4,402.3 628.1,402.5 624.8,402.5 621.5,402.3 618.2,402 614.9,401.7 611.6,401.5 608.3,401.4 605.8,401.3 605,401.3 601.7,401.2 598.4,401.2 595.1,401.2 591.8,401.2 588.5,401.3 587,401.3 585.2,401.3 581.9,401.4 578.6,401.5 575.3,401.7 572,401.9 568.7,402.1 565.4,402.3 562.1,402.5 558.8,402.6 555.5,402.6 552.2,402.6 548.9,402.5 545.6,402.3 542.3,402.1 539,401.9 535.7,401.7 532.4,401.6 529.1,401.6 525.8,401.6 522.5,401.7 519.2,401.9 515.9,402.1 512.6,402.3 509.3,402.6 506,402.7 502.7,402.7 499.4,402.5 496.1,402.1 492.8,401.6 489.5,401.5 486.2,402.1 483.5,404.6 482.9,405.3 481.3,407.8 479.6,409 476.3,409.8 473,409.9 469.7,409.8 466.4,409.6 463.1,409.5 459.8,409.5 456.5,409.4 453.2,409.4 449.9,409.3 446.6,409.3 443.3,409.2 440,409.2 436.7,409.2 433.4,409.2 430.1,409.3 426.8,409.4 423.5,409.6 420.2,409.8 416.9,409.8 413.6,409.3 410.4,408.9 407.1,408.6 403.8,408.6 400.5,408.6 397.2,408.6 393.9,408.6 390.6,408.6 387.3,408.6 384,408.6 380.7,408.6 377.4,408.7 374.1,408.9 370.8,409.2 367.5,409.5 364.2,409.7 360.9,409.6 357.6,409.6 354.3,409.6 351,409.6 347.7,409.6 344.4,409.6 341.1,409.6 337.8,409.7 334.5,409.9 331.2,410.1 327.9,409.9 324.6,408.7 323.1,407.8 321.3,406.5 318,405 316.5,404.6 314.7,404 311.4,403.2 308.1,402.3 304.8,403.5 303.9,404.6 301.5,407.6 301.2,407.8 298.2,409.1 294.9,410.3 293.6,411.1 291.6,413.5 291.1,414.3 289.6,417.6 288.3,419.2 285,419 284.2,417.6 283.1,414.3 281.7,411.9 280.9,411.1 278.4,409.7 275.1,409.4 271.8,409.9 268.5,411.1 268.5,411.1 265.2,412.6 261.9,413.2 258.6,413 255.3,412.5 252,412.3 248.7,412.5 245.4,414.1 245.2,414.3 242.1,417 241.4,417.6 238.8,418.7 235.5,418.6 232.9,417.6 232.2,417.1 228.9,414.6 228.1,414.3 225.6,413 222.3,412.7 219,412.8 215.7,412.9 212.4,412.8 209.1,412.6 205.8,412.3 202.5,412 199.2,411.8 195.9,411.8 192.6,412 189.3,412.4 186,412.6 182.7,412.7 179.4,412.7 176.1,412.7 172.8,412.8 169.5,412.8 166.2,412.7 162.9,412.3 159.6,412.2 156.3,412.7 153.9,414.3 153,415.3 151.6,417.6 149.7,420.5 149.4,420.9 146.4,423.2 143.1,423 139.8,422.3 136.5,422.4 134.5,424.1 133.2,425.6 131.9,427.4 129.9,428.9 126.6,429.7 123.3,428.3 122.1,427.4 120,424.7 119.3,424.1 116.7,422.3 113.4,422.4 110.1,422.9 106.8,423 103.5,421.6 101.5,420.9 100.2,420.5 96.9,419.8 93.6,419.8 90.3,419.9 87,420.1 80.5,420.1 80.5,417.6 80.5,414.3 80.5,411.1 80.5,407.8 80.5,404.6 80.5,401.3 80.5,398 80.5,394.8 80.5,391.5 80.5,388.2 80.5,385 80.5,381.7 80.5,381.6 87,381.6 90.3,381.5 93.6,381.4 96.9,381.6 97.6,381.7 100.2,382.1 103.5,382.4 106.8,382.3 108.2,381.7 110.1,380.3 111.4,378.4 112.7,375.2 113.4,373.9 116.1,371.9 116.7,371.7 120,371.4 123.3,371.4 126.6,371.5 129.9,371.5 133.2,371.5 136.5,371.5 139.8,371.4 143.1,371.3 146.4,371.3 149.7,371.4 153,371.7 155.4,371.9 156.3,372 159.6,372.1 162.9,372.1 166.2,372 169.5,372 172.8,372 176.1,372 179.4,372 182.7,372 186,372.1 189.3,372.2 192.6,372.2 195.9,372.3 199.2,372.3 202.5,372.2 205.8,372.2 209.1,372.3 212.4,372.3 215.7,372 215.9,371.9 219,370.5 220.7,368.6 222.3,367.1 224.1,365.4ZM575.3,413.7 578.6,412.4 581.9,412 585.2,411.7 588.5,411.5 591.8,411.3 595.1,411.2 598.4,411.2 601.7,411.3 605,411.5 608.3,412.2 611.6,414.2 611.7,414.3 611.8,417.6 611.6,417.7 608.3,419.7 605,420.1 601.7,419.6 598.4,419.1 595.1,418.9 591.8,419.1 588.5,419.5 585.2,420.9 585.2,420.9 581.9,423.6 581.5,424.1 579.4,427.4 578.6,428.3 575.3,429.9 572,430.5 568.7,430.3 565.4,428.5 564.5,427.4 564.9,424.1 565.4,423.2 567.3,420.9 568.7,419.5 570.9,417.6 572,416.3 574.4,414.3ZM436.7,423.9 440,423.7 443.3,423.8 446.6,424.1 446.8,424.1 449.9,425.7 452.2,427.4 449.9,429.4 446.7,430.7 446.6,430.7 446.6,430.7 443.3,430.2 440,429.5 436.7,429.1 433.4,428.3 431.2,427.4 433.4,425.2 435.4,424.1Z"/>
<path fill="#e22fe0" d="M87,126.1 90.3,126.1 93.6,126.1 96.9,126.1 100.2,126.1 103.5,126.1 106.8,126.1 110.1,126.1 113.4,126.1 116.7,126.1 120,126.1 123.3,126.1 126.6,126.1 129.9,126.1 133.2,126.1 136.5,126.1 139.8,126.1 143.1,126.1 146.4,126.1 149.7,126.1 153,126.1 156.3,126.1 159.6,126.1 162.9,126.1 166.2,126.1 169.5,126.1 172.8,126.1 176.1,126.1 179.4,126.4 182,127 180,130.3 179.4,131 176.1,133 173.3,133.5 172.8,133.6 169.5,133.6 168.7,133.5 166.2,133.1 162.9,132.4 159.6,132 156.3,132.3 154.4,133.5 153,135.1 152.1,136.8 150.7,140.1 149.7,141.5 146.4,142.3 143.1,141.1 139.8,140.2 139,140.1 136.5,139.5 133.2,139.3 129.9,139.4 126.6,139.5 123.3,139.7 120,139.8 116.7,139.5 113.4,138.1 111.9,136.8 110.1,134.2 109.5,133.5 106.8,131.7 103.5,131.2 100.2,131.1 96.9,131.2 93.6,131.2 90.3,131.3 87,131.3 80.5,131.3 80.5,130.3 80.5,127 80.5,126.1ZM212.4,127 215.7,126.3 219,126.1 222.3,126.1 225.6,126.1 228.9,126.4 231.4,127 230,130.3 228.9,131.5 225.6,133 222.3,133.3 219,133.2 215.7,132.5 213.1,130.3 212.4,127.8 212.2,127ZM245.4,126.3 248.7,126.1 252,126.1 255.3,126.1 258.6,126.3 261.8,127 258.6,128.4 255.3,129.2 252,129.9 249.9,130.3 248.7,130.4 247,130.3 245.4,130 242.6,127ZM324.6,126.4 327.9,126.1 331.2,126.1 334.5,126.1 337.8,126.1 341.1,126.1 344.4,126.1 347.7,126.1 351,126.1 354.3,126.1 357.6,126.1 360.9,126.1 364.2,126.1 367.5,126.1 370.8,126.1 374.1,126.1 377.4,126.1 380.7,126.1 384,126.1 387.3,126.1 390.6,126.1 393.9,126.1 397.2,126.1 400.5,126.1 403.8,126.1 407.1,126.1 410.4,126.1 413.6,126.1 416.9,126.1 420.2,126.1 423.5,126.1 426.8,126.1 430.1,126.1 433.4,126.1 436.7,126.1 440,126.1 443.3,126.1 446.6,126.1 449.9,126.1 453.2,126.1 456.5,126.1 459.8,126.1 463.1,126.1 466.4,126.1 469.7,126.1 473,126.1 476.3,126.1 479.6,126.1 482.9,126.1 486.2,126.1 489.5,126.1 492.8,126.1 496.1,126.1 499.4,126.1 502.7,126.1 506,126.1 509.3,126.1 512.6,126.1 515.9,126.1 519.2,126.1 522.5,126.1 525.8,126.1 529.1,126.1 532.4,126.1 535.7,126.1 539,126.1 542.3,126.1 545.6,126.1 548.9,126.1 552.2,126.1 555.5,126.1 558.8,126.1 562.1,126.1 565.4,126.1 568.7,126.1 572,126.1 575.3,126.1 578.6,126.1 581.9,126.1 585.2,126.1 588.5,126.1 591.8,126.1 595.1,126.1 598.4,126.1 601.7,126.1 605,126.1 608.3,126.1 611.6,126.1 614.9,126.1 618.2,126.1 621.5,126.1 624.8,126.1 628.1,126.1 631.4,126.1 634.7,126.1 638,126.1 641.3,126.1 644.6,126.1 647.9,126.1 651.2,126.1 654.5,126.1 657.8,126.1 661.1,126.1 664.4,126.1 667.7,126.1 671,126.1 674.3,126.1 677.6,126.1 680.9,126.1 684.2,126.1 687.5,126.1 690.8,126.1 694.1,126.1 697.4,126.1 700.7,126.1 704,126.1 707.3,126.1 710.6,126.1 713.9,126.1 717.2,126.1 720.5,126.1 723.8,126.1 727.1,126.1 730.4,126.1 733.7,126.1 737,126.1 743.5,126.1 743.5,127 743.5,130.3 743.5,133.5 743.5,136.8 743.5,140.1 743.5,143.3 743.5,146.6 743.5,149.7 737,149.7 733.7,148.1 731.7,146.6 730.4,144.9 728.6,143.3 727.1,142.4 723.8,142.1 720.5,142.3 717.2,142.7 713.9,142.8 710.6,142.7 707.3,142.5 704,142.5 700.7,142.5 697.4,142.7 694.1,142.8 690.8,142.7 687.5,142.2 684.2,141 680.9,140.1 680.7,140.1 677.6,139.5 674.3,139.1 671,138.8 667.7,138.6 664.4,138.5 661.1,138.5 657.8,138.6 654.5,139.4 653.2,140.1 651.2,141.7 650.2,143.3 648.9,146.6 647.9,147.8 645,149.9 644.6,150.1 641.3,151.2 638,151.9 636.6,149.9 635.4,146.6 634.7,144.9 634.2,143.3 631.4,140.1 631.3,140.1 628.1,138.9 624.8,138.6 621.5,138.6 618.2,138.6 614.9,138.8 611.6,139.1 608.3,139.5 605.1,140.1 605,140.1 601.7,140.8 598.4,141.9 595.1,142.7 591.8,142.8 588.5,142.7 585.2,142.9 581.9,143.1 578.6,143 575.3,141.6 573.8,140.1 572,137.3 571.7,136.8 569.2,133.5 568.7,133.1 565.4,131.7 562.1,131.2 558.8,131.2 555.5,132 553.5,133.5 552.2,136.8 554.4,140.1 555.5,140.9 558.8,143.3 558.9,143.3 561.6,146.6 561.4,149.9 558.8,151.9 555.5,152.5 552.2,152.5 548.9,152.2 545.6,151.1 544.1,149.9 542.3,147.4 541.9,146.6 539.4,143.3 539,143 535.7,141.9 532.4,142.2 529.1,142.4 525.8,140.6 525.6,140.1 524.6,136.8 523.5,133.5 522.5,132 520,130.3 519.2,129.9 515.9,129.6 514.1,130.3 512.6,131 510.6,133.5 509.4,136.8 509.3,136.9 506,139.9 502.7,140 499.4,139.3 496.1,138.4 492.8,136.9 492.7,136.8 489.5,134.1 486.5,133.5 486.2,133.5 486.2,133.5 482.9,135.8 482.1,136.8 479.6,138.3 476.3,140 476.3,140.1 473,141.3 471.6,143.3 470.8,146.6 469.7,148.2 466.6,149.9 466.4,149.9 466.4,149.9 465.1,146.6 466,143.3 466.4,142.5 469.6,140.1 469.7,139.8 470.8,136.8 469.7,134 469.5,133.5 466.4,131.1 463.2,130.3 463.1,130.2 459.8,129.9 456.5,130 455,130.3 453.2,130.6 449.9,131.6 446.6,132.7 443.3,132.5 440,131.9 436.7,131.4 433.4,131.2 430.1,131.3 426.8,131.4 423.5,131.4 420.2,131.4 416.9,131.4 413.6,131.5 410.4,131.7 407.1,132 403.8,132.1 400.5,132.1 397.2,132 393.9,131.9 390.6,131.6 387.3,131.4 384,130.8 380.7,130.4 379.6,130.3 377.4,130 374.1,129.5 370.8,129.2 367.5,128.9 364.2,128.9 360.9,128.8 357.6,128.9 354.3,129 351,129.2 347.7,129.4 344.4,129.8 341.3,130.3 341.1,130.3 337.8,131.3 334.5,132.3 331.2,133 327.9,132.9 324.6,130.6 324.3,130.3 322,127ZM87,141.5 90.3,141.2 93.6,141 96.9,141.1 100.2,142.3 101.7,143.3 102.7,146.6 100.2,147.7 96.9,148.7 93.6,149.1 90.3,149.5 87.4,149.9 87,149.9 80.5,149.9 80.5,149.9 80.5,146.6 80.5,143.3 80.5,141.5ZM337.8,142.8 338.8,143.3 341.1,144.3 343.8,146.6 344.4,148 344.8,149.9 344.6,153.1 344.4,153.9 343.3,156.4 341.1,159 340.2,159.7 337.8,161 334.5,160.6 333,159.7 331.2,156.4 332.2,153.1 333.2,149.9 334.2,146.6 334.5,145.9 336.9,143.3ZM387.3,141.8 390.6,142.4 391.5,143.3 393.2,146.6 392.5,149.9 390.6,151.7 387.3,152.2 385.7,149.9 385.2,146.6 386.3,143.3ZM416.9,141.9 420.2,141.7 423.5,141.8 426.8,141.9 430.1,141.7 433.4,141.6 436.7,141.8 438.6,143.3 440,146.6 439.1,149.9 436.7,152.1 433.4,152.3 430.1,152.2 426.8,152 423.5,152.1 420.2,152.2 416.9,152 413.6,150.2 413.3,149.9 411.8,146.6 413.6,143.6 413.9,143.3ZM278.4,145.5 281.7,145.5 285,145.6 288.3,146.3 288.8,146.6 290.8,149.9 290.7,153.1 290,156.4 288.3,158.6 285,159 281.7,157.9 279.7,156.4 278.4,155.1 277,153.1 275.8,149.9 276.4,146.6ZM370.8,159.6 371.9,159.7 374.1,159.9 377.4,160.6 380.7,161.2 384,161.9 387.1,162.9 387.3,163 390.6,165.8 390.9,166.2 393.7,169.4 393.9,169.6 397.2,171.5 400.5,171.9 402.2,169.4 402.8,166.2 403.8,164.3 404.8,162.9 407.1,161.5 410.4,161.4 413.6,161.7 416.9,162.1 420.2,162.4 423.5,162.4 426.8,162.3 430.1,162.2 433.4,162.2 436.7,162.3 439.5,162.9 440,163.2 442.3,166.2 440.7,169.4 440,170.2 437.4,172.7 436.7,173.3 433.4,173.8 430.1,173.7 426.8,173.3 423.5,173 420.2,172.8 417.4,172.7 416.9,172.7 413.6,172.6 410.4,172.6 407.1,172.5 403.8,172.6 403.4,172.7 402,176 400.8,179.2 400.5,179.8 397.2,182.4 396.3,182.5 393.9,182.8 390.6,182.5 390.6,182.5 387.3,181.7 384,179.2 384,179.2 381.4,176 380.7,175.1 377.7,172.7 377.4,172.4 374.1,171.7 370.8,171.7 367.5,172.1 364.2,172.4 360.9,172.5 357.6,172.7 357.1,172.7 354.3,173.3 352.3,176 351,179.1 350.9,179.2 347.7,182.3 345.8,182.5 344.4,182.7 341.5,182.5 341.1,182.5 337.8,182.5 337.7,182.5 334.5,184.1 332.9,185.8 331.2,188.4 330.6,189 327.9,191.5 324.6,192.2 321.3,192.1 318,192 314.7,192.2 313.8,192.3 311.4,192.5 308.1,192.3 308,192.3 304.8,190.3 303.4,189 301.5,185.8 301.5,185.8 301.4,182.5 301.5,181.2 301.6,179.2 301.5,176 301.5,176 300.9,172.7 300.7,169.4 301.5,168.1 302.7,166.2 304.8,165.1 308.1,164 311.4,163.8 314.7,163.9 318,164.4 321.1,166.2 321.3,166.4 323.4,169.4 324.6,170.8 327.9,172.4 331.2,172.5 334.5,172.2 337.8,171.9 341.1,171.7 344.4,171.6 347.7,171.4 351,169.6 351,169.4 352.7,166.2 354.3,165 357.6,163.5 359.2,162.9 360.9,162.4 364.2,161.3 367.5,159.9 369.6,159.7ZM215.7,165.5 219,166.1 219.2,166.2 221.1,169.4 220.7,172.7 219.7,176 219,176.7 215.7,178.2 212.8,179.2 212.4,179.3 209.1,179.7 206.6,179.2 205.8,179 202.5,176.8 201,176 200.4,172.7 202.5,171.7 205.8,170.4 207.1,169.4 209.1,168.7 212.4,166.9 213.5,166.2ZM717.2,181.6 720.5,181 723.8,180.6 727.1,180.5 730.4,180.6 733.7,180.8 737,181.1 743.5,181.1 743.5,182.5 743.5,185.8 743.5,189 743.5,192.2 737,192.2 733.7,192.1 730.4,192.1 727.1,192.2 726.4,192.3 723.8,192.6 720.5,192.8 717.2,192.4 716.9,192.3 713.9,190.3 712.9,189 712.3,185.8 713.9,183.4 715.1,182.5ZM176.1,184.3 179.4,183.8 182.7,183.9 186,184.2 187.7,185.8 189.3,188.7 189.4,189 191,192.3 192.6,193.8 195.9,195.1 198.5,195.6 199.2,195.9 202.5,197.6 203.7,198.8 203.7,202.1 202.9,205.4 202.5,206.6 201.6,208.6 199.5,211.9 199.2,212.1 195.9,213.2 192.6,213.4 189.3,213.3 186,212.6 184.7,211.9 182.7,209.2 182.4,208.6 182.3,205.4 182.7,203.2 182.9,202.1 182.8,198.8 182.7,198.7 180.7,195.6 179.4,194.6 176.1,192.3 176,192.3 173.1,189 173.4,185.8ZM694.1,192.3 697.4,191.5 699,192.3 700.7,193.6 702.1,195.6 702,198.8 700.7,200.6 698,202.1 697.4,202.3 696.6,202.1 694.1,201.1 692.3,198.8 691.9,195.6 694.1,192.3ZM628.1,269.2 631.4,269.5 634.5,270.7 634.7,270.8 638,272.2 641.3,272.3 644.6,272 647.9,272.2 650.7,273.9 651.2,274.6 652.2,277.2 652.2,280.5 652.2,283.7 653.1,287 654.5,288 657.8,290.3 657.8,290.3 661.1,291.8 664.4,292.7 667.7,293.4 668.3,293.5 671,294.2 674.3,295.1 677.6,296 680.7,296.8 680.9,296.9 684.2,298.6 687.5,299.5 690.8,299.6 694.1,299.6 697.4,299.5 700.7,299.4 704,299.3 707.3,299.3 710.6,299.3 713.9,299.3 717.2,299.4 720.5,299.4 723.8,299.5 727.1,299.6 730.4,299.7 733.7,299.7 737,299.7 743.5,299.7 743.5,300.1 743.5,303.3 743.5,306.6 743.5,309.9 743.5,313.1 743.5,313.6 737,313.6 733.7,313.6 730.4,313.5 727.1,313.4 723.8,313.2 722.2,313.1 720.5,313 717.2,312.7 713.9,312.6 710.6,312.6 707.3,312.7 704,312.7 700.7,312.8 697.4,312.8 694.1,312.8 690.8,312.8 687.5,312.8 684.2,312.7 680.9,312.5 677.6,312.2 674.3,311.7 671,311.2 667.7,311.4 664.4,312.9 663.8,313.1 661.1,313.9 657.8,314.5 654.5,314.7 651.2,314.7 647.9,314.7 644.6,314.5 641.3,314.2 638,313.4 637.4,313.1 634.7,311.6 631.4,310.4 628.1,309.9 627.5,309.9 624.8,309.7 621.5,309.4 618.2,309 614.9,308.1 611.6,307 610.6,306.6 608.3,305.5 605,304.1 602.6,303.3 601.7,303.1 598.4,302.4 595.1,302.2 591.8,302.4 588.5,302.5 585.2,302.2 581.9,301.7 578.6,301.3 575.3,300.8 572,300.2 571.1,300.1 568.7,299.4 565.4,298.7 562.1,298.4 558.8,298.3 555.5,298.3 552.2,298.2 548.9,298.2 545.6,298.2 542.3,298.2 539,298.3 535.7,298.4 532.4,298.6 529.1,298.8 525.8,299 522.5,298.9 519.2,298.9 515.9,298.9 512.6,299 509.3,299.1 506,298.4 504.2,296.8 506,294 506.7,293.5 509.3,292.3 512.6,291.5 515.9,290.5 518.2,290.3 519.2,290.2 522.5,290.2 525.8,290.3 525.9,290.3 529.1,290.4 532.4,290.4 533.2,290.3 535.7,290.1 539,289 542,287 542.3,286.8 545.6,285 548.3,283.7 548.9,283.4 552.2,282.1 555.3,280.5 555.5,280.4 558.8,279.7 562.1,279.7 565.4,279.8 568.7,279.6 572,279.2 575.3,278.9 578.6,278.8 581.9,278.8 585.2,278.9 588.5,279.1 591.8,279.2 595.1,279.1 598.4,278.5 601.3,277.2 601.7,277.1 605,276.2 608.3,275.6 611.6,275.6 614.9,275.5 618.2,274.8 619.7,273.9 621.5,272.9 624.8,270.8 625.1,270.7ZM321.3,286.6 324.6,284.8 327.9,284.3 331.2,286 332.3,287 334.5,290.2 334.6,290.3 337.8,292 341.1,291.8 344.4,291.5 347.7,291.8 349.1,293.5 349.8,296.8 348.6,300.1 347.7,301.8 346.2,303.3 344.4,305.4 343.1,306.6 341.1,309 340.2,309.9 337.8,312.3 336.8,313.1 334.5,314.8 332.9,316.4 331.2,317.5 327.9,319.6 327.9,319.7 324.6,320.3 321.3,320.2 318,319.9 314.7,319.7 311.4,319.8 308.1,320 304.8,320.3 301.5,321.1 298.2,322.7 297.9,322.9 294.9,324.4 291.6,325.2 288.3,324.4 287.3,322.9 285.5,319.7 285,318.7 283.8,316.4 281.7,313.6 281.2,313.1 278.4,310.9 277.6,309.9 275.5,306.6 275.1,305.9 273.9,303.3 271.8,301.1 270.3,300.1 268.5,298.8 265.8,296.8 265.5,293.5 267.9,290.3 268.5,289.9 269.1,290.3 271.8,292.3 273.9,293.5 275.1,294.2 278.4,295.8 281.1,296.8 281.7,297.3 285,299.3 286.9,300.1 288.3,301 291.6,301.5 294.9,301.2 297.4,300.1 298.2,299.8 301.5,297.6 302.4,296.8 304.8,295.9 308.1,294.9 311.4,294.1 313.1,293.5 314.7,292.9 317.8,290.3 318,290.1 320.6,287ZM430.1,290.2 433.4,289.8 436.7,289.8 440,290 443.3,290.1 446.6,290.1 449.9,290 453.2,289.9 456.5,290 457.5,290.3 459.8,291.1 463.1,292.4 466.3,293.5 466.4,293.6 469.7,295.4 472.8,296.8 473,297 476.3,299.6 476.7,300.1 478,303.3 478.5,306.6 478,309.9 476.6,313.1 476.3,313.6 473,314.2 469.7,313.5 466.4,313.2 463.1,315.2 462.3,316.4 459.8,317.9 457,319.7 456.5,319.9 453.2,320.5 449.9,320.7 446.6,320.3 445.4,319.7 443.3,318.4 440.2,316.4 440,315.2 439.8,313.1 440,311.5 440.4,309.9 440.6,306.6 440,305.7 438.8,303.3 436.7,301.4 435.7,300.1 433.4,298 431.6,296.8 430.1,294.6 429.1,293.5 430,290.3ZM87,305.2 90.3,305.2 93.6,305.2 96.9,305.2 100.2,305.2 103.5,305.2 106.8,305 110.1,304.8 113.4,304.7 116.7,304.8 120,306.2 121,306.6 123.3,308.5 126,309.9 126.6,310.3 129.9,311.9 131.2,313.1 131.7,316.4 130.6,319.7 129.9,320.6 126.6,322.7 123.3,322.9 120,322.7 116.7,322.7 115.5,322.9 113.4,323.2 110.1,323.6 106.8,323.3 105.9,322.9 103.5,321.6 100.2,320.5 96.9,319.8 93.6,319.7 90.3,319.8 87,319.8 80.5,319.8 80.5,319.7 80.5,316.4 80.5,313.1 80.5,309.9 80.5,306.6 80.5,305.2ZM275.1,366.5 278.4,367.4 279.3,368.6 280.2,371.9 281.7,375.1 281.7,375.2 283.1,378.4 283.6,381.7 283.3,385 282.4,388.2 281.7,389.4 278.5,391.5 278.4,391.5 278,391.5 275.1,391.1 272.2,388.2 271.8,386.6 271.4,385 271.6,381.7 271.7,378.4 271.5,375.2 271.6,371.9 271.8,371.1 272.6,368.6ZM318,390.9 319.5,391.5 321.3,393 322.1,394.8 322,398 321.3,398.7 318,399.9 314.7,399.2 312.6,398 312.3,394.8 314.7,392.3 316.4,391.5Z"/>
<path fill="#fe0000" d="M621.5,277.1 624.8,275.3 628.1,274.3 631.4,276.2 632.5,277.2 632.6,280.5 632.1,283.7 631.9,287 634.3,290.3 634.7,290.6 638,291.8 641.3,292.1 644.6,292.2 647.9,292.6 651.2,293.4 651.7,293.5 654.5,294.1 657.8,294.6 661.1,295.1 664.4,295.4 667.7,295.8 671,296.6 671.9,296.8 674.3,299.6 674.9,300.1 674.3,300.8 671,302.9 669.9,303.3 667.7,303.8 664.4,305.1 662.3,306.6 661.1,307.4 657.8,309.4 656.1,309.9 654.5,310.2 651.2,310.3 647.9,310 647.3,309.9 644.6,308.7 641.8,306.6 641.3,306 638.3,303.3 638,303.1 634.7,302.3 631.4,302.3 628.1,302.6 624.8,303.1 622.8,303.3 621.5,303.4 618.2,303.4 617.9,303.3 614.9,302.4 611.6,301.3 608.3,300.5 606.4,300.1 605,299.7 601.7,299.2 598.4,298.9 595.1,298.8 591.8,298.8 588.5,298.9 585.2,298.9 581.9,298.7 578.6,298.4 575.3,297.9 572,296.9 571.8,296.8 570.3,293.5 570.8,290.3 572,287 572,286.9 575.3,284.2 577,283.7 578.6,283.4 581.9,283.4 585.2,283.6 587.1,283.7 588.5,283.8 591.8,283.9 595.1,283.9 596,283.7 598.4,283.4 601.7,282.5 605,280.9 606.5,280.5 608.3,280.1 611.6,280.4 612.8,280.5 614.9,280.7 615.8,280.5 618.2,279.9 621.4,277.2Z"/>
<polygon fill="#fe0000" points="281.6,149 291,150 291.4,154 285,153.6"/>
<polygon fill="#fe0000" points="308,173 311,173 318,182 317,185.6 312,182 308.4,177"/>
<polygon fill="#fe0000" points="370,163 380,162.6 380,165 371,165"/>
<polygon fill="#fe0000" points="421,147.6 429,147.6 429.6,149.6 421.6,149.8"/>
<polygon fill="#e22fe0" points="679,201 690,197 700,193 702.4,196 691,204.4 682,204.4"/>
<polygon fill="#6ba2f6" points="132,273.6 148,270.4 178,268.8 202,272 204.4,274 190,277.6 162,278.6 142,276.6"/>
<polygon fill="#7547f2" points="162,273 176,271.4 192.4,273 191,274.8 176,275.6 164,274.8"/>
<polygon fill="#6ba2f6" points="192,287.2 232,286.8 233,288.6 193,289.4"/>
<polygon fill="#e22fe0" points="265,286 272,288 282,295 300,301 308,296 322,290 328,284 334,285 338,292 348,297 346,306 336,319 322,322 302,320 288,321 272,308 264,296"/>
<polygon fill="#fe0000" points="279,309 285,306 296,308 302,309 322,296 336,297 331,303 327,315 310,315 302,311 298,312 290,317 282,315"/>
<polygon fill="#e22fe0" points="432,289 452,288 468,292 482,308 482,314 468,320 448,320 437,312 432,298"/>
<polygon fill="#fe0000" points="444,300 452,298 462,302 468.4,309 464,314 454,315.2 447,308"/>
<polygon fill="#e22fe0" points="505,295 514,290 532,289 550,285 562,284 562,299 542,299.6 514,300.4 506,298"/>
<polygon fill="#fe0000" points="279.6,372.4 282.6,372 283.2,376 280,376.4"/>
<polygon fill="#e22fe0" points="432,425 442,423 456,424.4 455,426.4 442,427.4 433,426.4"/>
<polygon fill="#e22fe0" points="674.6,397.6 682,395 703,396.4 704.4,399 700,401.2 682,400"/>
<polygon fill="#6ba2f6" points="674,211.6 692,209.6 742,209.6 742,215 692,215 676,216"/>
<polygon fill="#e22fe0" points="310.5,183 333.7,180.7 327,192 322.8,198.3 316.5,191.2"/>
</g>
<path d="M104.5,166.9 107.2,166.2 109.5,168.4 112.2,167.9 114.7,169 117.3,168.8 114.4,168.5 112.4,170.5 110,171.5 111.8,175.2 115.5,177 115.5,179.4 118.5,179.3 121.5,178.2 124.6,179.2 122.8,182.5 119.3,184.6 115.5,186.2 110,187.1 114.5,186.1 119.1,185.2 122.8,184 126.4,182.5 130.1,179.8 133.8,177.9 135.6,175.2 139.2,177 142.2,176.9 144.7,175.2 147.2,175.5 149.9,175.3 152.1,177 154.7,177.1 156.7,179.2 159.4,178.8 163,180.7 166.7,182.5 170.4,186.2 174,188 177.7,191.7 179.5,194.4 185,197.2 185,200.8 185.3,204.5 185,208.2 185,213.7 188.7,219.2 191.4,223.8 196,224.7 197.8,227.4 201.5,232 203.3,235.7 207,241.2 210.6,244.8 210.6,241.2 207,235.7 203.3,230.2 205.1,229.2 207,233.8 209.8,236.5 212.5,239.3 214.9,242.4 218,244.8 219.8,250.3 225.3,254 229.2,255.4 232.6,257.7 238.1,257.7 243.6,260.4 247.2,261.9 250.9,263.2 254.6,265.9 256.4,268.7 260.1,271.4 265.6,273.2 269.2,271.4M269.2,271.4 266.5,269.6 261.9,270.5 259.1,266.8 259.6,263.1 259.1,259.5 254.6,257.7 250,257.7 250.9,254 252.7,247.6 247.2,248.5 245.4,252.2 239.9,253.1 236.3,252.2 233.5,246.7 233.5,241.2 234.4,235.7 239.9,232.9 245.4,232.9 248.2,233.8 249.1,231.4 254.6,231.4 258.2,232 260.4,235.7 262.8,240.2 265,240.6 264.6,235.7 263.2,231.1 265.6,227.4 271,223.4 273.8,222.3 272.9,219.2 273.8,217.3 276.5,213.7 280.2,211.8 283.9,210.6 282.4,208.2 285.7,206.3 289.4,204.5 291.2,206.3 293.9,206.3 300.3,203.6 302.2,201.8 298.5,202.1 294.8,201.8 293,199 293.9,197.2 289.4,197.2 283.9,199.9 286.7,197.6 289.4,195.3 294,195.5 298.5,194.8 304,194.4 308.6,192.6 309.5,190.8 309.5,188.9 305.8,187.1 302.2,185.2 298.5,181.6 295.9,179.9 294.8,177 293,176.4 290.2,178 287.5,179.8 283.9,178.8 283.9,175.2 280.2,173.3 277.5,172.4 274.7,172.4 271.9,172.7 269.2,172.4 269.2,177 270.8,179.5 271,182.5 267.4,186.2 267.4,191.7 265.6,192.6 261.9,189.8 261,186.2 256.4,185.2 250.9,183.4 247.2,183 243.6,182.5 239,178.8 239.9,175.2 242.2,173.7 244.7,172.7 247.2,171.5 249.8,170.3 252.7,169.7 254.6,166 257.2,166.3 259.6,165.5 261.9,164.2 262.8,160.5 259.5,160.5 256.4,159.6 253.6,160.3 250.9,161.4 247.2,160.5 244.2,159.1 241.8,156.8 239.1,158.8 236.3,160.5 232.6,162.3 228.9,162.7 225.3,162.3 221.7,161.4 218,161.4 214.3,162.2 210.6,162.3 207.6,162.1 204.6,161.1 201.5,161.4 198.4,161 195.6,159.2 192.3,159.6 189.2,160.1 186.3,158.4 183.2,158.7 180.4,158.6 177.7,158.1 174.7,158.8 171.5,158.8 168.5,159.6 164.8,160 161.2,160.5 157.5,160.1 153.9,159.2 150.2,160.2 146.6,158.7 143.4,159.5 140.5,157.6 137.4,157.8 134.7,157.4 132,156.5 129.3,155.5 126.4,156.3 122.7,156.6 119.1,157.8 116.9,160.2 113.6,160.5 110.9,161.4 108.1,161.4 111.8,164.2 115.5,165.1 112.7,165 110,165.4 107.4,166.8 104.5,166.9M278.4,143.1 281.8,143.3 284.8,142.3 287.5,140.3 290.8,140.3 293.6,138.4 296.7,137.6 299.7,138.2 302.4,136 305.4,136.2 308.4,136.3 311.3,136.1 313.9,136.7 316.5,136 319.1,135 321.8,135.5 324.4,135.4 327,135.3 329.6,135.8 332.1,134.7 334.8,135 337.4,134.9 340.1,135.4 342.8,135.2 345.3,134.2 347.9,133.9 350.5,133.9 353.1,134.9 355.7,135.3 358.3,134.9 360.9,135.3 363.5,135.8 366.2,134.8 369.6,134.6 372,137.6 375.4,137.6 378.5,137.3 381.5,138.1 384.5,138.5 381.5,139.2 379.1,141.2 377.2,145.8 375,147.3 373.6,149.5 371.7,153.2 368.1,155.9 371.7,157.8 369.2,159.6 366.2,159.6 363.1,160 360.4,162.3 357.1,162 354.8,163.4 351.9,163.3 349.8,165.1 347.4,165.8 344.8,165.8 342.4,166.6 339.4,167.6 336.9,169.7 334.4,172 333.3,175.2 331.5,177 327.8,175.5 325.3,173.8 322.3,173.3 319.6,172.4 318.6,169.7 316.6,167.5 315,165.1 315,160.5 318.6,158.7 315.8,157.8 313.1,156.8 311.3,153.2 307.8,151.8 305.8,148.6 302.2,147.8 298.5,147.3 295.7,147.1 293,146.6 290.2,146.5 287.5,147.7 284.7,147.7 282.4,146.5 280.2,144.9ZM368.1,166.9 371.7,165.4 375.4,165.9 379.1,165.6 381.8,164.6 384.5,165.6 387.3,167.8 384.5,169.1 381.5,170.5 378.1,170.6 374.9,170.1 371.7,169.9 370.8,168.2ZM269.2,271.4 272.9,270.5 274.7,266.8 280.2,265 281.1,266.8 283.9,265 287.5,267.2 291.2,267.1 294.8,267.8 298.5,267.4 302.2,271.4 304.8,273.9 307.7,276 313.1,276.4 317.7,278.8 320.5,284.2 320.5,287 324.1,288.8 329.6,289.8 335.1,292.5 340.6,293.4 344.3,296.2 347.9,298 347.9,303.5 344.3,308.1 340.6,312.7 340.6,318.2 338.8,323.7 336.9,327.3 331.5,329.2 326.9,331 323.2,334.7 323.2,338.3 320.5,342 316.8,346.6 314.1,349.3 311.3,351.2 307.7,350.2 304.9,349.3 307.7,353.9 305.8,357.2 302.1,357.5 298.5,358.5 297.6,362.2 293,362.2 294.8,364.9 292.1,369.5 288.4,371.3 291.2,374.1 287.5,378.7 285.7,382.3 286.6,384.2 291.2,387.8 285.7,388.8 280.2,386 276.5,383.2 274.7,378.7 273.8,373.2 277.5,369.5 278.4,364 276.5,360.3 277.5,354.8 280.2,349.3 280.1,345.6 281.1,342 282,338.4 282.9,334.7 283.7,331 283.9,327.3 282.9,320.9 280.2,319.1 274.7,315.4 272,311.8 269.2,306.2 266.5,300.8 263.7,298 263.7,295.2 265.6,292.5 264.6,288.8 265.6,286.1 268.3,284.2 270.1,279.7 270.1,274.2 269.2,271.4M401,221.4 404.6,222.5 408.3,222.5 411.9,220.9 415.7,219.7 419.3,219.1 423,219.2 426.7,219.3 430.3,218.6 432.1,222.8 431.2,225.2 435.8,226.9 440.4,228.3 446.8,231.1 448.6,228.3 454.1,227 457.6,228.7 461.4,229.6 466.9,229.6 471.5,229.8 471.7,232.2 473.3,236.6 475.2,239.3 477,243.9 479.7,248.5 480.6,253.1 483.4,257.7 487.1,261.3 490.7,264.1 491.6,265.9 494.4,267.8 499.9,266.3 505.4,265 505.4,267.8 503.8,271.2 501.7,274.2 499,279.7 496.3,282 493.5,284.2 488.9,288.8 486.1,291.6 484.3,296.2 483.4,299.8 484.3,305.3 486.1,309 486.1,314.5 482.5,318.2 477.9,321.8 476.1,325.5 477,331 472.4,333.8 472,337.4 470.6,340.2 467.8,343.8 464.2,347.1 459.6,349.3 455.9,349.3 452.3,349.7 448.6,350.8 445.9,349.7 445,346.6 443.1,342 440.4,336.5 439.8,332.8 438.5,329.2 436.4,325.2 434.9,320.9 434,316.3 436.7,309.9 436.7,304.4 434,298 432.1,294.3 428.5,288.8 429.4,285.2 429.4,280.6 427.6,278.8 423,279.1 420.2,275.6 414.7,276 410.2,277.5 406.5,277.8 402.8,277.8 398.3,278.9 395.5,277.8 391.9,274.5 388.2,271.4 387.3,268.7 384.5,266.8 380.9,264.1 381.8,260.4 380,259.9 381.8,256.8 382.7,252.2 380.9,248.5 382.7,243.9 385.5,239.3 388.2,236.2 391.9,234.4 393.7,232 394.1,229.2 396.4,225.6 400.1,223.8ZM502.2,309 504.1,315.4 502.6,318.2 500.8,323.7 499.7,327.3 499,331 495.3,333.8 492.5,332.8 491.3,327.3 493.1,323.7 492.5,318.2 496.2,315.4 499.9,311.8ZM458.7,156.8 463.3,156.8 465.8,158.2 468.7,158.1 472.4,159.6 476,160.2 479.7,160.5 482.5,160.6 485,161.2 487.1,163.2 487.1,165.4 484.4,166.1 481.6,165.6 478,164.4 474.2,164.7 472.4,165.4 475.1,166.2 476.1,168.8 479.7,169.7 484.3,168.4 486.1,166 490.7,165.1 492.5,162.3 496.2,162 499.9,162.9 502.7,161.1 505.9,161.5 509,161.4 512.7,161.4 516.2,159.8 520,160.5 523.7,159 527.5,158.6 531,160.1 534,159.4 536.5,161.1 534.6,156.8 537.4,153.2 541,153.4 544.7,153.5 544.7,156.8 544.6,159.6 545.6,162.3 547.5,164.2 549.3,160.5 548.7,157.8 548.4,155 551.5,153.8 554.8,154.5 557.6,154.3 560.3,155 560.3,152.2 563.4,152.1 566.5,152.7 569.4,151.3 571.3,149.5 574.6,150.2 577.2,147.6 580.4,147.7 583.1,146.3 585.9,148.3 588.7,148.4 591.4,147.1 594.1,146.3 597.1,146.5 599.9,146.1 602.4,144.5 605.1,145.7 607.9,146.4 610.5,147.7 613.5,145.8 616.2,146.8 618.9,147.7 618.9,151.3 616.1,151.9 613.4,151.3 616.3,150.8 618.9,152.2 621.5,153.5 624.5,151.5 627,153.4 629.8,153.2 632.7,151.7 635.9,152 639,151.9 642.7,152.3 646.3,153.2 649.1,156.5 652.2,155.4 655.5,155.9 659.1,156.1 662.8,156.1 665.6,155.2 668.3,154.1 671.1,153.7 673.8,155 676.6,153.6 679.3,154.6 683.1,154.5 686.6,155.9 689.4,156 692.1,156.8 694.9,156.6 697.6,156.2 700.3,158.2 703.1,157.2 704.9,159.4 707.9,160.3 711,158.5 714,159.6 717,159 720.1,158.3 723.2,158.7 725,160.5 728,159.9 731,158.9 734.2,159 737.8,159.8 741.5,160.5M82.5,160.7 86,162.4 89.8,163.2 92.6,163.4 95.3,164.2 98,165.3 100.8,165.6 98.4,167 96.2,168.8 91.7,168.2 89.2,166.5 86.2,166 82.5,167.3M741.5,167.3 737.8,168.4 740.6,172.4 738,173.8 735,172.4 732.3,173.3 729.4,173.3 727.3,175.3 725,176.6 722,177.3 718.9,176.4 715.9,177 712.9,177.9 710.4,179.8 709.5,184.3 707.6,187.1 704.9,189.8 702.1,192.6 698.8,193.5 697.6,189.8 697,184.3 699.4,181 702.4,179.3 704.9,177 707.2,174.8 710.4,174.2 712.2,172.4 708.7,172.1 705.8,174.2 702.6,173 699.4,174.2 697.2,176.2 694.8,177.9 691.6,177.9 688.4,178.3 685.4,179.5 682.3,177 679.3,178.3 676.5,177.5 673.8,178.3 670.9,179.6 668.3,181.6 663.7,186.2 661.9,188 666.4,188 670.1,189.5 670.5,191.7 669.2,195.3 668.3,199 664.6,202.7 660,206.9 655.5,208.5 651.8,209.1 649.4,210.9 649.1,213.7 645.4,214.9 648.1,218.2 648.7,222.3 645.4,223.4 643.2,223.8 643.6,220.1 642.6,217.9 640.8,217.3 640.8,214.6 639,214 635.3,215.5 633.5,212.2 628,215.5 628,217.3 631.7,218.2 636.2,218.8 633.5,220.1 630.8,222.8 632.6,226.5 635,229.2 633.5,231.4 635.3,232.9 633.5,235.7 630.8,240.2 628,242.4 625.3,244.8 620.7,246.1 615.2,248 613.4,249.8 612.4,247.6 609.7,247.6 607,250.3 605.5,252.5 607.9,255.8 611.2,259.5 612.1,264.1 609.7,266.8 607.3,268.1 604.2,271.1 603.8,268.7 600.5,266.8 599.6,265 596.9,263.7 596,262.2 595.1,264.1 594.1,267.8 595.1,270.5 597.8,274.5 600.5,276.9 601.5,280.6 602.4,284.4 601.5,284.6 597.4,281.9 596,277.8 595.1,275.1 592.3,272.3 592.3,268.7 592.3,264.1 590.8,259.5 590.5,256.8 587.7,256.8 585,257.7 584.6,253.1 581.3,249.1 579.5,245.4 576.8,246.7 573.1,247.2 571.3,248.5 570.3,250.3 567.6,251.6 563,255.8 559,258.6 558.4,262.2 558.1,266.8 556.6,270 553.9,272.1 552,270.5 550.2,265.9 548.4,261.3 546.5,256.8 545.3,252.2 545.1,248.5 543.8,248.5 541.1,248.9 538.3,246.1 540.1,244.8 537.4,243.5 534.6,241.5 530.1,240.8 524.6,241 519.1,240.2 516.3,237.9 515.1,237.3 511.8,238.2 508.1,236.6 505.4,234.2 503.5,232 501.1,232 499.9,232.9 501.1,235.1 503.5,238 504.4,240.2 505.4,239.3 506.3,240.8 506.3,242.4 509,242.6 511.8,242.4 514.5,239.7 515.4,238.8 515.2,241.5 519.1,243.5 521.5,245.8 519.6,249.4 517.6,252.2 516.3,254.2 512.7,255.8 507.7,257.7 501.7,261 495.3,263.2 491.6,263.7 490.3,259.9 489.8,256.8 487.1,252.5 483.8,248.1 482.5,243.9 479.7,240.2 476.4,235.7 475.9,232.9 474.6,236 473,234.8 471.7,232.2 471.5,229.8 474.2,229.8 475.7,228.3 477,224.7 477.9,221.9 477.9,219.5 474.2,220.4 470.6,220.6 467.8,220.1 465.1,220.1 462.3,219.2 460.5,216.4 460.1,214.6 460.5,213.3 465.1,211.8 469.7,211.3 473.3,210 476.4,210 478.8,211.3 482.5,211.8 488,210.9 488,209.1 484.9,207.2 481.6,205.4 480.3,203.9 483.4,200.8 479.7,201.3 476.1,202.3 478.8,203.9 476.1,205.1 473.3,205.4 471.5,203.8 473.3,202.7 469.7,201.8 467.8,202.7 466.4,204.1 464.5,206.3 463.1,208.2 463.3,210 465.1,211.5 462.3,211.8 460,212.4 455.9,212.2 455,213.3 453.6,212.8 454.1,214.9 455.9,217.3 454.1,218.2 453.7,220.1 451.7,219.3 450.8,217.3 449.5,215.1 447.5,212.8 447.7,210.4 445.9,209.1 442.2,207.2 439.5,205.4 438.2,204.1 436.9,203.2 434.5,203.9 434.5,205.8 436.9,207.2 438,209.3 441.3,210.2 441.3,211.1 445,212.8 445.9,213.5 443.1,212.8 442.2,214.2 443.5,215.5 441.7,217.3 440.7,217.3 441.3,214.6 440.4,213.5 438.5,212.6 435.8,211.5 433.6,209.8 431.2,208.2 430.3,206.3 428.1,205.6 425.7,206.7 423,208 420.2,207.4 417.9,207.8 417.9,210.2 415.7,211.3 412.9,212.8 411.5,214.6 412.4,216.1 410.7,218.1 408.3,219.5 403.8,219.7 402.1,220.8 400.5,219.9 398.5,218.8 395.7,219.2 395.9,216.4 394.6,215.9 395.9,211.8 395.5,208.2 397.4,206.9 401.9,207.1 406.5,207.4 408.9,207.4 409.8,205.1 409.8,202.7 408,200.6 403.8,199.2 403.4,198.1 406.5,197.5 409.3,197.7 408.7,195.9 410.2,196.4 412.4,196.2 414.7,195.1 415.1,193.7 417.5,192.9 419.3,191.7 420.8,189.8 424.8,188.9 427.6,188.4 428.1,186.5 427,185.2 427,182.5 429.4,182.1 431.4,181.2 430.9,183.4 431.8,184.3 429.8,185.6 430.3,186.9 432.1,188 434.9,187.3 438,188.2 441.3,187.4 445.9,186.5 447.7,187.3 450.4,185.8 450.4,182.9 453.2,181.2 456.5,182.1 456.5,180.1 455,178.5 459.6,177.7 463.3,177.7 466.9,177 464.2,176.1 459.6,176.3 457,177.6 454.1,177.2 451.4,175.9 451,173.3 453.2,170.9 455.2,168.9 457.8,167.8 456.8,166.6 452.3,166.6 451,168.8 446.8,171.1 443.7,173.9 443.5,175.9 446.4,177 445,178.8 442.2,179.4 442.2,182.5 441.3,184 438.5,184.2 438,185.4 435.8,185.4 434.9,183.8 433.6,181 432.1,178.8 431.2,177.9 429.4,178.8 426.6,180.5 423.9,180.5 422.1,178.8 421.2,176.1 421.2,173.3 423.9,171.9 427.6,170.6 430.3,169.3 434,166.9 435.8,164.7 438.5,162.3 442.2,160.9 446.8,159 449.4,157.8 452.3,157.9 455.5,157.6 458.7,156.8M498,204.5 502.6,201.8 509,201.2 508.1,203.9 505.4,205.4 504.1,207.2 508.1,209.1 509,210.9 508.5,212.2 510.7,215.1 510.5,218.6 506.3,219.5 502.6,218.4 501.5,216.6 502.4,213.1 500.8,210.4 499,208.2 497.7,205.8ZM519.1,203.6 520.9,201.6 523.7,202.1 523.7,204.9 520.9,206.7 518.7,205.4ZM546.5,203 551.1,201.4 556.6,201.8M602,192.4 605.1,190.8 609.7,188 612.8,184.9 611.5,186.2 607.9,190.2 604.2,192.4ZM672.9,306.6 674.7,312.7 678,314.5 679.3,320.9 683.8,323.7 687.5,328.2 690.1,330.7 692.1,333.8 693,339.2 691.2,345.7 688.4,349.3 686.6,354.8 682.9,356.3 679.8,358.5 676.5,356.7 673.8,357.9 669.2,356.7 667.4,353 664.6,352.1 664.1,347.5 661,351.2 660,350.2 657.3,346.9 652.7,344.8 648.1,344.9 642.6,346.2 639,347.5 638.1,349.3 631.7,349.3 628,351.2 623.4,349.9 623.8,345.7 622.5,342 620.7,336.5 619.8,331.9 620.7,327.3 625.3,324.9 629.8,323.7 634.4,322.8 635.9,319.1 638.1,318.2 640.8,314.5 644.5,312.7 647.2,314.5 649.1,314.5 650.9,309.9 654.5,308.1 659.1,309.4 662.8,309.4 661,311.8 660,314.5 662.8,316.3 666.4,318.7 669.7,319.1 671,314.5 671.4,309.9ZM676.9,361.8 682.9,361.8 683.5,364 682,366.4 679.3,366.8 677.8,364.4ZM728.1,350.1 731.4,353 733.3,354.3 734.2,355.9 737.8,355.9 738.8,356.7 736.6,359.1 736,360 734.2,362.7 732,362.7 732.3,360.3 730.2,359.1 731.6,357.6 731.6,354.8 728.7,351.2ZM728.1,361.2 731.1,363.4 728.7,365.8 728.3,367.5 725.6,368.2 724.7,371.1 721.4,372.4 718.6,371.7 716.8,371 720.1,367.7 724.1,365.7 726.3,363.4ZM651.8,288.5 657.3,288.5 659.1,293 664.3,289.8 670.1,291.8 676.5,294 679.3,297.1 682,298 682.6,300.8 684.7,303.7 687.5,305.9 682.9,305.3 679.3,302 675.6,301.1 673.8,303.5 670.1,303.9 666.4,301.7 664.6,302.2 664.1,298 661,295.2 655.5,294.3 655.1,292.5 657.3,291 654.5,291.6ZM611.5,284.2 615.2,283.9 618.9,281.1 623.4,277.8 626.2,274.2 629.8,277.5 628,279.1 627.5,282.4 629.8,285.2 627.1,285.5 627.1,288.8 625.3,292.5 624.3,294.3 621.6,294.3 618.9,292.9 616.1,292.5 613.4,290.1 611.5,287.6ZM586.5,276.7 590.5,277.5 595.1,281.5 597.8,283.7 601.5,287 603.3,290.7 606,292.5 605.7,297.6 603.3,297.5 599.3,294.3 596.5,290.7 593.2,287 590.5,282.4ZM604.8,299.5 609.7,298.9 615.2,298.9 618.9,299.8 621.6,301.3 621.2,302.8 615.2,302.2 609.7,301.3 606,300.2ZM631.7,285.2 637.2,285.2 640.8,284.2 639,286.3 633.5,286.1 632.6,288.8 637.2,288.6 634.8,290.7 636.2,293 637.2,296.2 635,295.8 633.5,292.5 632.6,297.1 630.8,297.1 630.8,293.4 629.8,291.6 631.3,287.9ZM632.6,253.1 635.7,253.3 635.3,257.7 634.4,260.8 639,263.2 638.1,263.7 634.4,261.9 632.9,260.4 631.7,257.7ZM635.3,273.2 638.1,271.4 641.7,269.6 643.6,273.2 642.6,275.5 641.4,276 639,275.1ZM650.3,225.6 651.8,224.7 654.5,221.9 660,221.7 662.4,219.2 663.7,219.2 666.4,217.3 668.3,213.7 668.3,211.3 671,211.3 671.9,214.6 670.1,217.3 670.1,220.1 668.3,222.8 665.5,223.4 662.8,223.6 660.6,225.6 659.1,223.6 655.5,224.3 652.7,224.7 653.3,226.5 651.8,229.6 650.3,229.6 650,227.4 649.4,226.1ZM668.8,210.9 670.1,209.1 673.8,210 678.3,207.6 676.5,206.3 671.9,203.6 671.4,205.4 670.7,207.6 668.8,209.1ZM671.9,202.7 674.7,201.2 673.4,199 676.5,197.2 673.8,192.6 674.7,188.9 673.2,187.4 671.9,189.8 671.6,193.5 671.9,198.1ZM633.5,240.8 635.3,241.2 633.1,246.7 632,244.8ZM611,251.6 614.3,250.3 615.2,251.2 612.4,253.6ZM558.4,269 560.8,271.4 561.7,274.2 559.5,276 558.1,274.2ZM401.6,195.1 405.6,194.8 409.3,194.1 414.4,193.1 413.5,192.6 415.1,190.4 412.5,189.8 411.6,188 409.3,186.2 408.3,184.3 406.5,184.3 408.3,181.6 404.7,181.2 406.1,179.6 402.8,179.6 401,181.6 401.9,184.3 403.2,185.2 402.8,186.5 405.6,186.4 406.5,188 406.5,189.3 403.8,189.5 404.3,191.1 402.5,192 405.6,192.6 406.5,193.1 403.8,193.5ZM401,191.3 400.7,188.9 401.9,187.1 400.1,185.8 397,185.8 396.1,187.4 393.7,187.6 394.6,189.5 393.1,191.7 394.6,192.6 397.4,192ZM432.1,141.2 434.8,140.7 437.6,140.3 441.3,140.2 445,140.3 448,140.3 450.4,142.2 446.8,143.1 443.1,146.4 440.5,145.2 437.6,144.9 435.3,142.4ZM445,139.8 448,140 451,138.9 454.1,139.4 457.7,140.6 461.4,140.3 457.9,141.9 454.1,141.6 451.2,140.2 448.1,140.2ZM506.3,155.9 510.9,157.2 514.1,156.8 517.3,157.4 514.5,154.1 516.3,151.3 518.8,150.4 521.3,149.8 523.7,148.6 526.3,147.5 529.3,148.5 531.9,147 534.8,147.7 537.4,146.2 532.8,145.8 529.9,145.3 527.4,147.5 524.5,146.4 521.8,147.1 519.5,148.2 516.8,147.8 514.5,149.1 510.9,152.2 507.2,154.5ZM585.9,142.2 589,141.8 592,141.1 595.1,140.7 598,142.2 601.4,140.6 604.2,142.2 600.5,144 597.5,143.6 594.4,143.8 591.4,143.1 588.5,143.8ZM582.2,139.4 584.8,139.6 587.2,138.7 589.6,138.1 593.2,139.8 589.4,139.2 585.9,140.7ZM498,139.4 501.7,139.4 505.4,138.9 503.5,140 500.7,140.1ZM510.9,139.8 514.8,140.4 518.2,138.5 521.9,137.7 525.5,138.9 523,140.6 520,140 517,139.3 513.9,140.2ZM662.8,148.6 665.8,147.9 669,149 671.9,147.7 674.7,147.9 677.4,148.9 680.4,150.1 683.5,149.7 686.6,149.5 684.1,150 681.5,150.8 678.9,150.4 676.3,148.6 673.8,149.9 670.7,150.2 667.7,150.9 664.6,150ZM668.3,151.7 671.1,151.6 673.8,152.6 670.1,152.8ZM738.8,156.5 741.5,155.9M82.5,155.9 87.1,156.3 84.3,156.8 82.5,157M299.4,164.7 296.6,165.2 294.8,167.5 291.2,170.9 293,173.3 289.6,173.5 286.6,172 283.6,170.3 280.2,170 277.2,170.3 274.7,168.8 272.1,167.3 269.2,168.2 271,166 274.2,166.4 277.5,166.6 278.4,163.2 274.7,161.8 271.5,161.8 269.2,159.6 267.4,158.1 264.3,157.2 261.3,158.9 258.2,158.7 255.5,157.7 252.7,157.8 248.2,156.8 248.2,153.2 251.9,152.6 255.5,151.9 258.2,150.8 261,150.9 263.7,151.9 266.7,151.8 269.2,153.5 272.7,153.7 275.6,155.6 279,155.1 282,156.8 285.1,156.6 287.5,158.7 289.4,160.5 291.6,162.9 294.8,163.2ZM219.8,161.1 216.7,162.2 213.7,161.1 210.6,161.2 207,162.5 203.3,161.8 200.4,161.9 197.8,160.5 197.8,157.8 194.2,155.9 196.9,153.2 199.6,154 202.3,154.7 205.1,153.7 208.8,153.4 212.5,153.3 215.1,151.7 218,152.6 219.8,154.1 222.1,156.4 225.3,156.3 227.1,158.7 224.4,159.9ZM186.8,156.3 182.3,155 185,151.3 188.5,149.7 192.3,150.4 194.8,150.8 197.2,151.8 199.7,152.4 196,154.5 191.4,155.9ZM272.9,146.8 269.2,145.9 265.6,147.1 262.7,145.8 259.5,146 256.4,145.8 253.6,145.2 250.9,144 252.7,140.3 250.5,138.9 248.1,138.2 245.4,138.5 248.7,138.7 251.7,137.6 254.6,136.3 257,135.1 259.6,135.4 262.1,135.7 264.7,135.6 267.2,136.2 269.6,134.5 272.2,135.4 274.7,134.8 277.3,134.6 279.9,135.7 282.6,134.3 285.2,135.1 287.8,134.2 290.4,134.6 293,135.4 295.5,137.2 298.5,136.7 295.6,137.9 292.2,137.2 289.4,138.9 286.9,139.6 284.8,141.6 282,141.2 278.2,140.9 274.7,142.2 274.7,144.4 272.2,146.2 269.2,145.8ZM265.6,150 262.5,149.3 259.5,151.5 256.4,150.4 253.9,149.8 251.2,151.1 248.7,150.5 246.2,148.8 243.6,149.9 243.6,147.3 246.4,147.5 249.1,148.2 251.8,148.6 254.6,148.2 257.7,147.3 260.6,149.2 263.7,148.4ZM252.7,143.5 249.7,142.3 246.6,144.1 243.6,143.1 240.9,141.3 238.1,139.8 241.7,138.6 245.4,138.5 248,140 250.9,140.3ZM218,149.5 215.4,150.9 212.5,149.9 209.7,149.4 207,150.4 204,149.4 200.7,150.5 197.8,149.1 201.5,147.1 204.3,147.9 207,146.3 209.8,147.7 212.5,146.8 215.3,147.4 218,148ZM234.4,149.5 230.8,150.4 227.1,149.5 225.3,147.1 229,147.5 232.6,146.6ZM234.4,155.9 231.8,154.6 229,154.5 226.2,154.5 227.1,151.9 230.3,153 233.5,151.7 235.4,154.1ZM241.8,155 237.2,154.5 236.8,151.3 240,150.8 243.2,150.9 246.3,151.7 244.6,154.1ZM264.6,170 261.9,170.2 259.2,170.9 256.4,170.9 252.7,168.8 254.8,167.1 257.3,166 260.5,167 263.7,168.2ZM303.4,199.6 309.5,201.2 315,201.4 315.5,199.6 313.7,196.2 310,195.3 310.4,192.6 307.7,193.5 304.9,197.2ZM185.9,198.3 183.2,197.5 177.7,194.4 179.5,193.9 183.2,195.3ZM256.4,246.7 260.1,244.8 264.6,244.8 271,247.6 276.2,250 270.1,250.5 269.2,249.1 265.5,248.4 261.9,247.2 258.2,247ZM275.8,253.1 278.4,250.5 283.9,250.7 286.6,253.1 282.9,253.6 281.1,254.6ZM268.7,253.5 272.3,253.8 270.1,254.4ZM289,253.3 291.7,253.5 290.3,254ZM243.6,201.4 248.2,199 250.9,197.5 254.6,199 257,201.2 252.7,201.8 249.1,201ZM251.5,210.6 254,210 254,206.3 256.4,203.2 258.2,202.7 262.8,202.7 265.6,204.5 262.8,207.8 261,208.2 259.1,206.3 259.5,204.1 257,203.2 254.6,204.5 251.5,205.4 251.3,208.2ZM259.5,210.6 263.7,210.7 267.4,208.7 264.6,208.9 260.1,209.8ZM266.1,207.6 272,207.2 272.3,206.2 269.2,206.5ZM183.2,166 186.5,165.3 189.3,167.1 192.3,167.8 196,165.1 193.2,165.2 190.5,164.2 188.1,164.9 185.4,164.3ZM197.8,175.2 200.3,173.5 203.3,173.3 207,173 210.6,171.9 207,174.2 204.2,174.5 201.5,175.5ZM230.8,188.4 233.5,188.2 235.7,193.5 234.8,194.6 231.7,191.7ZM470.2,287.9 474.2,286.6 474.2,290.7 471.5,292.1ZM465.6,293.4 466,298 468.4,302.6M474.2,304.8 475.5,309 476.1,313.2M82.5,430.6 86.4,430.4 90.4,430.7 94.3,431.2 98.2,430.6 102.1,431 106.1,431.2 110,430.9 114.2,430.1 118.6,430.2 122.8,429.1 126.5,428.9 130.1,428.5 133.8,428.4 137.4,427.8 142,426.5 146.6,425.4 150.3,425.3 153.9,424.4 157.6,424.8 161.2,424 164.9,423.6 168.5,423 172.2,422.8 175.9,423 179.6,422.5 183.2,421.8 186.9,422 190.5,422 194.2,422.2 197.8,423 201.5,422.7 206.1,422.9 210.6,423.9 214.3,424.4 217.9,424.4 221.6,423.7 225.3,424.1 228.9,420.8 233.5,420.6 238.1,420.8 242.4,420.9 246.6,421.1 250.9,420.8 254.6,421.4 258.2,421.6 261.9,421 265.6,421.4 270.1,420.3 274.7,419.9 280.2,417.2 283.9,413.5 287.5,409.8 293,407.1 296.6,405.7 300.3,404.3 304,403.8 307.7,403.1 304,405.2 300.3,407.1 297.6,409.8 293,412.6 298.5,415.3 300.3,419 301.3,422.7 300.3,424.1 303.9,425.5 307.8,426.2 311.3,427.8 315.9,428.8 320.5,429.4 325,430.2 329.6,430 334.2,430.5 338.8,430 343.4,430.3 347.9,429.6 352.6,428.7 357.1,426.9 361.7,426.5 366.2,425.1 370.6,423 375.4,421.8 380,421.3 384.5,419.9 389,418.3 393.7,417.2 398.2,416.7 402.8,416.6 407.4,415.7 412,414.8 416.6,415.6 421.2,415.3 425.8,415.3 430.3,415 434.9,414.5 439.5,414.4 444.1,414.6 448.6,415 453.2,415.6 457.8,415.3 462.4,414.7 466.9,413.5 472.4,412.6 476.1,414.1 481.6,414.8 485.2,413.1 489.7,411.7 494.4,411.1 498.9,409.7 503.5,408.9 508.1,408.3 512.7,408 516.3,409.5 521.8,410.4 526.4,410.3 531,410.8 535.5,411.8 540.1,412.6 543.8,415 549.3,414.4 554.8,412.6 558.3,410.9 562.1,409.8 566.7,409.4 571.3,408.9 575.9,409.2 580.4,408.6 585.9,408.9 590.6,408.6 595.1,407.6 599.7,407.7 604.2,408.6 608.8,408 613.4,408 618,408.2 622.5,408.6 627.1,408.9 631.7,408.9 636.2,408.3 640.8,408 645.4,407.7 650,408 654.5,407.5 659.1,407.4 663.8,407.8 668.3,408.9 672.8,409.7 677.4,409.8 681.9,411.2 686.6,412.2 691.2,412.8 695.7,413.5 700.3,414.6 704.9,415.3 709.4,416 714,416.6 718.6,417.4 723.2,418.1 725,419.9 719.5,422.7 714,425.4 710.4,429.1 714.1,429.4 717.7,430 721.4,430 725,430.5 728.6,430.3 732.3,430 736.9,430.7 741.5,430.6M427,211.5 429.8,211.8 429.6,215.1 427.6,215.5ZM427.7,209.1 429.4,208.2 429.2,210.9 428.1,210.9ZM434.9,217.3 440.4,217 439.8,219.7 434.9,218.1ZM455,221.9 460.1,222.5 455.9,222.8ZM471.1,222.8 475.2,221.7 473.3,223.6ZM416.6,214.6 418.2,214 417.5,214.9ZM379.1,234.8 382.2,234.9 381.8,235.7ZM383.1,235.5 386.4,234.4 387.3,235.3ZM367.2,256.2 369,259.1 370.3,257.7M359.8,216.2 362.6,216.1M364.8,217.7 365.9,217.7M436.7,261.7 439.1,262.2 438.2,263.5ZM398.8,173 400.1,173.3M409.3,175.9 409.8,177M395.9,156.7 397.4,157M446.8,150.4 447.3,150.6M500.8,159.9 503.5,160.5 501.7,161.1ZM520,158.1 522.7,159 520.9,159.2ZM540.1,152.6 542.9,152.8 541.6,153.2ZM595.1,143.1 598.8,142.4 602.4,143.6 598.7,144.4ZM582.2,138.9 585.9,138.7 589.6,138.5 585.9,139.8ZM663.7,147.7 668.3,148 666.4,149.5ZM668.3,151.7 671.5,151.6 674.7,152.1 671.9,152.6ZM711.3,178.8 713.1,179.8M715.5,185.6 716.8,186.5M679.3,205.4 682.9,203.9M685.7,203 687.5,202.1M690.2,200.8 692.6,198.1M694.8,196.2 697.6,194.4M654.5,224.7 658.2,224.1 657.3,225.9 655.1,226.7ZM645.8,239.1 646.9,237.9M648.7,235.1 649.4,234.8M643,225.8 644.3,225.8M626.5,271.4 630.8,266.3M632.6,262.4 634.4,263.2 633.9,264.5ZM635.3,265.4 637.2,265.9 636.2,267.8ZM636.2,268.7 638.1,267.2 637.5,270.1ZM639.5,264.1 641.7,265 641.2,268.1 640.3,267.2ZM645.4,283.3 646.3,287 647.4,284.8 646.3,287.9M646.3,292.5 651.4,292.9 649.1,293.4ZM642.6,292.9 644.8,293 643.7,294ZM638.1,305.9 641.1,303.8 644.5,302.4 640.8,304ZM631.3,302.6 637.2,302.2 633.5,303.3ZM625.8,302.6 629.8,302.2 628,303.3ZM629.8,304.4 633.1,305.3 631.3,305.7ZM621.6,302 623.8,302.4M604.8,290.1 607.3,292.1M618.3,299.8 620.7,299.8M683.8,297.3 687.5,297.1 690.8,294.9 689.3,297.1 686.6,298.6ZM688,292 691.7,294.7M695.2,297.1 697.2,299.5M698.5,299.8 700.3,300.8M702.1,301.3 704.5,302.6M704,304 706.4,305M706.2,302.6 707.6,304.8M707.3,305.9 709.1,306.8M717.2,314.5 718.1,315.6M719.9,319.1 720.4,319.6M712.2,324 716.8,327.7M736.6,319.1 738.9,320 736.9,320.4ZM739.3,317.2 741.5,316.9M95.9,311.8 98.1,312.7M138.1,319.3 138.9,319.6M126.4,250 128.3,250.9 127,252.2ZM125.2,248.7 126.4,249.1M122.4,247.6 123.3,248M119.7,246.5 120.4,246.7M244.5,287.4 245.6,288.6M300.3,381.4 305.8,381.4 304,382.7ZM342.4,386 346.1,387.3M537.9,376.8 541.1,377.8 539.2,378.1ZM286.4,383.6 282.9,385.1 282,386.4 287.5,387.5 292.6,387.3 287,384.7ZM276.5,363.8 277.5,366.4M298.9,267.4 300.3,268.3M268.7,238.2 270.7,238.8M269.2,241.2 269.9,243M274.7,243 275.6,244.8M276.9,212.4 280.2,211.7M293.9,195.5 298.5,196.8M294.3,201.4 298.5,201.9M299.8,203.2 302.2,200.8 301.3,202.7M261.9,189.6 264.6,190.2M264.6,172.8 266.5,173.9M260.1,171.9 262.8,172.2 261,173ZM271,162.7 273.8,163.2 272,163.8ZM229.9,160.5 233,159.5 236.3,159 236.3,161.2 233,162ZM188.7,147.7 190.9,146.2 193.8,146.8 196,145.3 199.7,146.8 196.9,146.8 194.2,147.8 191.5,147.2ZM205.1,143.1 207.8,141.9 210.6,142.9 209.7,143.8ZM219.8,143.6 222.7,142.1 225.6,141.2 228.9,141.8 230.8,144 228.1,145.2 225.3,144.4 222.4,145ZM232.6,142.5 235.3,143.9 238.1,142.9 236.3,144.2ZM263.7,152.2 267.3,153.4 271,152.6 269.2,153.7 266.2,153.7ZM129.2,181.6 133.2,180.7 131.9,182.5ZM168.5,188 170.7,188.9 171.8,191.3 169.5,189.8M105.7,176.6 108.7,176.4 108.1,177.4ZM97.7,170.6 102.6,170.9 100.3,171.5ZM104.5,188.9 107.2,188M100.8,190.2 103.6,189.5M92.6,191.5 96.2,191.1M86.2,192.2 89.8,191.8M736,192 739.7,192.8M727.8,190 729.6,190.2M100.1,182.1 100.8,182.3M83.4,156.5 86.9,156.5M509.8,263.9 511.8,264.1M483.9,297.6 484.3,298.7M484.7,296.2 484.9,296.9M491.3,308.1 491.6,308.8M513.2,325.5 514.1,325.9M517.1,323.8 517.6,324.4M581.9,262.2 581.7,265.6M583.7,273.8 583.5,274.5M545.6,275.1 546,280.6M546.2,283.3 546,287.9M544.7,265.9 545.3,267.8M589.9,284.4 591,285.9M592.7,288.8 593.6,290.3M660,288.5 661.3,289M657.7,297.1 658.6,299.5M652.2,300.4 653.1,301.7M650.5,307.9 652.5,307.9 651.4,308.6ZM661.7,312.3 662.6,313M662.1,352.5 664.6,352.8M718.8,373 719.9,373.5M88.4,367.3 89.3,367.7M715.9,379.8 716.4,380.1M467.8,177 471.5,174.2 468.7,173.7 466.9,175.2ZM476.1,175.2 477.9,172.4 475.2,173.3ZM434.9,179.8 437.3,178.3 436.7,179.6ZM551.7,209.1 555.3,209.3M283.9,315.4 285.7,316.9M254.6,264.6 256.4,266.3M207.9,179.4 210.5,178.4 213.5,179.9 216.1,178.3M224.4,182.5 225.3,180.7M477.9,278.8 478.3,281.9M494.7,217.3 495.7,218.6M489.8,215.9 491.6,216.4M653.6,204.1 655.1,205.1M593.2,150.4 596.9,150.5 600.5,150.2M626.5,196.8 627.6,197.7M594.5,219.2 596.3,219.7M617.9,233.3 618.9,233.8M601.8,262.8 603.3,264.1M227.7,189.5 229.7,191.7 231.7,194.4M237.7,196.1 239.4,197.2M249.3,195.1 250.7,196.2M235.4,148.6 238.1,148.2 240.8,148.4 239.9,150 236.3,149.9ZM203.3,144.4 206.5,144.1 209.7,144 208.8,145.3 206,145.4ZM218,144.7 220.7,145.5M236.3,144.4 239,144.8 241.8,144.7 239,145.3ZM243.6,144.7 246.3,145.5 249.1,145.1 246.3,145.8ZM228.9,140.2 231.7,140.7M246.3,146.2 248.2,146.8M274.7,162.3 276.5,163.2M266.5,159.9 269.2,160.9M264.6,158.7 266.8,159.4M252.7,162 254.6,162.7M257.3,166 258.8,166.6M268.3,170.8 270.1,171.3M270.5,170.2 272,170.8M292.1,173.9 293.6,174.6M287,175.9 288.1,176.6M265.6,183.1 267.4,184.3 265.9,184.7M266.1,191.5 267.4,191.8M255.5,159 258.2,161.4 261,161.8M243.6,157.8 240.8,159.6 242.7,161.4M232.6,162 236.3,163.2 238.1,162.3M213.4,162.3 214.3,164.5M287.5,165.4 289.8,166.6 292.1,167.8 294.8,166.9M286.6,170.2 291.2,172M272.9,167.3 275.5,168.7 278.4,168.4M254.6,152.2 255.5,155M217,151.9 220.7,152.6M193.2,147.8 196.4,148.4M218.9,148.8 222.5,148.9 221.6,147.8ZM201.5,144 203.3,144.4M312.2,158.3 316.8,158.8 314.1,159.9ZM360.7,156.8 363.7,156.5 366.2,158.1 370.8,157.8M362.6,153.2 367.2,154.5" stroke="#000" stroke-width="1" fill="none" stroke-linejoin="round" stroke-linecap="round"/>
</g>
<path d="M82.5,452 v-7 M82.5,122 v7 M100.8,452 v-3.5 M100.8,122 v3.5 M119.1,452 v-3.5 M119.1,122 v3.5 M137.4,452 v-3.5 M137.4,122 v3.5 M155.7,452 v-3.5 M155.7,122 v3.5 M174,452 v-3.5 M174,122 v3.5 M192.3,452 v-7 M192.3,122 v7 M210.6,452 v-3.5 M210.6,122 v3.5 M228.9,452 v-3.5 M228.9,122 v3.5 M247.2,452 v-3.5 M247.2,122 v3.5 M265.6,452 v-3.5 M265.6,122 v3.5 M283.9,452 v-3.5 M283.9,122 v3.5 M302.2,452 v-7 M302.2,122 v7 M320.5,452 v-3.5 M320.5,122 v3.5 M338.8,452 v-3.5 M338.8,122 v3.5 M357.1,452 v-3.5 M357.1,122 v3.5 M375.4,452 v-3.5 M375.4,122 v3.5 M393.7,452 v-3.5 M393.7,122 v3.5 M412,452 v-7 M412,122 v7 M430.3,452 v-3.5 M430.3,122 v3.5 M448.6,452 v-3.5 M448.6,122 v3.5 M466.9,452 v-3.5 M466.9,122 v3.5 M485.2,452 v-3.5 M485.2,122 v3.5 M503.5,452 v-3.5 M503.5,122 v3.5 M521.8,452 v-7 M521.8,122 v7 M540.1,452 v-3.5 M540.1,122 v3.5 M558.4,452 v-3.5 M558.4,122 v3.5 M576.8,452 v-3.5 M576.8,122 v3.5 M595.1,452 v-3.5 M595.1,122 v3.5 M613.4,452 v-3.5 M613.4,122 v3.5 M631.7,452 v-7 M631.7,122 v7 M650,452 v-3.5 M650,122 v3.5 M668.3,452 v-3.5 M668.3,122 v3.5 M686.6,452 v-3.5 M686.6,122 v3.5 M704.9,452 v-3.5 M704.9,122 v3.5 M723.2,452 v-3.5 M723.2,122 v3.5 M741.5,452 v-7 M741.5,122 v7 M82.5,122 h3.5 M741.5,122 h-3.5 M82.5,140.3 h7 M741.5,140.3 h-7 M82.5,158.7 h3.5 M741.5,158.7 h-3.5 M82.5,177 h3.5 M741.5,177 h-3.5 M82.5,195.3 h3.5 M741.5,195.3 h-3.5 M82.5,213.7 h7 M741.5,213.7 h-7 M82.5,232 h3.5 M741.5,232 h-3.5 M82.5,250.3 h3.5 M741.5,250.3 h-3.5 M82.5,268.7 h3.5 M741.5,268.7 h-3.5 M82.5,287 h7 M741.5,287 h-7 M82.5,305.3 h3.5 M741.5,305.3 h-3.5 M82.5,323.7 h3.5 M741.5,323.7 h-3.5 M82.5,342 h3.5 M741.5,342 h-3.5 M82.5,360.3 h7 M741.5,360.3 h-7 M82.5,378.7 h3.5 M741.5,378.7 h-3.5 M82.5,397 h3.5 M741.5,397 h-3.5 M82.5,415.3 h3.5 M741.5,415.3 h-3.5 M82.5,433.7 h7 M741.5,433.7 h-7 M82.5,452 h3.5 M741.5,452 h-3.5" stroke="#222" stroke-width="1" fill="none"/>
<rect x="82.5" y="122" width="659" height="330" fill="none" stroke="#333" stroke-width="1"/>
<text x="82.5" y="471.8" text-anchor="middle" class="ax">180</text>
<text x="192.3" y="471.8" text-anchor="middle" class="ax">120W</text>
<text x="302.2" y="471.8" text-anchor="middle" class="ax">60W</text>
<text x="412" y="471.8" text-anchor="middle" class="ax">0</text>
<text x="521.8" y="471.8" text-anchor="middle" class="ax">60E</text>
<text x="631.7" y="471.8" text-anchor="middle" class="ax">120E</text>
<text x="741.5" y="471.8" text-anchor="middle" class="ax">180</text>
<text x="73.5" y="145.1" text-anchor="end" class="ax">80N</text>
<text x="73.5" y="218.5" text-anchor="end" class="ax">40N</text>
<text x="73.5" y="291.8" text-anchor="end" class="ax">0</text>
<text x="73.5" y="365.1" text-anchor="end" class="ax">40S</text>
<text x="73.5" y="438.5" text-anchor="end" class="ax">80S</text>
<rect x="84.5" y="495" width="65.8" height="12" fill="#f5f5f4"/>
<rect x="150.1" y="495" width="65.8" height="12" fill="#fdf3df"/>
<rect x="215.6" y="495" width="65.8" height="12" fill="#f3fcc8"/>
<rect x="281.1" y="495" width="65.8" height="12" fill="#bef8af"/>
<rect x="346.7" y="495" width="65.8" height="12" fill="#90f5b8"/>
<rect x="412.2" y="495" width="65.8" height="12" fill="#84f1ea"/>
<rect x="477.8" y="495" width="65.8" height="12" fill="#6ba2f6"/>
<rect x="543.3" y="495" width="65.8" height="12" fill="#7547f2"/>
<rect x="608.9" y="495" width="65.8" height="12" fill="#e22fe0"/>
<rect x="674.4" y="495" width="65.8" height="12" fill="#fe0000"/>
<path d="M150.1,495 v12 M215.6,495 v12 M281.1,495 v12 M346.7,495 v12 M412.2,495 v12 M477.8,495 v12 M543.3,495 v12 M608.9,495 v12 M674.4,495 v12" stroke="#1a1a1a" stroke-width="1" fill="none" shape-rendering="crispEdges"/>
<rect x="84.5" y="495" width="655.5" height="12" fill="none" stroke="#333" stroke-width="1" shape-rendering="crispEdges"/>
<text x="150.1" y="523.7" text-anchor="middle" class="cb">10</text>
<text x="215.6" y="523.7" text-anchor="middle" class="cb">20</text>
<text x="281.1" y="523.7" text-anchor="middle" class="cb">30</text>
<text x="346.7" y="523.7" text-anchor="middle" class="cb">40</text>
<text x="412.2" y="523.7" text-anchor="middle" class="cb">50</text>
<text x="477.8" y="523.7" text-anchor="middle" class="cb">60</text>
<text x="543.3" y="523.7" text-anchor="middle" class="cb">70</text>
<text x="608.9" y="523.7" text-anchor="middle" class="cb">80</text>
<text x="674.4" y="523.7" text-anchor="middle" class="cb">90</text>
<text x="413.8" y="90.2" text-anchor="middle" class="title" textLength="500" lengthAdjust="spacing">Tot. Cloud Cov. (random overlap, in %)</text>
<text x="82.5" y="118.2" class="sub">Expt = temqP</text>
<text x="412.2" y="112.6" text-anchor="middle" class="sub">14.5kyr BP</text>
<text x="742.2" y="115.8" text-anchor="end" class="sub">DJF</text>
</svg>
</body></html>
